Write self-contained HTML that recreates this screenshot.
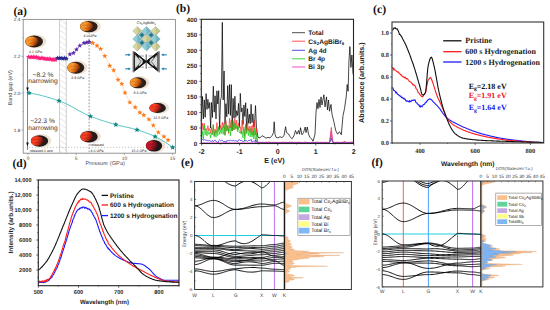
<!DOCTYPE html>
<html><head><meta charset="utf-8"><style>
html,body{margin:0;padding:0;background:#fff;width:550px;height:310px;overflow:hidden}
svg{display:block}
text{text-rendering:geometricPrecision}
</style></head><body>
<svg width="550" height="310" viewBox="0 0 550 310">
<rect width="550" height="310" fill="#fff"/>
<g id="pa">
<defs><pattern id="hatch" patternUnits="userSpaceOnUse" width="4.5" height="4.5" patternTransform="rotate(-55)"><line x1="0" y1="0" x2="0" y2="4.5" stroke="#c8c8c8" stroke-width="0.8"/></pattern></defs>
<rect x="59.5" y="19.4" width="6.8" height="133.5" fill="url(#hatch)"/>
<line x1="59.5" y1="19.4" x2="59.5" y2="152.9" stroke="#bbb" stroke-width="0.7"/><line x1="66.3" y1="19.4" x2="66.3" y2="152.9" stroke="#bbb" stroke-width="0.7"/>
<line x1="89.1" y1="19.4" x2="89.1" y2="152.9" stroke="#444" stroke-width="0.6" stroke-dasharray="1.6,1.6"/>
<line x1="29" y1="147.3" x2="173" y2="147.3" stroke="#999" stroke-width="0.6" stroke-dasharray="1.2,1.8"/>
<line x1="27.5" y1="59" x2="27.5" y2="150" stroke="#333" stroke-width="0.6"/>
<polygon points="26.2,87.5 28.8,87.5 27.5,91.5" fill="#111"/>
<polygon points="26.2,142.5 28.8,142.5 27.5,146.5" fill="#111"/>
<defs><linearGradient id="g9" x1="0" y1="0" x2="1" y2="0.3"><stop offset="0" stop-color="#f58a20"/><stop offset="0.45" stop-color="#f39a30"/><stop offset="0.75" stop-color="#d86010"/><stop offset="1" stop-color="#7a3010"/></linearGradient></defs><ellipse cx="35.7" cy="41.3" rx="10.5" ry="6.9" fill="#ece2d4"/><ellipse cx="34.1" cy="41.5" rx="8.9" ry="5.9" fill="#2e2019"/><path d="M25.4,41.5 C25.4,36.8 30.5,35.9 34.5,37.1 C37.2,38.0 39.0,40.3 38.1,42.4 C36.8,44.7 33.2,46.5 30.1,46.2 C27.0,45.6 25.4,43.9 25.4,41.5 Z" fill="url(#g9)"/><path d="M27.9,40.3 L35.9,39.4 M28.8,43.6 L35.0,42.7" stroke="#a04810" stroke-width="0.5" opacity="0.6"/>
<defs><linearGradient id="g10" x1="0" y1="0" x2="1" y2="0.3"><stop offset="0" stop-color="#f58a20"/><stop offset="0.45" stop-color="#f39a30"/><stop offset="0.75" stop-color="#d86010"/><stop offset="1" stop-color="#7a3010"/></linearGradient></defs><ellipse cx="90.4" cy="26.4" rx="10.4" ry="6.7" fill="#ece2d4"/><ellipse cx="88.8" cy="26.6" rx="8.8" ry="5.7" fill="#2e2019"/><path d="M80.2,26.6 C80.2,22.0 85.3,21.2 89.2,22.3 C91.9,23.2 93.6,25.5 92.8,27.5 C91.4,29.7 87.9,31.4 84.8,31.2 C81.8,30.6 80.2,28.9 80.2,26.6 Z" fill="url(#g10)"/><path d="M82.6,25.5 L90.6,24.6 M83.5,28.6 L89.7,27.7" stroke="#a04810" stroke-width="0.5" opacity="0.6"/>
<defs><linearGradient id="g11" x1="0" y1="0" x2="1" y2="0.3"><stop offset="0" stop-color="#f58a20"/><stop offset="0.45" stop-color="#f39a30"/><stop offset="0.75" stop-color="#d86010"/><stop offset="1" stop-color="#7a3010"/></linearGradient></defs><ellipse cx="77.4" cy="67.6" rx="10.1" ry="7.0" fill="#ece2d4"/><ellipse cx="75.8" cy="67.8" rx="8.5" ry="6" fill="#2e2019"/><path d="M67.5,67.8 C67.5,63.0 72.4,62.1 76.2,63.3 C78.8,64.2 80.5,66.6 79.6,68.7 C78.3,71.1 75.0,72.9 72.0,72.6 C69.0,72.0 67.5,70.2 67.5,67.8 Z" fill="url(#g11)"/><path d="M69.8,66.6 L77.5,65.7 M70.7,69.9 L76.6,69.0" stroke="#a04810" stroke-width="0.5" opacity="0.6"/>
<defs><linearGradient id="g12" x1="0" y1="0" x2="1" y2="0.3"><stop offset="0" stop-color="#f58a20"/><stop offset="0.45" stop-color="#f39a30"/><stop offset="0.75" stop-color="#d86010"/><stop offset="1" stop-color="#7a3010"/></linearGradient></defs><ellipse cx="139.6" cy="82.6" rx="9.9" ry="6.5" fill="#ece2d4"/><ellipse cx="138" cy="82.8" rx="8.3" ry="5.5" fill="#2e2019"/><path d="M129.9,82.8 C129.9,78.4 134.7,77.6 138.4,78.7 C140.9,79.5 142.6,81.7 141.7,83.6 C140.5,85.8 137.2,87.5 134.3,87.2 C131.4,86.6 129.9,85.0 129.9,82.8 Z" fill="url(#g12)"/><path d="M132.2,81.7 L139.7,80.9 M133.0,84.7 L138.8,83.9" stroke="#a04810" stroke-width="0.5" opacity="0.6"/>
<defs><linearGradient id="g13" x1="0" y1="0" x2="1" y2="0.3"><stop offset="0" stop-color="#e83018"/><stop offset="0.45" stop-color="#f84424"/><stop offset="0.75" stop-color="#c82814"/><stop offset="1" stop-color="#5a1810"/></linearGradient></defs><ellipse cx="159.2" cy="107.8" rx="9.9" ry="6.1" fill="#ece2d4"/><ellipse cx="157.6" cy="108" rx="8.3" ry="5.1" fill="#261a1a"/><path d="M149.5,108.0 C149.5,103.9 154.3,103.2 158.0,104.2 C160.5,104.9 162.2,107.0 161.3,108.8 C160.1,110.8 156.8,112.3 153.9,112.1 C151.0,111.6 149.5,110.0 149.5,108.0 Z" fill="url(#g13)"/><path d="M151.8,107.0 L159.3,106.2 M152.6,109.8 L158.4,109.0" stroke="#901010" stroke-width="0.5" opacity="0.6"/>
<defs><linearGradient id="g14" x1="0" y1="0" x2="1" y2="0.3"><stop offset="0" stop-color="#e83018"/><stop offset="0.45" stop-color="#f84424"/><stop offset="0.75" stop-color="#c82814"/><stop offset="1" stop-color="#5a1810"/></linearGradient></defs><ellipse cx="41.1" cy="140.8" rx="10.3" ry="6.8" fill="#ece2d4"/><ellipse cx="39.5" cy="141" rx="8.7" ry="5.8" fill="#261a1a"/><path d="M31.0,141.0 C31.0,136.4 36.0,135.5 39.9,136.7 C42.5,137.5 44.3,139.8 43.4,141.9 C42.1,144.2 38.6,145.9 35.6,145.6 C32.5,145.1 31.0,143.3 31.0,141.0 Z" fill="url(#g14)"/><path d="M33.4,139.8 L41.2,139.0 M34.3,143.0 L40.4,142.2" stroke="#901010" stroke-width="0.5" opacity="0.6"/>
<defs><linearGradient id="g15" x1="0" y1="0" x2="1" y2="0.3"><stop offset="0" stop-color="#e83018"/><stop offset="0.45" stop-color="#f84424"/><stop offset="0.75" stop-color="#c82814"/><stop offset="1" stop-color="#5a1810"/></linearGradient></defs><ellipse cx="90.6" cy="136.5" rx="10.3" ry="6.8" fill="#ece2d4"/><ellipse cx="89" cy="136.7" rx="8.7" ry="5.8" fill="#261a1a"/><path d="M80.5,136.7 C80.5,132.1 85.5,131.2 89.4,132.3 C92.0,133.2 93.8,135.5 92.9,137.6 C91.6,139.9 88.1,141.6 85.1,141.3 C82.0,140.8 80.5,139.0 80.5,136.7 Z" fill="url(#g15)"/><path d="M82.9,135.5 L90.7,134.7 M83.8,138.7 L89.9,137.9" stroke="#901010" stroke-width="0.5" opacity="0.6"/>
<defs><linearGradient id="g16" x1="0" y1="0" x2="1" y2="0.3"><stop offset="0" stop-color="#b01020"/><stop offset="0.45" stop-color="#c41a28"/><stop offset="0.75" stop-color="#901020"/><stop offset="1" stop-color="#401016"/></linearGradient></defs><ellipse cx="155.6" cy="145.6" rx="9.8" ry="6.8" fill="#ece2d4"/><ellipse cx="154" cy="145.8" rx="8.2" ry="5.8" fill="#1e1618"/><path d="M146.0,145.8 C146.0,141.2 150.7,140.3 154.4,141.5 C156.9,142.3 158.5,144.6 157.7,146.7 C156.5,149.0 153.2,150.7 150.3,150.4 C147.4,149.9 146.0,148.1 146.0,145.8 Z" fill="url(#g16)"/><path d="M148.3,144.6 L155.6,143.8 M149.1,147.8 L154.8,147.0" stroke="#701018" stroke-width="0.5" opacity="0.6"/>
<text x="35.5" y="52.6" font-family='"Liberation Sans", sans-serif' font-size="3.5" fill="#222" text-anchor="middle">0.1 GPa</text>
<text x="90" y="36.6" font-family='"Liberation Sans", sans-serif' font-size="3.5" fill="#222" text-anchor="middle">4.0 GPa</text>
<text x="77.7" y="79.2" font-family='"Liberation Sans", sans-serif' font-size="3.5" fill="#222" text-anchor="middle">3.9 GPa</text>
<text x="140" y="93.9" font-family='"Liberation Sans", sans-serif' font-size="3.5" fill="#222" text-anchor="middle">9.4 GPa</text>
<text x="160.7" y="118.9" font-family='"Liberation Sans", sans-serif' font-size="3.5" fill="#222" text-anchor="middle">12.5 GPa</text>
<text x="41.3" y="151.6" font-family='"Liberation Sans", sans-serif' font-size="3.5" fill="#222" text-anchor="middle">released 1 atm</text>
<text x="97" y="146.3" font-family='"Liberation Sans", sans-serif' font-size="3.5" fill="#222" text-anchor="middle">released</text>
<text x="97" y="151.6" font-family='"Liberation Sans", sans-serif' font-size="3.5" fill="#222" text-anchor="middle">4.0 GPa</text>
<text x="139" y="151.6" font-family='"Liberation Sans", sans-serif' font-size="3.5" fill="#222" text-anchor="middle">15.0 GPa</text>
<polyline points="28.5,57.0 30.1,57.2 31.7,57.1 33.3,57.0 34.9,57.3 36.4,57.3 38.0,57.8 39.6,58.4 41.2,58.0 42.8,58.1 44.4,58.7 46.0,58.8 47.6,58.9 49.1,58.8 50.7,59.3 52.3,59.8 53.9,59.3 55.5,59.8" fill="none" stroke="#ff3d8a" stroke-width="0.8"/>
<polygon points="28.50,54.30 29.21,56.02 31.07,56.17 29.66,57.38 30.09,59.18 28.50,58.22 26.91,59.18 27.34,57.38 25.93,56.17 27.79,56.02" fill="#ff1f7a"/>
<polygon points="30.09,54.48 30.80,56.20 32.66,56.35 31.24,57.56 31.68,59.36 30.09,58.39 28.50,59.36 28.93,57.56 27.52,56.35 29.37,56.20" fill="#ff1f7a"/>
<polygon points="31.68,54.39 32.39,56.11 34.24,56.26 32.83,57.47 33.26,59.27 31.68,58.30 30.09,59.27 30.52,57.47 29.11,56.26 30.96,56.11" fill="#ff1f7a"/>
<polygon points="33.26,54.30 33.98,56.02 35.83,56.17 34.42,57.38 34.85,59.19 33.26,58.22 31.68,59.19 32.11,57.38 30.70,56.17 32.55,56.02" fill="#ff1f7a"/>
<polygon points="34.85,54.60 35.57,56.32 37.42,56.46 36.01,57.67 36.44,59.48 34.85,58.51 33.27,59.48 33.70,57.67 32.29,56.46 34.14,56.32" fill="#ff1f7a"/>
<polygon points="36.44,54.56 37.16,56.28 39.01,56.43 37.60,57.64 38.03,59.45 36.44,58.48 34.85,59.45 35.29,57.64 33.87,56.43 35.73,56.28" fill="#ff1f7a"/>
<polygon points="38.03,55.10 38.74,56.81 40.60,56.96 39.18,58.17 39.62,59.98 38.03,59.01 36.44,59.98 36.87,58.17 35.46,56.96 37.32,56.81" fill="#ff1f7a"/>
<polygon points="39.62,55.72 40.33,57.43 42.19,57.58 40.77,58.79 41.20,60.60 39.62,59.63 38.03,60.60 38.46,58.79 37.05,57.58 38.90,57.43" fill="#ff1f7a"/>
<polygon points="41.21,55.25 41.92,56.97 43.77,57.12 42.36,58.33 42.79,60.14 41.21,59.17 39.62,60.14 40.05,58.33 38.64,57.12 40.49,56.97" fill="#ff1f7a"/>
<polygon points="42.79,55.40 43.51,57.11 45.36,57.26 43.95,58.47 44.38,60.28 42.79,59.31 41.21,60.28 41.64,58.47 40.23,57.26 42.08,57.11" fill="#ff1f7a"/>
<polygon points="44.38,55.98 45.10,57.69 46.95,57.84 45.54,59.05 45.97,60.86 44.38,59.89 42.80,60.86 43.23,59.05 41.81,57.84 43.67,57.69" fill="#ff1f7a"/>
<polygon points="45.97,56.13 46.68,57.85 48.54,57.99 47.13,59.20 47.56,61.01 45.97,60.04 44.38,61.01 44.82,59.20 43.40,57.99 45.26,57.85" fill="#ff1f7a"/>
<polygon points="47.56,56.24 48.27,57.96 50.13,58.11 48.71,59.32 49.15,61.13 47.56,60.16 45.97,61.13 46.40,59.32 44.99,58.11 46.84,57.96" fill="#ff1f7a"/>
<polygon points="49.15,56.09 49.86,57.81 51.71,57.96 50.30,59.17 50.73,60.98 49.15,60.01 47.56,60.98 47.99,59.17 46.58,57.96 48.43,57.81" fill="#ff1f7a"/>
<polygon points="50.74,56.62 51.45,58.34 53.30,58.49 51.89,59.70 52.32,61.50 50.74,60.54 49.15,61.50 49.58,59.70 48.17,58.49 50.02,58.34" fill="#ff1f7a"/>
<polygon points="52.32,57.09 53.04,58.81 54.89,58.96 53.48,60.17 53.91,61.98 52.32,61.01 50.74,61.98 51.17,60.17 49.76,58.96 51.61,58.81" fill="#ff1f7a"/>
<polygon points="53.91,56.60 54.63,58.32 56.48,58.47 55.07,59.68 55.50,61.49 53.91,60.52 52.32,61.49 52.76,59.68 51.34,58.47 53.20,58.32" fill="#ff1f7a"/>
<polygon points="55.50,57.14 56.21,58.86 58.07,59.01 56.66,60.22 57.09,62.02 55.50,61.05 53.91,62.02 54.34,60.22 52.93,59.01 54.79,58.86" fill="#ff1f7a"/>
<polygon points="57.50,55.43 58.19,57.08 59.97,57.23 58.61,58.39 59.03,60.13 57.50,59.20 55.97,60.13 56.39,58.39 55.03,57.23 56.81,57.08" fill="#25258f"/>
<polygon points="59.30,55.61 59.99,57.27 61.77,57.41 60.41,58.57 60.83,60.32 59.30,59.38 57.77,60.32 58.19,58.57 56.83,57.41 58.61,57.27" fill="#25258f"/>
<polygon points="61.10,55.45 61.79,57.10 63.57,57.24 62.21,58.41 62.63,60.15 61.10,59.22 59.57,60.15 59.99,58.41 58.63,57.24 60.41,57.10" fill="#25258f"/>
<polygon points="62.90,55.93 63.59,57.58 65.37,57.73 64.01,58.89 64.43,60.63 62.90,59.70 61.37,60.63 61.79,58.89 60.43,57.73 62.21,57.58" fill="#25258f"/>
<polygon points="64.70,55.62 65.39,57.27 67.17,57.42 65.81,58.58 66.23,60.32 64.70,59.39 63.17,60.32 63.59,58.58 62.23,57.42 64.01,57.27" fill="#25258f"/>
<polygon points="66.50,56.08 67.19,57.73 68.97,57.88 67.61,59.04 68.03,60.78 66.50,59.85 64.97,60.78 65.39,59.04 64.03,57.88 65.81,57.73" fill="#25258f"/>
<polyline points="69.9,54.3 73.5,53.0 76.5,49.5 79.8,45.7 83.9,43.0 86.1,42.6 88.2,42.0 89.5,42.0" fill="none" stroke="#6a3aa8" stroke-width="0.6"/>
<polygon points="69.90,51.70 70.59,53.35 72.37,53.50 71.01,54.66 71.43,56.40 69.90,55.47 68.37,56.40 68.79,54.66 67.43,53.50 69.21,53.35" fill="#5f30a8"/>
<polygon points="73.50,50.40 74.19,52.05 75.97,52.20 74.61,53.36 75.03,55.10 73.50,54.17 71.97,55.10 72.39,53.36 71.03,52.20 72.81,52.05" fill="#5f30a8"/>
<polygon points="76.50,46.90 77.19,48.55 78.97,48.70 77.61,49.86 78.03,51.60 76.50,50.67 74.97,51.60 75.39,49.86 74.03,48.70 75.81,48.55" fill="#5f30a8"/>
<polygon points="79.80,43.10 80.49,44.75 82.27,44.90 80.91,46.06 81.33,47.80 79.80,46.87 78.27,47.80 78.69,46.06 77.33,44.90 79.11,44.75" fill="#5f30a8"/>
<polygon points="83.90,40.40 84.59,42.05 86.37,42.20 85.01,43.36 85.43,45.10 83.90,44.17 82.37,45.10 82.79,43.36 81.43,42.20 83.21,42.05" fill="#5f30a8"/>
<polygon points="86.10,40.00 86.79,41.65 88.57,41.80 87.21,42.96 87.63,44.70 86.10,43.77 84.57,44.70 84.99,42.96 83.63,41.80 85.41,41.65" fill="#5f30a8"/>
<polygon points="88.20,39.40 88.89,41.05 90.67,41.20 89.31,42.36 89.73,44.10 88.20,43.17 86.67,44.10 87.09,42.36 85.73,41.20 87.51,41.05" fill="#5f30a8"/>
<polygon points="89.50,39.40 90.19,41.05 91.97,41.20 90.61,42.36 91.03,44.10 89.50,43.17 87.97,44.10 88.39,42.36 87.03,41.20 88.81,41.05" fill="#5f30a8"/>
<polyline points="92.7,43.0 97.0,45.7 100.6,48.9 104.8,56.1 109.7,65.8 113.7,70.2 118.1,79.8 121.8,83.9 125.0,92.7 129.8,102.4 135.2,107.3 139.9,112.5 143.7,115.0 148.9,119.4 153.3,125.4 158.4,132.4 163.9,136.6 168.0,140.0" fill="none" stroke="#ff9a4a" stroke-width="0.6" stroke-dasharray="1.2,1"/>
<polygon points="92.70,40.30 93.41,42.02 95.27,42.17 93.86,43.38 94.29,45.18 92.70,44.22 91.11,45.18 91.54,43.38 90.13,42.17 91.99,42.02" fill="#ff7a1a"/>
<polygon points="97.00,43.00 97.71,44.72 99.57,44.87 98.16,46.08 98.59,47.88 97.00,46.92 95.41,47.88 95.84,46.08 94.43,44.87 96.29,44.72" fill="#ff7a1a"/>
<polygon points="100.60,46.20 101.31,47.92 103.17,48.07 101.76,49.28 102.19,51.08 100.60,50.12 99.01,51.08 99.44,49.28 98.03,48.07 99.89,47.92" fill="#ff7a1a"/>
<polygon points="104.80,53.40 105.51,55.12 107.37,55.27 105.96,56.48 106.39,58.28 104.80,57.32 103.21,58.28 103.64,56.48 102.23,55.27 104.09,55.12" fill="#ff7a1a"/>
<polygon points="109.70,63.10 110.41,64.82 112.27,64.97 110.86,66.18 111.29,67.98 109.70,67.02 108.11,67.98 108.54,66.18 107.13,64.97 108.99,64.82" fill="#ff7a1a"/>
<polygon points="113.70,67.50 114.41,69.22 116.27,69.37 114.86,70.58 115.29,72.38 113.70,71.42 112.11,72.38 112.54,70.58 111.13,69.37 112.99,69.22" fill="#ff7a1a"/>
<polygon points="118.10,77.10 118.81,78.82 120.67,78.97 119.26,80.18 119.69,81.98 118.10,81.02 116.51,81.98 116.94,80.18 115.53,78.97 117.39,78.82" fill="#ff7a1a"/>
<polygon points="121.80,81.20 122.51,82.92 124.37,83.07 122.96,84.28 123.39,86.08 121.80,85.12 120.21,86.08 120.64,84.28 119.23,83.07 121.09,82.92" fill="#ff7a1a"/>
<polygon points="125.00,90.00 125.71,91.72 127.57,91.87 126.16,93.08 126.59,94.88 125.00,93.92 123.41,94.88 123.84,93.08 122.43,91.87 124.29,91.72" fill="#ff7a1a"/>
<polygon points="129.80,99.70 130.51,101.42 132.37,101.57 130.96,102.78 131.39,104.58 129.80,103.62 128.21,104.58 128.64,102.78 127.23,101.57 129.09,101.42" fill="#ff7a1a"/>
<polygon points="135.20,104.60 135.91,106.32 137.77,106.47 136.36,107.68 136.79,109.48 135.20,108.52 133.61,109.48 134.04,107.68 132.63,106.47 134.49,106.32" fill="#ff7a1a"/>
<polygon points="139.90,109.80 140.61,111.52 142.47,111.67 141.06,112.88 141.49,114.68 139.90,113.72 138.31,114.68 138.74,112.88 137.33,111.67 139.19,111.52" fill="#ff7a1a"/>
<polygon points="143.70,112.30 144.41,114.02 146.27,114.17 144.86,115.38 145.29,117.18 143.70,116.22 142.11,117.18 142.54,115.38 141.13,114.17 142.99,114.02" fill="#ff7a1a"/>
<polygon points="148.90,116.70 149.61,118.42 151.47,118.57 150.06,119.78 150.49,121.58 148.90,120.62 147.31,121.58 147.74,119.78 146.33,118.57 148.19,118.42" fill="#ff7a1a"/>
<polygon points="153.30,122.70 154.01,124.42 155.87,124.57 154.46,125.78 154.89,127.58 153.30,126.62 151.71,127.58 152.14,125.78 150.73,124.57 152.59,124.42" fill="#ff7a1a"/>
<polygon points="158.40,129.70 159.11,131.42 160.97,131.57 159.56,132.78 159.99,134.58 158.40,133.62 156.81,134.58 157.24,132.78 155.83,131.57 157.69,131.42" fill="#ff7a1a"/>
<polygon points="163.90,133.90 164.61,135.62 166.47,135.77 165.06,136.98 165.49,138.78 163.90,137.81 162.31,138.78 162.74,136.98 161.33,135.77 163.19,135.62" fill="#ff7a1a"/>
<polygon points="168.00,137.30 168.71,139.02 170.57,139.17 169.16,140.38 169.59,142.18 168.00,141.22 166.41,142.18 166.84,140.38 165.43,139.17 167.29,139.02" fill="#ff7a1a"/>
<polyline points="29.0,93.0 30.8,93.3 32.6,93.6 34.5,93.9 36.3,94.3 38.1,94.7 39.9,95.1 41.7,95.6 43.6,96.1 45.4,96.5 47.2,97.1 49.0,97.6 50.8,98.1 52.6,98.7 54.5,99.3 56.3,99.9 58.1,100.5 59.9,101.1 61.7,101.8 63.6,102.6 65.4,103.4 67.2,104.3 69.0,105.3 70.8,106.2 72.7,107.2 74.5,108.2 76.3,109.2 78.1,110.3 79.9,111.3 81.8,112.2 83.6,113.2 85.4,114.1 87.2,114.9 89.0,115.7 90.8,116.5 92.7,117.2 94.5,117.8 96.3,118.5 98.1,119.1 99.9,119.8 101.8,120.4 103.6,121.0 105.4,121.5 107.2,122.1 109.0,122.6 110.9,123.2 112.7,123.7 114.5,124.2 116.3,124.7 118.1,125.2 119.9,125.7 121.8,126.1 123.6,126.5 125.4,126.9 127.2,127.3 129.0,127.7 130.9,128.2 132.7,128.6 134.5,129.1 136.3,129.6 138.1,130.1 140.0,130.7 141.8,131.3 143.6,131.9 145.4,132.6 147.2,133.3 149.1,134.0 150.9,134.7 152.7,135.5 154.5,136.3 156.3,137.2 158.1,138.1 160.0,139.1 161.8,140.1 163.6,141.2 165.4,142.4 167.2,143.6 169.1,144.8 170.9,146.1 172.7,147.4" fill="none" stroke="#2ab5b2" stroke-width="0.8"/>
<polygon points="29.00,90.10 29.77,91.94 31.76,92.10 30.24,93.40 30.70,95.35 29.00,94.31 27.30,95.35 27.76,93.40 26.24,92.10 28.23,91.94" fill="#0f8585"/>
<polygon points="59.00,97.90 59.77,99.74 61.76,99.90 60.24,101.20 60.70,103.15 59.00,102.11 57.30,103.15 57.76,101.20 56.24,99.90 58.23,99.74" fill="#0f8585"/>
<polygon points="90.40,113.40 91.17,115.24 93.16,115.40 91.64,116.70 92.10,118.65 90.40,117.61 88.70,118.65 89.16,116.70 87.64,115.40 89.63,115.24" fill="#0f8585"/>
<polygon points="115.80,121.70 116.57,123.54 118.56,123.70 117.04,125.00 117.50,126.95 115.80,125.91 114.10,126.95 114.56,125.00 113.04,123.70 115.03,123.54" fill="#0f8585"/>
<polygon points="137.00,126.90 137.77,128.74 139.76,128.90 138.24,130.20 138.70,132.15 137.00,131.11 135.30,132.15 135.76,130.20 134.24,128.90 136.23,128.74" fill="#0f8585"/>
<polygon points="155.10,133.70 155.87,135.54 157.86,135.70 156.34,137.00 156.80,138.95 155.10,137.91 153.40,138.95 153.86,137.00 152.34,135.70 154.33,135.54" fill="#0f8585"/>
<polygon points="172.70,144.50 173.47,146.34 175.46,146.50 173.94,147.80 174.40,149.75 172.70,148.71 171.00,149.75 171.46,147.80 169.94,146.50 171.93,146.34" fill="#0f8585"/>
<polygon points="137.3,26.4 141.8,30.9 137.3,35.4 132.8,30.9" fill="#c2c488" stroke="#6a7a70" stroke-width="0.3"/><polygon points="132.8,30.9 137.3,26.4 137.3,35.4" fill="#dcdca8" opacity="0.8"/><polygon points="146.5,26.4 151.0,30.9 146.5,35.4 142.0,30.9" fill="#6fb6c8" stroke="#6a7a70" stroke-width="0.3"/><polygon points="142.0,30.9 146.5,26.4 146.5,35.4" fill="#9ad4dc" opacity="0.8"/><polygon points="155.7,26.4 160.2,30.9 155.7,35.4 151.2,30.9" fill="#c2c488" stroke="#6a7a70" stroke-width="0.3"/><polygon points="151.2,30.9 155.7,26.4 155.7,35.4" fill="#dcdca8" opacity="0.8"/><polygon points="137.3,34.4 141.8,38.9 137.3,43.4 132.8,38.9" fill="#6fb6c8" stroke="#6a7a70" stroke-width="0.3"/><polygon points="132.8,38.9 137.3,34.4 137.3,43.4" fill="#9ad4dc" opacity="0.8"/><polygon points="146.5,34.4 151.0,38.9 146.5,43.4 142.0,38.9" fill="#c2c488" stroke="#6a7a70" stroke-width="0.3"/><polygon points="142.0,38.9 146.5,34.4 146.5,43.4" fill="#dcdca8" opacity="0.8"/><polygon points="155.7,34.4 160.2,38.9 155.7,43.4 151.2,38.9" fill="#6fb6c8" stroke="#6a7a70" stroke-width="0.3"/><polygon points="151.2,38.9 155.7,34.4 155.7,43.4" fill="#9ad4dc" opacity="0.8"/><polygon points="137.3,42.0 141.8,46.5 137.3,51.0 132.8,46.5" fill="#c2c488" stroke="#6a7a70" stroke-width="0.3"/><polygon points="132.8,46.5 137.3,42.0 137.3,51.0" fill="#dcdca8" opacity="0.8"/><polygon points="146.5,42.0 151.0,46.5 146.5,51.0 142.0,46.5" fill="#6fb6c8" stroke="#6a7a70" stroke-width="0.3"/><polygon points="142.0,46.5 146.5,42.0 146.5,51.0" fill="#9ad4dc" opacity="0.8"/><polygon points="155.7,42.0 160.2,46.5 155.7,51.0 151.2,46.5" fill="#c2c488" stroke="#6a7a70" stroke-width="0.3"/><polygon points="151.2,46.5 155.7,42.0 155.7,51.0" fill="#dcdca8" opacity="0.8"/><polygon points="141.9,31.9 144.9,34.9 141.9,37.9 138.9,34.9" fill="#3f8fb0" stroke="#3a6a80" stroke-width="0.3"/><ellipse cx="141.9" cy="34.9" rx="1.3" ry="0.9" fill="#0c7a5a"/><polygon points="151.1,31.9 154.1,34.9 151.1,37.9 148.1,34.9" fill="#3f8fb0" stroke="#3a6a80" stroke-width="0.3"/><ellipse cx="151.1" cy="34.9" rx="1.3" ry="0.9" fill="#0c7a5a"/><polygon points="141.9,39.7 144.9,42.7 141.9,45.7 138.9,42.7" fill="#3f8fb0" stroke="#3a6a80" stroke-width="0.3"/><ellipse cx="141.9" cy="42.7" rx="1.3" ry="0.9" fill="#0c7a5a"/><polygon points="151.1,39.7 154.1,42.7 151.1,45.7 148.1,42.7" fill="#3f8fb0" stroke="#3a6a80" stroke-width="0.3"/><ellipse cx="151.1" cy="42.7" rx="1.3" ry="0.9" fill="#0c7a5a"/>
<text x="146.3" y="24.4" font-family='"Liberation Sans", sans-serif' font-size="3.8" fill="#333" text-anchor="middle">Cs<tspan font-size="2.5" dy="0.8">2</tspan><tspan dy="-0.8">AgBiBr</tspan><tspan font-size="2.5" dy="0.8">6</tspan></text>
<rect x="132.6" y="51.2" width="1.5" height="21.2" fill="#777"/><rect x="158.3" y="51.2" width="1.5" height="21.2" fill="#777"/><polygon points="134.5,52 146,61.6 134.5,71.2" fill="#d8dcdc" stroke="#111" stroke-width="0.9"/><polygon points="157.9,52 146.4,61.6 157.9,71.2" fill="#d8dcdc" stroke="#111" stroke-width="0.9"/><path d="M136,54 L146,61.6 L136,69.2 M156.4,54 L146.4,61.6 L156.4,69.2" stroke="#111" stroke-width="1.3" fill="none"/><path d="M137.5,57 L141,61.6 L137.5,66.2 M154.9,57 L151.4,61.6 L154.9,66.2" stroke="#222" stroke-width="0.6" fill="none"/><polygon points="141.5,57.6 146,61.6 141.5,65.6 143,61.6" fill="#111"/><polygon points="150.9,57.6 146.4,61.6 150.9,65.6 149.4,61.6" fill="#111"/><path d="M135,53.5 L139,57.5 M135,69.7 L139,65.7 M157.4,53.5 L153.4,57.5 M157.4,69.7 L153.4,65.7" stroke="#111" stroke-width="1.6"/><path d="M135,56 L144,56 M135,67.2 L144,67.2 M148.4,56 L157.4,56 M148.4,67.2 L157.4,67.2" stroke="#333" stroke-width="0.45" fill="none"/><line x1="146.2" y1="54.3" x2="146.2" y2="68.8" stroke="#333" stroke-width="0.9"/>
<line x1="125.2" y1="54.8" x2="129.5" y2="54.8" stroke="#1f7fae" stroke-width="1.1"/><polygon points="130.8,54.8 128.4,53.4 128.4,56.199999999999996" fill="#1f7fae"/>
<line x1="162.5" y1="54.8" x2="166.8" y2="54.8" stroke="#1f7fae" stroke-width="1.1"/><polygon points="161.2,54.8 163.6,53.4 163.6,56.199999999999996" fill="#1f7fae"/>
<line x1="125.2" y1="68.8" x2="129.5" y2="68.8" stroke="#1f7fae" stroke-width="1.1"/><polygon points="130.8,68.8 128.4,67.39999999999999 128.4,70.2" fill="#1f7fae"/>
<line x1="162.5" y1="68.8" x2="166.8" y2="68.8" stroke="#1f7fae" stroke-width="1.1"/><polygon points="161.2,68.8 163.6,67.39999999999999 163.6,70.2" fill="#1f7fae"/>
<text x="43" y="77" font-family='"Liberation Sans", sans-serif' font-size="6.7" fill="#333" text-anchor="middle">~8.2 %</text>
<text x="43" y="83.3" font-family='"Liberation Sans", sans-serif' font-size="6.7" fill="#333" text-anchor="middle">narrowing</text>
<text x="42.5" y="122.5" font-family='"Liberation Sans", sans-serif' font-size="6.7" fill="#333" text-anchor="middle">~22.3 %</text>
<text x="43" y="130.3" font-family='"Liberation Sans", sans-serif' font-size="6.7" fill="#333" text-anchor="middle">narrowing</text>
<rect x="23.2" y="19.4" width="152.2" height="133.8" fill="none" stroke="#8a8a8a" stroke-width="0.9"/>
<line x1="21.5" y1="19.4" x2="23.2" y2="19.4" stroke="#777" stroke-width="0.6"/>
<text x="20.4" y="21.1" font-family='"Liberation Sans", sans-serif' font-size="4.7" fill="#333" text-anchor="end">2.4</text>
<line x1="21.5" y1="56.3" x2="23.2" y2="56.3" stroke="#777" stroke-width="0.6"/>
<text x="20.4" y="58.0" font-family='"Liberation Sans", sans-serif' font-size="4.7" fill="#333" text-anchor="end">2.2</text>
<line x1="21.5" y1="93.2" x2="23.2" y2="93.2" stroke="#777" stroke-width="0.6"/>
<text x="20.4" y="94.9" font-family='"Liberation Sans", sans-serif' font-size="4.7" fill="#333" text-anchor="end">2.0</text>
<line x1="21.5" y1="130.1" x2="23.2" y2="130.1" stroke="#777" stroke-width="0.6"/>
<text x="20.4" y="131.8" font-family='"Liberation Sans", sans-serif' font-size="4.7" fill="#333" text-anchor="end">1.8</text>
<line x1="22.2" y1="37.9" x2="23.2" y2="37.9" stroke="#777" stroke-width="0.5"/>
<line x1="22.2" y1="74.7" x2="23.2" y2="74.7" stroke="#777" stroke-width="0.5"/>
<line x1="22.2" y1="111.7" x2="23.2" y2="111.7" stroke="#777" stroke-width="0.5"/>
<line x1="28.0" y1="153.2" x2="28.0" y2="155" stroke="#777" stroke-width="0.6"/>
<text x="28.0" y="160.4" font-family='"Liberation Sans", sans-serif' font-size="4.9" fill="#444" text-anchor="middle">0</text>
<line x1="76.2" y1="153.2" x2="76.2" y2="155" stroke="#777" stroke-width="0.6"/>
<text x="76.2" y="160.4" font-family='"Liberation Sans", sans-serif' font-size="4.9" fill="#444" text-anchor="middle">5</text>
<line x1="124.4" y1="153.2" x2="124.4" y2="155" stroke="#777" stroke-width="0.6"/>
<text x="124.4" y="160.4" font-family='"Liberation Sans", sans-serif' font-size="4.9" fill="#444" text-anchor="middle">10</text>
<line x1="172.6" y1="153.2" x2="172.6" y2="155" stroke="#777" stroke-width="0.6"/>
<text x="172.6" y="160.4" font-family='"Liberation Sans", sans-serif' font-size="4.9" fill="#444" text-anchor="middle">15</text>
<text x="105.2" y="165" font-family='"Liberation Sans", sans-serif' font-size="5.7" fill="#555" text-anchor="middle">Pressure (GPa)</text>
<text transform="translate(12.2,87.8) rotate(-90)" font-family='"Liberation Sans", sans-serif' font-size="5.5" fill="#444" text-anchor="middle">Band gap (eV)</text>
<text x="13.4" y="14.6" font-family='"Liberation Serif", serif' font-weight="bold" font-size="11.6" fill="#111">(a)</text>
</g>
<g id="pb">
<defs><clipPath id="cb"><rect x="201.3" y="19.3" width="152.2" height="124.2"/></clipPath></defs>
<g clip-path="url(#cb)">
<polyline points="201.6,119.3 202.5,96.5 203.4,118.9 204.3,99.9 205.2,117.3 206.1,93.6 207.0,109.4 207.9,99.3 208.8,108.4 209.7,102.5 210.6,128.0 211.5,102.5 212.4,117.5 213.3,86.2 214.2,112.2 215.1,95.8 216.0,118.9 216.9,90.8 217.8,104.0 218.7,90.7 219.6,130.0 220.5,100.2 221.4,96.9 222.3,22.4 223.2,100.0 224.1,71.0 225.0,123.9 225.9,103.7 226.8,116.8 227.7,85.6 228.6,114.1 229.5,84.5 230.4,115.4 231.3,84.6 232.2,130.8 233.1,98.4 234.0,118.1 234.9,96.2 235.8,117.4 236.7,110.8 237.6,115.5 238.5,103.4 239.4,126.5 240.3,93.4 241.2,111.8 242.1,107.9 243.0,124.7 243.9,105.0 244.8,116.4 245.7,102.7 246.6,129.2 247.5,108.7 248.4,123.3 249.3,114.3 250.2,123.7 251.1,104.3 252.0,122.7 252.9,113.9 253.8,126.9 254.5,124.9 255.5,105.6 256.5,128.0 258.0,137.3 260.0,137.9 262.0,135.7 264.0,136.7 266.0,138.2 268.0,137.3 270.0,137.9 272.0,135.7 273.5,132.6 274.2,121.8 275.0,134.2 276.0,137.3 278.0,137.9 280.0,136.7 282.0,137.6 284.0,135.7 285.6,126.7 286.5,132.6 288.5,133.9 290.0,136.7 292.0,138.8 294.0,135.7 295.5,130.5 297.0,134.2 298.5,130.5 299.5,134.2 300.5,127.7 302.0,134.8 303.5,132.6 305.2,127.0 306.0,132.6 307.3,127.0 308.5,134.2 310.0,137.3 311.5,138.8 313.1,141.3 315.0,134.2 316.0,112.5 317.0,102.5 318.0,108.7 319.0,99.4 320.0,107.5 321.0,96.9 322.0,105.0 323.9,94.8 325.0,106.9 326.5,96.9 327.5,110.0 328.5,100.0 329.5,111.2 331.0,104.4 332.0,114.3 333.9,121.8 335.7,130.5 337.6,134.2 339.5,131.7 341.3,134.8 343.0,115.6 344.5,108.7 346.2,96.9 347.2,84.5 348.1,91.3 348.9,62.1 349.9,46.6 350.9,67.4 351.9,55.0 353.0,73.6 354.0,76.7" fill="none" stroke="#000" stroke-width="0.72" stroke-linejoin="round"/>
<polyline points="201.6,134.8 202.5,123.2 203.4,129.8 204.3,123.4 205.2,130.1 206.1,128.6 207.0,130.4 207.9,125.7 208.8,130.8 209.7,128.5 210.6,133.1 211.5,127.6 212.4,133.8 213.3,124.9 214.2,135.7 215.1,129.2 216.0,133.0 216.9,122.6 217.8,131.3 218.7,127.3 219.6,130.0 220.5,125.4 221.4,130.3 222.3,122.1 223.2,128.2 224.1,123.1 225.0,135.0 225.9,120.5 226.8,130.8 227.7,125.7 228.6,133.5 229.5,118.4 230.4,127.8 231.3,120.1 232.2,130.8 233.1,122.5 234.0,130.0 234.9,118.2 235.8,129.2 236.7,120.3 237.6,129.5 238.5,123.4 239.4,128.0 240.3,126.7 241.2,133.2 242.1,120.2 243.0,130.3 243.9,128.9 244.8,136.3 245.7,124.3 246.6,131.6 247.5,121.7 248.4,130.9 249.3,126.4 250.2,132.4 251.1,126.0 252.0,134.9 252.9,124.7 253.8,135.6 254.7,120.7 255.6,135.0 256.5,128.0 257.4,142.5 258.3,142.2 259.2,142.2 260.1,142.5 261.0,142.2 261.9,142.5 262.8,142.0 263.7,142.4 264.6,142.5 265.5,142.3 266.4,142.2 267.3,142.4 268.2,141.8 269.1,142.4 270.0,142.4 270.9,142.2 271.8,142.4 272.7,142.4 273.6,142.2 274.5,142.3 275.4,142.4 276.3,142.4 277.2,142.4 278.2,142.4 279.1,142.6 280.0,142.6 280.9,142.6 281.8,142.2 282.7,142.2 283.6,142.3 284.5,142.3 285.4,142.3 286.3,142.2 287.2,142.5 288.1,142.5 289.0,142.2 289.9,142.2 290.8,142.3 291.7,142.1 292.6,142.2 293.5,142.5 294.4,142.1 295.3,142.3 296.2,142.6 297.1,142.2 298.0,142.2 298.9,142.3 299.8,142.3 300.7,142.4 301.6,142.5 302.5,142.5 303.4,142.6 304.3,142.2 305.2,141.9 306.1,142.5 307.0,142.3 307.9,142.5 308.8,142.5 309.7,142.4 310.6,142.5 311.5,142.4 312.4,142.4 313.3,142.4 314.2,142.5 315.1,142.5 316.0,142.1 316.9,142.2 317.8,142.0 318.7,142.5 319.6,142.4 320.5,142.3 321.4,142.3 322.3,142.4 323.2,142.3 324.1,142.6 325.0,142.5 325.9,141.9 326.8,142.5 327.7,142.3 328.6,142.4 329.5,142.2 330.4,135.6 331.3,127.4 332.2,137.3 333.1,142.6 334.0,142.5 334.9,142.2 335.8,142.5 336.7,142.2 337.6,142.4 338.5,142.2 339.4,142.5 340.3,142.5 341.2,142.5 342.1,142.4 343.0,141.9 343.9,142.1 344.8,141.3 345.7,142.1 346.6,142.3 347.5,142.4 348.4,142.3 349.3,142.2 350.2,142.5 351.1,142.1 352.0,141.8 352.9,142.3 353.8,142.5" fill="none" stroke="#ff2a2a" stroke-width="0.7"/>
<polyline points="201.6,139.2 202.5,131.4 203.4,139.4 204.3,124.9 205.2,134.9 206.1,130.2 207.0,136.0 207.9,130.8 208.8,134.4 209.7,132.4 210.6,138.1 211.5,132.9 212.4,134.8 213.3,124.5 214.2,136.7 215.1,131.4 216.0,137.2 216.9,130.2 217.8,135.7 218.7,126.4 219.6,134.4 220.5,130.0 221.4,133.6 222.3,127.5 223.2,134.4 224.1,124.6 225.0,135.5 225.9,123.5 226.8,131.2 227.7,125.3 228.6,132.3 229.5,126.1 230.4,135.8 231.3,122.7 232.2,130.7 233.1,120.3 234.0,129.8 234.9,123.1 235.8,128.3 236.7,125.7 237.6,131.7 238.5,126.9 239.4,133.0 240.3,131.8 241.2,134.2 242.1,130.9 243.0,137.9 243.9,126.6 244.8,141.2 245.7,124.7 246.6,133.9 247.5,127.5 248.4,135.6 249.3,129.5 250.2,136.9 251.1,128.7 252.0,137.1 252.9,131.5 253.8,139.0 254.7,128.1 255.6,143.3 256.5,133.4 257.4,143.0 258.3,143.0 259.2,143.1 260.1,143.1 261.0,143.0 261.9,143.2 262.8,143.1 263.7,143.1 264.6,143.0 265.5,143.1 266.4,143.1 267.3,143.1 268.2,143.2 269.1,143.2 270.0,143.0 270.9,143.1 271.8,143.1 272.7,143.1 273.6,143.0 274.5,143.0 275.4,143.0 276.3,143.0 277.2,143.2 278.2,143.2 279.1,143.0 280.0,143.0 280.9,142.9 281.8,142.9 282.7,143.0 283.6,143.0 284.5,143.1 285.4,143.1 286.3,142.9 287.2,143.2 288.1,143.2 289.0,142.9 289.9,143.1 290.8,143.0 291.7,142.8 292.6,143.0 293.5,143.0 294.4,143.1 295.3,142.9 296.2,143.2 297.1,143.2 298.0,142.9 298.9,143.2 299.8,143.2 300.7,143.2 301.6,143.1 302.5,143.1 303.4,143.0 304.3,143.1 305.2,143.2 306.1,143.1 307.0,143.1 307.9,143.0 308.8,143.2 309.7,142.9 310.6,143.1 311.5,143.1 312.4,143.2 313.3,143.0 314.2,142.9 315.1,142.8 316.0,143.0 316.9,143.1 317.8,142.9 318.7,143.0 319.6,143.1 320.5,143.1 321.4,143.1 322.3,143.1 323.2,142.9 324.1,143.1 325.0,143.1 325.9,143.1 326.8,143.1 327.7,142.8 328.6,143.1 329.5,143.1 330.4,139.5 331.3,134.8 332.2,140.3 333.1,143.0 334.0,143.2 334.9,143.0 335.8,143.1 336.7,143.1 337.6,143.0 338.5,143.0 339.4,143.1 340.3,143.0 341.2,143.0 342.1,143.0 343.0,143.2 343.9,143.2 344.8,143.1 345.7,143.0 346.6,143.2 347.5,143.1 348.4,143.1 349.3,143.2 350.2,143.2 351.1,143.0 352.0,143.0 352.9,142.9 353.8,143.0" fill="none" stroke="#11cc11" stroke-width="0.7"/>
<polyline points="201.6,140.1 202.5,139.5 203.4,140.3 204.3,139.6 205.2,140.1 206.1,140.1 207.0,140.5 207.9,140.7 208.8,140.8 209.7,140.3 210.6,141.5 211.5,141.4 212.4,140.4 213.3,141.8 214.2,140.7 215.1,140.1 216.0,140.9 216.9,142.4 217.8,143.2 218.7,140.7 219.6,139.8 220.5,140.7 221.4,140.3 222.3,140.3 223.2,141.7 224.1,141.7 225.0,141.1 225.9,142.7 226.8,140.6 227.7,140.8 228.6,140.7 229.5,141.0 230.4,140.0 231.3,140.6 232.2,140.9 233.1,140.3 234.0,141.2 234.9,140.7 235.8,140.8 236.7,140.9 237.6,141.9 238.5,140.0 239.4,139.5 240.3,140.6 241.2,140.3 242.1,140.9 243.0,141.7 243.9,141.4 244.8,140.5 245.7,140.9 246.6,140.7 247.5,141.4 248.4,140.5 249.3,140.5 250.2,140.5 251.1,139.3 252.0,142.0 252.9,141.8 253.8,140.8 254.7,141.2 255.6,140.5 256.5,140.7 257.4,142.7 258.3,142.6 259.2,142.6 260.1,142.7 261.0,142.6 261.9,142.6 262.8,142.7 263.7,142.6 264.6,142.6 265.5,142.4 266.4,142.5 267.3,142.5 268.2,142.5 269.1,142.5 270.0,142.5 270.9,142.6 271.8,142.7 272.7,142.7 273.6,142.7 274.5,142.7 275.4,142.6 276.3,142.6 277.2,142.6 278.2,142.6 279.1,142.7 280.0,142.6 280.9,142.6 281.8,142.7 282.7,142.6 283.6,142.7 284.5,142.6 285.4,142.6 286.3,142.4 287.2,142.7 288.1,142.4 289.0,142.6 289.9,142.6 290.8,142.7 291.7,142.6 292.6,142.6 293.5,142.6 294.4,142.7 295.3,142.7 296.2,142.7 297.1,142.7 298.0,142.7 298.9,142.6 299.8,142.6 300.7,142.7 301.6,142.6 302.5,142.7 303.4,142.7 304.3,142.7 305.2,142.7 306.1,142.7 307.0,142.6 307.9,142.7 308.8,142.7 309.7,142.7 310.6,142.7 311.5,142.6 312.4,142.5 313.3,142.6 314.2,142.6 315.1,142.7 316.0,142.6 316.9,142.7 317.8,142.7 318.7,142.6 319.6,142.7 320.5,142.7 321.4,142.6 322.3,142.7 323.2,142.6 324.1,142.5 325.0,142.6 325.9,142.6 326.8,142.7 327.7,142.7 328.6,142.5 329.5,142.7 330.4,140.8 331.3,138.4 332.2,141.0 333.1,142.6 334.0,142.6 334.9,142.6 335.8,142.5 336.7,142.6 337.6,142.7 338.5,142.6 339.4,142.6 340.3,142.7 341.2,142.6 342.1,142.4 343.0,142.7 343.9,142.6 344.8,142.6 345.7,142.6 346.6,142.7 347.5,142.6 348.4,142.6 349.3,142.6 350.2,142.6 351.1,142.7 352.0,142.7 352.9,142.7 353.8,142.6" fill="none" stroke="#2222dd" stroke-width="0.7"/>
<polyline points="201.6,142.8 202.5,142.8 203.4,142.6 204.3,142.6 205.2,142.8 206.1,142.8 207.0,142.6 207.9,142.8 208.8,142.8 209.7,142.8 210.6,142.8 211.5,142.8 212.4,142.6 213.3,142.8 214.2,142.8 215.1,142.8 216.0,142.8 216.9,142.8 217.8,142.5 218.7,142.7 219.6,142.8 220.5,142.7 221.4,142.6 222.3,142.9 223.2,142.6 224.1,142.7 225.0,142.7 225.9,142.8 226.8,142.9 227.7,142.6 228.6,142.8 229.5,142.6 230.4,142.8 231.3,142.9 232.2,142.8 233.1,142.9 234.0,142.8 234.9,142.8 235.8,142.6 236.7,142.9 237.6,142.6 238.5,142.6 239.4,142.7 240.3,142.8 241.2,142.8 242.1,142.7 243.0,142.9 243.9,142.9 244.8,142.8 245.7,142.9 246.6,142.8 247.5,142.9 248.4,142.7 249.3,142.8 250.2,142.5 251.1,142.9 252.0,142.8 252.9,142.8 253.8,142.8 254.7,142.7 255.6,142.8 256.5,142.7 257.4,142.8 258.3,142.9 259.2,142.6 260.1,142.8 261.0,142.9 261.9,142.8 262.8,142.6 263.7,142.6 264.6,142.8 265.5,142.8 266.4,142.8 267.3,142.8 268.2,142.7 269.1,142.6 270.0,142.8 270.9,142.8 271.8,142.8 272.7,142.8 273.6,142.7 274.5,142.6 275.4,142.8 276.3,142.6 277.2,142.8 278.2,142.8 279.1,142.8 280.0,142.6 280.9,142.8 281.8,142.6 282.7,142.8 283.6,142.7 284.5,142.7 285.4,142.8 286.3,142.8 287.2,142.6 288.1,142.8 289.0,142.9 289.9,142.8 290.8,142.9 291.7,142.8 292.6,142.9 293.5,142.7 294.4,142.8 295.3,142.8 296.2,142.8 297.1,142.7 298.0,142.9 298.9,142.8 299.8,142.8 300.7,142.7 301.6,142.6 302.5,142.9 303.4,142.7 304.3,142.6 305.2,142.8 306.1,142.9 307.0,142.8 307.9,142.9 308.8,142.8 309.7,142.8 310.6,142.8 311.5,142.9 312.4,142.7 313.3,142.5 314.2,142.7 315.1,142.8 316.0,142.7 316.9,142.8 317.8,142.7 318.7,142.8 319.6,142.9 320.5,142.7 321.4,142.7 322.3,142.8 323.2,142.6 324.1,142.7 325.0,142.8 325.9,142.9 326.8,142.9 327.7,142.6 328.6,142.8 329.5,142.8 330.4,137.5 331.3,131.1 332.2,138.6 333.1,142.8 334.0,142.8 334.9,142.7 335.8,142.8 336.7,142.7 337.6,142.8 338.5,142.7 339.4,142.8 340.3,142.7 341.2,142.8 342.1,142.9 343.0,142.5 343.9,142.8 344.8,141.6 345.7,142.9 346.6,142.8 347.5,142.7 348.4,142.8 349.3,142.6 350.2,142.8 351.1,142.9 352.0,142.9 352.9,142.7 353.8,142.8" fill="none" stroke="#ee22cc" stroke-width="0.7"/>
</g>
<rect x="201.3" y="19.3" width="152.2" height="124.2" fill="none" stroke="#222" stroke-width="1.1"/>
<line x1="199.3" y1="143.5" x2="201.3" y2="143.5" stroke="#222" stroke-width="0.7"/>
<text x="197.1" y="145.7" font-family='"Liberation Sans", sans-serif' font-weight="bold" font-size="6.2" fill="#222" text-anchor="end">0</text>
<line x1="199.3" y1="128.0" x2="201.3" y2="128.0" stroke="#222" stroke-width="0.7"/>
<text x="197.1" y="130.2" font-family='"Liberation Sans", sans-serif' font-weight="bold" font-size="6.2" fill="#222" text-anchor="end">50</text>
<line x1="199.3" y1="112.5" x2="201.3" y2="112.5" stroke="#222" stroke-width="0.7"/>
<text x="197.1" y="114.7" font-family='"Liberation Sans", sans-serif' font-weight="bold" font-size="6.2" fill="#222" text-anchor="end">100</text>
<line x1="199.3" y1="96.9" x2="201.3" y2="96.9" stroke="#222" stroke-width="0.7"/>
<text x="197.1" y="99.1" font-family='"Liberation Sans", sans-serif' font-weight="bold" font-size="6.2" fill="#222" text-anchor="end">150</text>
<line x1="199.3" y1="81.4" x2="201.3" y2="81.4" stroke="#222" stroke-width="0.7"/>
<text x="197.1" y="83.6" font-family='"Liberation Sans", sans-serif' font-weight="bold" font-size="6.2" fill="#222" text-anchor="end">200</text>
<line x1="199.3" y1="65.9" x2="201.3" y2="65.9" stroke="#222" stroke-width="0.7"/>
<text x="197.1" y="68.1" font-family='"Liberation Sans", sans-serif' font-weight="bold" font-size="6.2" fill="#222" text-anchor="end">250</text>
<line x1="199.3" y1="50.3" x2="201.3" y2="50.3" stroke="#222" stroke-width="0.7"/>
<text x="197.1" y="52.5" font-family='"Liberation Sans", sans-serif' font-weight="bold" font-size="6.2" fill="#222" text-anchor="end">300</text>
<line x1="199.3" y1="34.8" x2="201.3" y2="34.8" stroke="#222" stroke-width="0.7"/>
<text x="197.1" y="37.0" font-family='"Liberation Sans", sans-serif' font-weight="bold" font-size="6.2" fill="#222" text-anchor="end">350</text>
<line x1="199.3" y1="19.3" x2="201.3" y2="19.3" stroke="#222" stroke-width="0.7"/>
<text x="197.1" y="21.5" font-family='"Liberation Sans", sans-serif' font-weight="bold" font-size="6.2" fill="#222" text-anchor="end">400</text>
<line x1="200.3" y1="135.7" x2="201.3" y2="135.7" stroke="#222" stroke-width="0.6"/>
<line x1="200.3" y1="120.2" x2="201.3" y2="120.2" stroke="#222" stroke-width="0.6"/>
<line x1="200.3" y1="104.7" x2="201.3" y2="104.7" stroke="#222" stroke-width="0.6"/>
<line x1="200.3" y1="89.2" x2="201.3" y2="89.2" stroke="#222" stroke-width="0.6"/>
<line x1="200.3" y1="73.6" x2="201.3" y2="73.6" stroke="#222" stroke-width="0.6"/>
<line x1="200.3" y1="58.1" x2="201.3" y2="58.1" stroke="#222" stroke-width="0.6"/>
<line x1="200.3" y1="42.6" x2="201.3" y2="42.6" stroke="#222" stroke-width="0.6"/>
<line x1="200.3" y1="27.1" x2="201.3" y2="27.1" stroke="#222" stroke-width="0.6"/>
<line x1="201.6" y1="143.5" x2="201.6" y2="145.5" stroke="#222" stroke-width="0.7"/>
<text x="201.6" y="153.8" font-family='"Liberation Sans", sans-serif' font-weight="bold" font-size="7" fill="#222" text-anchor="middle">-2</text>
<line x1="239.6" y1="143.5" x2="239.6" y2="145.5" stroke="#222" stroke-width="0.7"/>
<text x="239.6" y="153.8" font-family='"Liberation Sans", sans-serif' font-weight="bold" font-size="7" fill="#222" text-anchor="middle">-1</text>
<line x1="277.7" y1="143.5" x2="277.7" y2="145.5" stroke="#222" stroke-width="0.7"/>
<text x="277.7" y="153.8" font-family='"Liberation Sans", sans-serif' font-weight="bold" font-size="7" fill="#222" text-anchor="middle">0</text>
<line x1="315.8" y1="143.5" x2="315.8" y2="145.5" stroke="#222" stroke-width="0.7"/>
<text x="315.8" y="153.8" font-family='"Liberation Sans", sans-serif' font-weight="bold" font-size="7" fill="#222" text-anchor="middle">1</text>
<line x1="353.8" y1="143.5" x2="353.8" y2="145.5" stroke="#222" stroke-width="0.7"/>
<text x="353.8" y="153.8" font-family='"Liberation Sans", sans-serif' font-weight="bold" font-size="7" fill="#222" text-anchor="middle">2</text>
<line x1="220.6" y1="143.5" x2="220.6" y2="144.5" stroke="#222" stroke-width="0.6"/>
<line x1="258.7" y1="143.5" x2="258.7" y2="144.5" stroke="#222" stroke-width="0.6"/>
<line x1="296.7" y1="143.5" x2="296.7" y2="144.5" stroke="#222" stroke-width="0.6"/>
<line x1="334.8" y1="143.5" x2="334.8" y2="144.5" stroke="#222" stroke-width="0.6"/>
<text x="274.4" y="163.2" font-family='"Liberation Sans", sans-serif' font-weight="bold" font-size="7.2" fill="#222" text-anchor="middle">E (eV)</text>
<text x="176" y="12.4" font-family='"Liberation Serif", serif' font-weight="bold" font-size="11.6" fill="#111">(b)</text>
<line x1="292" y1="32.7" x2="305" y2="32.7" stroke="#222" stroke-width="0.8"/>
<text x="308.3" y="35.0" font-family='"Liberation Sans", sans-serif' font-weight="bold" font-size="6.6" fill="#222">Total</text>
<line x1="292" y1="41.2" x2="305" y2="41.2" stroke="#ff2a2a" stroke-width="0.8"/>
<text x="308.3" y="43.5" font-family='"Liberation Sans", sans-serif' font-weight="bold" font-size="6.6" fill="#222">Cs<tspan font-size="4.3" dy="1.2">2</tspan><tspan dy="-1.2">AgBiBr</tspan><tspan font-size="4.3" dy="1.2">6</tspan></text>
<line x1="292" y1="50.3" x2="305" y2="50.3" stroke="#2222dd" stroke-width="0.8"/>
<text x="308.3" y="52.599999999999994" font-family='"Liberation Sans", sans-serif' font-weight="bold" font-size="6.6" fill="#222">Ag 4d</text>
<line x1="292" y1="58.8" x2="305" y2="58.8" stroke="#11cc11" stroke-width="0.8"/>
<text x="308.3" y="61.099999999999994" font-family='"Liberation Sans", sans-serif' font-weight="bold" font-size="6.6" fill="#222">Br 4p</text>
<line x1="292" y1="67" x2="305" y2="67" stroke="#ee22cc" stroke-width="0.8"/>
<text x="308.3" y="69.3" font-family='"Liberation Sans", sans-serif' font-weight="bold" font-size="6.6" fill="#222">Bi 3p</text>
</g>
<g id="pc">
<defs><clipPath id="cc"><rect x="392" y="22" width="151.7" height="121"/></clipPath></defs>
<g clip-path="url(#cc)">
<polyline points="392.3,87.7 392.8,87.7 393.3,89.2 393.8,90.4 394.3,90.5 394.8,90.9 395.3,91.5 395.8,92.8 396.4,92.2 396.9,93.1 397.4,93.9 397.9,94.5 398.4,94.5 398.9,95.2 399.4,95.4 399.9,96.0 400.4,96.3 400.9,96.2 401.4,97.1 401.9,97.8 402.4,97.4 402.9,98.0 403.4,98.7 403.9,98.3 404.5,99.1 405.0,99.0 405.5,100.2 406.0,101.0 406.5,101.2 407.0,100.6 407.5,101.2 408.0,101.2 408.5,101.3 409.0,102.0 409.5,100.9 410.0,101.7 410.5,101.2 411.0,101.5 411.5,100.8 412.0,100.2 412.6,100.4 413.1,100.4 413.6,100.0 414.1,100.2 414.6,100.1 415.1,100.0 415.6,101.9 416.1,102.4 416.6,102.8 417.1,103.2 417.6,104.2 418.1,104.2 418.6,104.7 419.1,105.4 419.6,106.5 420.1,105.8 420.7,107.0 421.2,106.3 421.7,106.0 422.2,106.6 422.7,105.7 423.2,104.7 423.7,104.5 424.2,104.4 424.7,104.0 425.2,102.8 425.7,102.7 426.2,102.3 426.7,101.1 427.2,101.0 427.7,100.3 428.3,99.6 428.8,99.2 429.3,99.1 429.8,99.0 430.3,99.1 430.8,99.3 431.3,99.7 431.8,100.2 432.3,100.7 432.8,101.3 433.3,101.9 433.8,102.4 434.3,102.9 434.8,103.4 435.3,103.9 435.8,104.4 436.4,104.9 436.9,105.4 437.4,106.0 437.9,106.5 438.4,107.1 438.9,107.6 439.4,108.3 439.9,108.9 440.4,109.6 440.9,110.4 441.4,111.1 441.9,111.8 442.4,112.6 442.9,113.3 443.4,114.0 443.9,114.7 444.5,115.4 445.0,116.0 445.5,116.6 446.0,117.1 446.5,117.6 447.0,118.0 447.5,118.4 448.0,118.8 448.5,119.2 449.0,119.5 449.5,119.9 450.0,120.2 450.5,120.5 451.0,120.8 451.5,121.1 452.0,121.4 452.6,121.7 453.1,122.0 453.6,122.3 454.1,122.5 454.6,122.8 455.1,123.0 455.6,123.3 456.1,123.6 456.6,123.8 457.1,124.1 457.6,124.3 458.1,124.6 458.6,124.8 459.1,125.1 459.6,125.3 460.2,125.5 460.7,125.8 461.2,126.0 461.7,126.3 462.2,126.5 462.7,126.7 463.2,126.9 463.7,127.2 464.2,127.4 464.7,127.6 465.2,127.8 465.7,128.1 466.2,128.3 466.7,128.5 467.2,128.7 467.7,128.9 468.3,129.1 468.8,129.3 469.3,129.5 469.8,129.7 470.3,129.9 470.8,130.1 471.3,130.3 471.8,130.5 472.3,130.7 472.8,130.9 473.3,131.1 473.8,131.3 474.3,131.4 474.8,131.6 475.3,131.8 475.8,132.0 476.4,132.1 476.9,132.3 477.4,132.5 477.9,132.6 478.4,132.8 478.9,133.0 479.4,133.1 479.9,133.3 480.4,133.4 480.9,133.6 481.4,133.7 481.9,133.8 482.4,134.0 482.9,134.1 483.4,134.3 484.0,134.4 484.5,134.5 485.0,134.7 485.5,134.8 486.0,134.9 486.5,135.0 487.0,135.2 487.5,135.3 488.0,135.4 488.5,135.5 489.0,135.7 489.5,135.8 490.0,135.9 490.5,136.0 491.0,136.2 491.5,136.3 492.1,136.4 492.6,136.5 493.1,136.6 493.6,136.7 494.1,136.8 494.6,136.9 495.1,137.1 495.6,137.2 496.1,137.3 496.6,137.4 497.1,137.5 497.6,137.6 498.1,137.7 498.6,137.8 499.1,137.9 499.6,138.0 500.2,138.1 500.7,138.2 501.2,138.2 501.7,138.3 502.2,138.4 502.7,138.5 503.2,138.6 503.7,138.7 504.2,138.8 504.7,138.8 505.2,138.9 505.7,139.0 506.2,139.1 506.7,139.2 507.2,139.2 507.7,139.3 508.3,139.4 508.8,139.4 509.3,139.5 509.8,139.6 510.3,139.6 510.8,139.7 511.3,139.8 511.8,139.8 512.3,139.9 512.8,140.0 513.3,140.0 513.8,140.1 514.3,140.1 514.8,140.2 515.3,140.3 515.9,140.3 516.4,140.4 516.9,140.4 517.4,140.5 517.9,140.6 518.4,140.6 518.9,140.7 519.4,140.7 519.9,140.8 520.4,140.8 520.9,140.9 521.4,141.0 521.9,141.0 522.4,141.1 522.9,141.1 523.4,141.2 524.0,141.2 524.5,141.3 525.0,141.3 525.5,141.4 526.0,141.4 526.5,141.5 527.0,141.5 527.5,141.6 528.0,141.6 528.5,141.7 529.0,141.7 529.5,141.8 530.0,141.8 530.5,141.9 531.0,141.9 531.5,141.9 532.1,142.0 532.6,142.0 533.1,142.1 533.6,142.1 534.1,142.1 534.6,142.2 535.1,142.2 535.6,142.2 536.1,142.3 536.6,142.3 537.1,142.3 537.6,142.3 538.1,142.4 538.6,142.4 539.1,142.4 539.6,142.5 540.2,142.5 540.7,142.5 541.2,142.5 541.7,142.5 542.2,142.6 542.7,142.6 543.2,142.6 543.7,142.6" fill="none" stroke="#1a1aff" stroke-width="1.1"/>
<polyline points="392.3,67.3 392.8,67.9 393.3,69.4 393.8,68.3 394.3,69.5 394.8,70.1 395.3,70.2 395.8,70.5 396.4,71.2 396.9,71.6 397.4,71.9 397.9,71.6 398.4,72.7 398.9,72.8 399.4,73.3 399.9,74.0 400.4,74.5 400.9,75.0 401.4,74.9 401.9,75.8 402.4,76.3 402.9,76.7 403.4,77.1 403.9,76.9 404.5,77.3 405.0,78.0 405.5,77.5 406.0,78.5 406.5,78.5 407.0,79.0 407.5,78.8 408.0,79.5 408.5,80.3 409.0,81.0 409.5,81.5 410.0,81.5 410.5,81.9 411.0,82.1 411.5,83.0 412.0,83.3 412.6,84.1 413.1,85.1 413.6,84.9 414.1,84.8 414.6,85.7 415.1,86.0 415.6,86.8 416.1,88.6 416.6,89.1 417.1,89.4 417.6,91.2 418.1,92.4 418.6,92.7 419.1,93.3 419.6,94.0 420.1,94.8 420.7,95.4 421.2,96.1 421.7,96.4 422.2,96.6 422.7,96.7 423.2,96.2 423.7,94.8 424.2,94.7 424.7,94.1 425.2,92.9 425.7,92.2 426.2,89.4 426.7,86.3 427.2,84.3 427.7,81.5 428.3,79.8 428.8,79.3 429.3,78.7 429.8,78.0 430.3,77.6 430.8,77.8 431.3,78.7 431.8,80.0 432.3,81.4 432.8,82.8 433.3,84.1 433.8,85.7 434.3,87.3 434.8,88.9 435.3,90.6 435.8,92.2 436.4,93.8 436.9,95.2 437.4,96.5 437.9,97.8 438.4,98.9 438.9,100.1 439.4,101.1 439.9,102.2 440.4,103.3 440.9,104.3 441.4,105.4 441.9,106.5 442.4,107.6 442.9,108.8 443.4,110.1 443.9,111.4 444.5,112.9 445.0,114.3 445.5,115.5 446.0,116.7 446.5,117.6 447.0,118.3 447.5,119.0 448.0,119.6 448.5,120.3 449.0,120.9 449.5,121.4 450.0,121.9 450.5,122.4 451.0,122.9 451.5,123.4 452.0,123.8 452.6,124.2 453.1,124.5 453.6,124.9 454.1,125.2 454.6,125.6 455.1,125.9 455.6,126.1 456.1,126.4 456.6,126.7 457.1,127.0 457.6,127.3 458.1,127.5 458.6,127.8 459.1,128.0 459.6,128.3 460.2,128.5 460.7,128.8 461.2,129.0 461.7,129.3 462.2,129.5 462.7,129.7 463.2,129.9 463.7,130.2 464.2,130.4 464.7,130.6 465.2,130.8 465.7,131.0 466.2,131.2 466.7,131.4 467.2,131.6 467.7,131.8 468.3,132.0 468.8,132.1 469.3,132.3 469.8,132.5 470.3,132.7 470.8,132.8 471.3,133.0 471.8,133.2 472.3,133.3 472.8,133.5 473.3,133.6 473.8,133.8 474.3,133.9 474.8,134.1 475.3,134.2 475.8,134.4 476.4,134.5 476.9,134.6 477.4,134.8 477.9,134.9 478.4,135.0 478.9,135.1 479.4,135.3 479.9,135.4 480.4,135.5 480.9,135.6 481.4,135.8 481.9,135.9 482.4,136.0 482.9,136.1 483.4,136.2 484.0,136.3 484.5,136.4 485.0,136.5 485.5,136.6 486.0,136.7 486.5,136.9 487.0,137.0 487.5,137.1 488.0,137.2 488.5,137.3 489.0,137.4 489.5,137.5 490.0,137.6 490.5,137.7 491.0,137.7 491.5,137.8 492.1,137.9 492.6,138.0 493.1,138.1 493.6,138.2 494.1,138.3 494.6,138.4 495.1,138.5 495.6,138.5 496.1,138.6 496.6,138.7 497.1,138.8 497.6,138.9 498.1,138.9 498.6,139.0 499.1,139.1 499.6,139.2 500.2,139.2 500.7,139.3 501.2,139.4 501.7,139.4 502.2,139.5 502.7,139.6 503.2,139.6 503.7,139.7 504.2,139.8 504.7,139.8 505.2,139.9 505.7,140.0 506.2,140.0 506.7,140.1 507.2,140.1 507.7,140.2 508.3,140.2 508.8,140.3 509.3,140.3 509.8,140.4 510.3,140.4 510.8,140.5 511.3,140.5 511.8,140.6 512.3,140.6 512.8,140.7 513.3,140.7 513.8,140.8 514.3,140.8 514.8,140.8 515.3,140.9 515.9,140.9 516.4,141.0 516.9,141.0 517.4,141.1 517.9,141.1 518.4,141.2 518.9,141.2 519.4,141.3 519.9,141.3 520.4,141.3 520.9,141.4 521.4,141.4 521.9,141.5 522.4,141.5 522.9,141.5 523.4,141.6 524.0,141.6 524.5,141.7 525.0,141.7 525.5,141.7 526.0,141.8 526.5,141.8 527.0,141.9 527.5,141.9 528.0,141.9 528.5,142.0 529.0,142.0 529.5,142.0 530.0,142.1 530.5,142.1 531.0,142.1 531.5,142.1 532.1,142.2 532.6,142.2 533.1,142.2 533.6,142.3 534.1,142.3 534.6,142.3 535.1,142.3 535.6,142.4 536.1,142.4 536.6,142.4 537.1,142.4 537.6,142.4 538.1,142.5 538.6,142.5 539.1,142.5 539.6,142.5 540.2,142.5 540.7,142.5 541.2,142.6 541.7,142.6 542.2,142.6 542.7,142.6 543.2,142.6 543.7,142.6" fill="none" stroke="#ff1a1a" stroke-width="1.1"/>
<polyline points="392.3,30.1 392.8,30.0 393.3,29.0 393.8,28.1 394.3,28.1 394.8,27.9 395.3,27.9 395.8,28.7 396.4,28.9 396.9,28.6 397.4,29.0 397.9,30.3 398.4,31.1 398.9,32.7 399.4,34.4 399.9,34.4 400.4,34.9 400.9,35.7 401.4,36.3 401.9,37.1 402.4,38.4 402.9,39.3 403.4,40.2 403.9,41.2 404.5,42.2 405.0,43.2 405.5,44.3 406.0,45.4 406.5,46.6 407.0,47.7 407.5,49.0 408.0,50.2 408.5,51.5 409.0,52.8 409.5,54.1 410.0,55.4 410.5,56.8 411.0,58.2 411.5,59.6 412.0,61.0 412.6,62.5 413.1,64.0 413.6,65.5 414.1,67.1 414.6,68.6 415.1,70.2 415.6,71.8 416.1,73.5 416.6,75.2 417.1,76.9 417.6,78.6 418.1,80.4 418.6,82.1 419.1,83.8 419.6,85.5 420.1,87.5 420.7,89.7 421.2,91.9 421.7,93.7 422.2,94.8 422.7,95.0 423.2,94.9 423.7,94.6 424.2,94.2 424.7,93.6 425.2,93.0 425.7,91.5 426.2,87.3 426.7,81.4 427.2,74.8 427.7,69.1 428.3,65.2 428.8,63.1 429.3,61.2 429.8,59.5 430.3,58.2 430.8,57.4 431.3,57.2 431.8,57.8 432.3,59.0 432.8,60.8 433.3,62.8 433.8,65.0 434.3,67.0 434.8,69.3 435.3,71.9 435.8,74.8 436.4,77.8 436.9,80.8 437.4,83.8 437.9,86.7 438.4,89.2 438.9,91.5 439.4,93.8 439.9,95.9 440.4,98.0 440.9,100.0 441.4,102.0 441.9,103.8 442.4,105.6 442.9,107.3 443.4,109.0 443.9,110.5 444.5,112.0 445.0,113.5 445.5,114.8 446.0,116.2 446.5,117.5 447.0,118.9 447.5,120.2 448.0,121.5 448.5,122.8 449.0,123.9 449.5,125.0 450.0,126.0 450.5,127.0 451.0,127.9 451.5,128.8 452.0,129.7 452.6,130.5 453.1,131.2 453.6,131.9 454.1,132.6 454.6,133.1 455.1,133.6 455.6,134.0 456.1,134.4 456.6,134.8 457.1,135.2 457.6,135.6 458.1,135.9 458.6,136.2 459.1,136.5 459.6,136.8 460.2,137.1 460.7,137.3 461.2,137.6 461.7,137.8 462.2,137.9 462.7,138.1 463.2,138.2 463.7,138.3 464.2,138.4 464.7,138.5 465.2,138.6 465.7,138.7 466.2,138.8 466.7,138.9 467.2,138.9 467.7,139.0 468.3,139.1 468.8,139.2 469.3,139.2 469.8,139.3 470.3,139.4 470.8,139.4 471.3,139.5 471.8,139.5 472.3,139.6 472.8,139.7 473.3,139.7 473.8,139.8 474.3,139.8 474.8,139.8 475.3,139.9 475.8,139.9 476.4,140.0 476.9,140.0 477.4,140.1 477.9,140.1 478.4,140.1 478.9,140.2 479.4,140.2 479.9,140.2 480.4,140.3 480.9,140.3 481.4,140.3 481.9,140.4 482.4,140.4 482.9,140.4 483.4,140.5 484.0,140.5 484.5,140.5 485.0,140.5 485.5,140.6 486.0,140.6 486.5,140.6 487.0,140.6 487.5,140.7 488.0,140.7 488.5,140.7 489.0,140.7 489.5,140.8 490.0,140.8 490.5,140.8 491.0,140.8 491.5,140.9 492.1,140.9 492.6,140.9 493.1,140.9 493.6,140.9 494.1,141.0 494.6,141.0 495.1,141.0 495.6,141.0 496.1,141.0 496.6,141.1 497.1,141.1 497.6,141.1 498.1,141.1 498.6,141.1 499.1,141.1 499.6,141.2 500.2,141.2 500.7,141.2 501.2,141.2 501.7,141.2 502.2,141.2 502.7,141.3 503.2,141.3 503.7,141.3 504.2,141.3 504.7,141.3 505.2,141.3 505.7,141.4 506.2,141.4 506.7,141.4 507.2,141.4 507.7,141.4 508.3,141.4 508.8,141.5 509.3,141.5 509.8,141.5 510.3,141.5 510.8,141.5 511.3,141.5 511.8,141.6 512.3,141.6 512.8,141.6 513.3,141.6 513.8,141.6 514.3,141.6 514.8,141.7 515.3,141.7 515.9,141.7 516.4,141.7 516.9,141.7 517.4,141.7 517.9,141.8 518.4,141.8 518.9,141.8 519.4,141.8 519.9,141.8 520.4,141.8 520.9,141.9 521.4,141.9 521.9,141.9 522.4,141.9 522.9,141.9 523.4,141.9 524.0,142.0 524.5,142.0 525.0,142.0 525.5,142.0 526.0,142.0 526.5,142.0 527.0,142.0 527.5,142.1 528.0,142.1 528.5,142.1 529.0,142.1 529.5,142.1 530.0,142.1 530.5,142.2 531.0,142.2 531.5,142.2 532.1,142.2 532.6,142.2 533.1,142.2 533.6,142.2 534.1,142.3 534.6,142.3 535.1,142.3 535.6,142.3 536.1,142.3 536.6,142.3 537.1,142.3 537.6,142.3 538.1,142.4 538.6,142.4 539.1,142.4 539.6,142.4 540.2,142.4 540.7,142.4 541.2,142.4 541.7,142.5 542.2,142.5 542.7,142.5 543.2,142.5 543.7,142.5" fill="none" stroke="#111" stroke-width="1.1"/>
</g>
<rect x="392" y="22" width="151.7" height="121" fill="none" stroke="#333" stroke-width="1.1"/>
<line x1="390" y1="143.0" x2="392" y2="143.0" stroke="#333" stroke-width="0.7"/>
<text x="388.8" y="145.1" font-family='"Liberation Serif", serif' font-weight="bold" font-size="6.3" fill="#333" text-anchor="end">0.0</text>
<line x1="390" y1="121.0" x2="392" y2="121.0" stroke="#333" stroke-width="0.7"/>
<text x="388.8" y="123.1" font-family='"Liberation Serif", serif' font-weight="bold" font-size="6.3" fill="#333" text-anchor="end">0.2</text>
<line x1="390" y1="99.0" x2="392" y2="99.0" stroke="#333" stroke-width="0.7"/>
<text x="388.8" y="101.1" font-family='"Liberation Serif", serif' font-weight="bold" font-size="6.3" fill="#333" text-anchor="end">0.4</text>
<line x1="390" y1="77.0" x2="392" y2="77.0" stroke="#333" stroke-width="0.7"/>
<text x="388.8" y="79.1" font-family='"Liberation Serif", serif' font-weight="bold" font-size="6.3" fill="#333" text-anchor="end">0.6</text>
<line x1="390" y1="55.0" x2="392" y2="55.0" stroke="#333" stroke-width="0.7"/>
<text x="388.8" y="57.1" font-family='"Liberation Serif", serif' font-weight="bold" font-size="6.3" fill="#333" text-anchor="end">0.8</text>
<line x1="390" y1="33.0" x2="392" y2="33.0" stroke="#333" stroke-width="0.7"/>
<text x="388.8" y="35.1" font-family='"Liberation Serif", serif' font-weight="bold" font-size="6.3" fill="#333" text-anchor="end">1.0</text>
<line x1="391" y1="132.0" x2="392" y2="132.0" stroke="#333" stroke-width="0.6"/>
<line x1="391" y1="110.0" x2="392" y2="110.0" stroke="#333" stroke-width="0.6"/>
<line x1="391" y1="88.0" x2="392" y2="88.0" stroke="#333" stroke-width="0.6"/>
<line x1="391" y1="66.0" x2="392" y2="66.0" stroke="#333" stroke-width="0.6"/>
<line x1="391" y1="44.0" x2="392" y2="44.0" stroke="#333" stroke-width="0.6"/>
<line x1="420.0" y1="143" x2="420.0" y2="145" stroke="#333" stroke-width="0.7"/>
<text x="420.0" y="153" font-family='"Liberation Serif", serif' font-weight="bold" font-size="6.4" fill="#333" text-anchor="middle">400</text>
<line x1="475.2" y1="143" x2="475.2" y2="145" stroke="#333" stroke-width="0.7"/>
<text x="475.2" y="153" font-family='"Liberation Serif", serif' font-weight="bold" font-size="6.4" fill="#333" text-anchor="middle">600</text>
<line x1="530.4" y1="143" x2="530.4" y2="145" stroke="#333" stroke-width="0.7"/>
<text x="530.4" y="153" font-family='"Liberation Serif", serif' font-weight="bold" font-size="6.4" fill="#333" text-anchor="middle">800</text>
<line x1="392.4" y1="143" x2="392.4" y2="144" stroke="#333" stroke-width="0.6"/>
<line x1="447.6" y1="143" x2="447.6" y2="144" stroke="#333" stroke-width="0.6"/>
<line x1="502.8" y1="143" x2="502.8" y2="144" stroke="#333" stroke-width="0.6"/>
<text x="467.7" y="166" font-family='"Liberation Sans", sans-serif' font-weight="bold" font-size="6.7" fill="#222" text-anchor="middle">Wavelength (nm)</text>
<text transform="translate(364.2,82.6) rotate(-90)" font-family='"Liberation Sans", sans-serif' font-weight="bold" font-size="7.2" fill="#222" text-anchor="middle">Absorbance (arb.units.)</text>
<text x="373" y="13.2" font-family='"Liberation Serif", serif' font-weight="bold" font-size="11.8" fill="#111">(c)</text>
<line x1="443.2" y1="40.8" x2="461.5" y2="40.8" stroke="#111" stroke-width="1.3"/>
<text x="465.3" y="43.4" font-family='"Liberation Serif", serif' font-weight="bold" font-size="8" fill="#222">Pristine</text>
<line x1="443.2" y1="51.7" x2="461.5" y2="51.7" stroke="#ff1a1a" stroke-width="1.3"/>
<text x="465.3" y="54.300000000000004" font-family='"Liberation Serif", serif' font-weight="bold" font-size="8" fill="#222">600 s Hydrogenation</text>
<line x1="443.2" y1="62" x2="461.5" y2="62" stroke="#1a1aff" stroke-width="1.3"/>
<text x="465.3" y="64.6" font-family='"Liberation Serif", serif' font-weight="bold" font-size="8" fill="#222">1200 s Hydrogenation</text>
<text x="468.7" y="88.6" font-family='"Liberation Serif", serif' font-weight="bold" font-size="8" fill="#111">E<tspan font-size="5.5" dy="1.8">g</tspan><tspan dy="-1.8">=2.18 eV</tspan></text>
<text x="468.7" y="98.19999999999999" font-family='"Liberation Serif", serif' font-weight="bold" font-size="8" fill="#ee1a1a">E<tspan font-size="5.5" dy="1.8">g</tspan><tspan dy="-1.8">=1.91 eV</tspan></text>
<text x="468.7" y="110.0" font-family='"Liberation Serif", serif' font-weight="bold" font-size="8" fill="#1a1aee">E<tspan font-size="5.5" dy="1.8">g</tspan><tspan dy="-1.8">=1.64 eV</tspan></text>
</g>
<g id="pd">
<defs><clipPath id="cd"><rect x="38.3" y="180" width="140.7" height="105.7"/></clipPath></defs>
<g clip-path="url(#cd)">
<polyline points="38.3,282.4 38.8,282.3 39.2,282.6 39.7,282.5 40.2,281.8 40.7,282.4 41.1,282.5 41.6,282.4 42.1,282.5 42.5,282.1 43.0,281.9 43.5,282.5 44.0,281.8 44.4,281.5 44.9,282.4 45.4,281.8 45.9,281.9 46.3,281.5 46.8,281.3 47.3,281.1 47.7,281.0 48.2,280.8 48.7,279.6 49.2,280.1 49.6,279.1 50.1,278.6 50.6,278.6 51.0,277.8 51.5,276.8 52.0,277.2 52.5,275.7 52.9,275.3 53.4,274.5 53.9,274.0 54.3,272.6 54.8,272.2 55.3,270.8 55.8,270.4 56.2,268.8 56.7,268.0 57.2,267.6 57.6,266.1 58.1,264.9 58.6,264.3 59.1,262.5 59.5,260.9 60.0,260.1 60.5,258.1 61.0,257.4 61.4,256.0 61.9,254.1 62.4,252.6 62.8,251.4 63.3,249.9 63.8,248.2 64.3,247.2 64.7,245.0 65.2,244.0 65.7,242.5 66.1,241.0 66.6,239.7 67.1,237.6 67.6,236.6 68.0,234.7 68.5,233.0 69.0,231.2 69.4,229.7 69.9,228.7 70.4,226.8 70.9,225.7 71.3,224.6 71.8,223.3 72.3,222.2 72.7,220.4 73.2,218.9 73.7,218.2 74.2,216.7 74.6,215.8 75.1,214.3 75.6,213.5 76.1,212.5 76.5,211.6 77.0,210.8 77.5,210.2 77.9,209.8 78.4,209.4 78.9,209.3 79.4,208.5 79.8,208.9 80.3,208.0 80.8,208.1 81.2,207.6 81.7,207.4 82.2,207.9 82.7,207.1 83.1,206.8 83.6,207.0 84.1,207.2 84.5,208.0 85.0,207.5 85.5,207.9 86.0,207.5 86.4,208.0 86.9,208.3 87.4,208.9 87.9,208.4 88.3,209.0 88.8,209.1 89.3,209.1 89.7,209.8 90.2,210.2 90.7,210.1 91.2,211.6 91.6,212.2 92.1,212.7 92.6,213.2 93.0,214.8 93.5,215.3 94.0,216.4 94.5,217.4 94.9,217.7 95.4,219.1 95.9,219.8 96.3,221.1 96.8,222.4 97.3,223.8 97.8,225.6 98.2,226.7 98.7,228.1 99.2,229.6 99.6,231.2 100.1,232.1 100.6,233.5 101.1,234.8 101.5,235.7 102.0,236.9 102.5,237.8 103.0,239.7 103.4,240.5 103.9,241.2 104.4,242.0 104.8,243.6 105.3,243.9 105.8,244.6 106.3,245.5 106.7,246.3 107.2,247.3 107.7,247.5 108.1,248.7 108.6,248.5 109.1,249.5 109.6,249.6 110.0,250.4 110.5,251.0 111.0,251.5 111.4,252.0 111.9,252.5 112.4,252.9 112.9,253.4 113.3,253.8 113.8,254.2 114.3,254.6 114.7,255.0 115.2,255.4 115.7,255.7 116.2,256.1 116.6,256.4 117.1,256.7 117.6,257.0 118.1,257.3 118.5,257.6 119.0,257.8 119.5,258.1 119.9,258.4 120.4,258.6 120.9,258.9 121.4,259.1 121.8,259.3 122.3,259.5 122.8,259.8 123.2,260.0 123.7,260.2 124.2,260.4 124.7,260.6 125.1,260.8 125.6,261.0 126.1,261.2 126.5,261.3 127.0,261.5 127.5,261.7 128.0,261.9 128.4,262.1 128.9,262.3 129.4,262.5 129.8,262.6 130.3,262.8 130.8,262.9 131.3,263.0 131.7,263.1 132.2,263.2 132.7,263.2 133.2,263.3 133.6,263.3 134.1,263.4 134.6,263.4 135.0,263.4 135.5,263.5 136.0,263.5 136.5,263.5 136.9,263.6 137.4,263.6 137.9,263.6 138.3,263.7 138.8,263.7 139.3,263.8 139.8,263.8 140.2,263.9 140.7,264.0 141.2,264.0 141.6,264.1 142.1,264.3 142.6,264.5 143.1,264.7 143.5,264.9 144.0,265.2 144.5,265.5 145.0,265.8 145.4,266.1 145.9,266.5 146.4,266.8 146.8,267.2 147.3,267.5 147.8,267.9 148.3,268.3 148.7,268.6 149.2,269.0 149.7,269.4 150.1,269.9 150.6,270.4 151.1,270.9 151.6,271.5 152.0,272.0 152.5,272.6 153.0,273.1 153.4,273.7 153.9,274.2 154.4,274.7 154.9,275.2 155.3,275.6 155.8,276.0 156.3,276.3 156.7,276.6 157.2,276.9 157.7,277.2 158.2,277.4 158.6,277.7 159.1,278.0 159.6,278.3 160.1,278.5 160.5,278.8 161.0,279.0 161.5,279.3 161.9,279.5 162.4,279.7 162.9,279.8 163.4,280.0 163.8,280.1 164.3,280.2 164.8,280.3 165.2,280.3 165.7,280.3 166.2,280.3 166.7,280.3 167.1,280.3 167.6,280.3 168.1,280.3 168.5,280.3 169.0,280.3 169.5,280.3 170.0,280.3 170.4,280.3 170.9,280.3 171.4,280.3 171.8,280.3 172.3,280.3 172.8,280.3 173.3,280.3 173.7,280.3 174.2,280.3 174.7,280.3 175.2,280.3 175.6,280.3 176.1,280.3 176.6,280.3 177.0,280.3 177.5,280.3 178.0,280.3 178.5,280.3 178.9,280.3 179.4,280.3" fill="none" stroke="#1a1aff" stroke-width="1.1"/>
<polyline points="38.3,281.3 38.8,282.3 39.2,281.3 39.7,282.1 40.2,281.8 40.7,281.5 41.1,281.2 41.6,281.7 42.1,281.9 42.5,281.0 43.0,281.1 43.5,281.4 44.0,281.1 44.4,281.5 44.9,280.6 45.4,280.8 45.9,280.2 46.3,281.0 46.8,280.0 47.3,279.4 47.7,279.8 48.2,279.5 48.7,279.8 49.2,278.8 49.6,278.4 50.1,277.9 50.6,277.4 51.0,276.1 51.5,275.6 52.0,274.7 52.5,273.6 52.9,272.9 53.4,272.0 53.9,270.8 54.3,270.6 54.8,268.8 55.3,268.6 55.8,267.6 56.2,266.2 56.7,264.9 57.2,264.0 57.6,263.0 58.1,261.9 58.6,260.5 59.1,259.4 59.5,257.6 60.0,256.4 60.5,254.5 61.0,253.7 61.4,252.1 61.9,250.4 62.4,249.3 62.8,247.7 63.3,245.1 63.8,244.4 64.3,242.4 64.7,241.6 65.2,240.4 65.7,237.9 66.1,236.4 66.6,234.5 67.1,232.9 67.6,231.2 68.0,229.7 68.5,227.2 69.0,226.2 69.4,223.7 69.9,222.4 70.4,221.0 70.9,219.3 71.3,217.4 71.8,216.0 72.3,214.8 72.7,213.6 73.2,212.6 73.7,210.6 74.2,209.8 74.6,208.7 75.1,207.5 75.6,206.4 76.1,205.7 76.5,204.5 77.0,203.8 77.5,203.1 77.9,203.0 78.4,201.4 78.9,201.9 79.4,200.9 79.8,200.5 80.3,199.9 80.8,199.3 81.2,199.5 81.7,199.1 82.2,199.3 82.7,198.6 83.1,199.4 83.6,199.1 84.1,199.0 84.5,199.0 85.0,199.1 85.5,199.1 86.0,199.5 86.4,199.8 86.9,200.0 87.4,199.9 87.9,200.5 88.3,200.5 88.8,201.1 89.3,201.9 89.7,202.0 90.2,202.1 90.7,202.3 91.2,202.9 91.6,203.5 92.1,204.9 92.6,205.2 93.0,206.3 93.5,206.9 94.0,207.9 94.5,209.2 94.9,209.5 95.4,210.5 95.9,211.3 96.3,212.8 96.8,213.3 97.3,214.5 97.8,215.7 98.2,217.1 98.7,219.1 99.2,221.2 99.6,221.5 100.1,223.5 100.6,224.7 101.1,225.5 101.5,227.0 102.0,228.3 102.5,229.4 103.0,231.5 103.4,231.6 103.9,233.5 104.4,234.7 104.8,235.6 105.3,236.9 105.8,238.2 106.3,239.0 106.7,240.1 107.2,241.0 107.7,241.0 108.1,242.9 108.6,243.9 109.1,244.3 109.6,245.0 110.0,245.4 110.5,246.1 111.0,246.7 111.4,247.4 111.9,248.0 112.4,248.6 112.9,249.2 113.3,249.8 113.8,250.3 114.3,250.9 114.7,251.4 115.2,251.9 115.7,252.5 116.2,253.0 116.6,253.4 117.1,253.9 117.6,254.4 118.1,254.8 118.5,255.3 119.0,255.7 119.5,256.1 119.9,256.5 120.4,256.9 120.9,257.3 121.4,257.7 121.8,258.1 122.3,258.4 122.8,258.8 123.2,259.2 123.7,259.5 124.2,259.9 124.7,260.2 125.1,260.6 125.6,260.9 126.1,261.3 126.5,261.6 127.0,262.0 127.5,262.3 128.0,262.6 128.4,262.9 128.9,263.3 129.4,263.6 129.8,263.9 130.3,264.2 130.8,264.5 131.3,264.8 131.7,265.1 132.2,265.4 132.7,265.7 133.2,266.0 133.6,266.3 134.1,266.5 134.6,266.8 135.0,267.1 135.5,267.3 136.0,267.6 136.5,267.9 136.9,268.1 137.4,268.4 137.9,268.6 138.3,268.9 138.8,269.1 139.3,269.3 139.8,269.6 140.2,269.8 140.7,270.1 141.2,270.3 141.6,270.5 142.1,270.8 142.6,271.0 143.1,271.2 143.5,271.5 144.0,271.7 144.5,271.9 145.0,272.2 145.4,272.4 145.9,272.7 146.4,272.9 146.8,273.2 147.3,273.4 147.8,273.7 148.3,273.9 148.7,274.2 149.2,274.4 149.7,274.7 150.1,274.9 150.6,275.2 151.1,275.4 151.6,275.6 152.0,275.9 152.5,276.1 153.0,276.3 153.4,276.6 153.9,276.8 154.4,277.0 154.9,277.2 155.3,277.4 155.8,277.6 156.3,277.8 156.7,278.0 157.2,278.2 157.7,278.4 158.2,278.6 158.6,278.8 159.1,279.0 159.6,279.1 160.1,279.3 160.5,279.5 161.0,279.7 161.5,279.9 161.9,280.0 162.4,280.2 162.9,280.3 163.4,280.5 163.8,280.6 164.3,280.7 164.8,280.8 165.2,280.9 165.7,280.9 166.2,281.0 166.7,281.0 167.1,281.1 167.6,281.1 168.1,281.2 168.5,281.2 169.0,281.3 169.5,281.3 170.0,281.3 170.4,281.4 170.9,281.4 171.4,281.5 171.8,281.5 172.3,281.5 172.8,281.6 173.3,281.6 173.7,281.6 174.2,281.7 174.7,281.7 175.2,281.7 175.6,281.7 176.1,281.7 176.6,281.8 177.0,281.8 177.5,281.8 178.0,281.8 178.5,281.8 178.9,281.8 179.4,281.8" fill="none" stroke="#ff1a1a" stroke-width="1.1"/>
<polyline points="38.3,270.0 38.8,269.7 39.2,269.3 39.7,269.0 40.2,268.6 40.7,268.1 41.1,267.7 41.6,267.2 42.1,266.8 42.5,266.3 43.0,265.7 43.5,265.2 44.0,264.7 44.4,264.1 44.9,263.5 45.4,262.9 45.9,262.3 46.3,261.7 46.8,261.1 47.3,260.4 47.7,259.6 48.2,258.9 48.7,258.1 49.2,257.3 49.6,256.5 50.1,255.6 50.6,254.7 51.0,253.8 51.5,252.9 52.0,252.0 52.5,251.1 52.9,250.1 53.4,249.2 53.9,248.2 54.3,247.2 54.8,246.2 55.3,245.2 55.8,244.1 56.2,243.0 56.7,241.9 57.2,240.7 57.6,239.6 58.1,238.4 58.6,237.3 59.1,236.1 59.5,234.9 60.0,233.7 60.5,232.5 61.0,231.3 61.4,230.2 61.9,229.0 62.4,227.8 62.8,226.7 63.3,225.6 63.8,224.4 64.3,223.3 64.7,222.1 65.2,220.9 65.7,219.7 66.1,218.6 66.6,217.4 67.1,216.2 67.6,215.0 68.0,213.9 68.5,212.7 69.0,211.6 69.4,210.4 69.9,209.3 70.4,208.2 70.9,207.1 71.3,206.1 71.8,205.0 72.3,204.0 72.7,202.9 73.2,201.9 73.7,200.8 74.2,199.7 74.6,198.7 75.1,197.7 75.6,196.7 76.1,195.8 76.5,195.0 77.0,194.3 77.5,193.7 77.9,193.1 78.4,192.6 78.9,192.0 79.4,191.5 79.8,191.0 80.3,190.5 80.8,190.1 81.2,189.7 81.7,189.4 82.2,189.2 82.7,189.0 83.1,189.0 83.6,189.0 84.1,189.1 84.5,189.1 85.0,189.2 85.5,189.3 86.0,189.5 86.4,189.7 86.9,189.8 87.4,190.0 87.9,190.3 88.3,190.5 88.8,190.7 89.3,191.0 89.7,191.3 90.2,191.5 90.7,191.8 91.2,192.2 91.6,192.6 92.1,193.2 92.6,193.8 93.0,194.5 93.5,195.2 94.0,196.1 94.5,196.9 94.9,197.9 95.4,198.8 95.9,199.8 96.3,200.8 96.8,201.9 97.3,203.0 97.8,204.0 98.2,205.2 98.7,206.5 99.2,208.0 99.6,209.6 100.1,211.3 100.6,213.2 101.1,215.0 101.5,216.9 102.0,218.7 102.5,220.5 103.0,222.1 103.4,223.6 103.9,225.0 104.4,226.1 104.8,227.1 105.3,228.1 105.8,229.1 106.3,230.0 106.7,230.8 107.2,231.7 107.7,232.5 108.1,233.3 108.6,234.0 109.1,234.8 109.6,235.5 110.0,236.2 110.5,236.9 111.0,237.6 111.4,238.2 111.9,238.9 112.4,239.6 112.9,240.2 113.3,240.9 113.8,241.6 114.3,242.2 114.7,242.9 115.2,243.5 115.7,244.2 116.2,244.8 116.6,245.4 117.1,246.1 117.6,246.7 118.1,247.3 118.5,247.9 119.0,248.5 119.5,249.0 119.9,249.6 120.4,250.2 120.9,250.8 121.4,251.3 121.8,251.9 122.3,252.4 122.8,253.0 123.2,253.5 123.7,254.1 124.2,254.6 124.7,255.1 125.1,255.7 125.6,256.2 126.1,256.7 126.5,257.2 127.0,257.7 127.5,258.2 128.0,258.7 128.4,259.2 128.9,259.7 129.4,260.1 129.8,260.6 130.3,261.1 130.8,261.5 131.3,262.0 131.7,262.5 132.2,262.9 132.7,263.4 133.2,263.9 133.6,264.3 134.1,264.8 134.6,265.3 135.0,265.7 135.5,266.2 136.0,266.7 136.5,267.3 136.9,267.8 137.4,268.3 137.9,268.9 138.3,269.4 138.8,269.9 139.3,270.5 139.8,271.0 140.2,271.5 140.7,272.0 141.2,272.5 141.6,272.9 142.1,273.3 142.6,273.8 143.1,274.1 143.5,274.5 144.0,274.8 144.5,275.1 145.0,275.4 145.4,275.7 145.9,276.0 146.4,276.2 146.8,276.5 147.3,276.8 147.8,277.0 148.3,277.3 148.7,277.5 149.2,277.8 149.7,278.0 150.1,278.2 150.6,278.4 151.1,278.6 151.6,278.8 152.0,279.0 152.5,279.2 153.0,279.4 153.4,279.5 153.9,279.7 154.4,279.8 154.9,280.0 155.3,280.1 155.8,280.2 156.3,280.3 156.7,280.4 157.2,280.5 157.7,280.6 158.2,280.6 158.6,280.7 159.1,280.8 159.6,280.9 160.1,280.9 160.5,281.0 161.0,281.0 161.5,281.1 161.9,281.2 162.4,281.2 162.9,281.3 163.4,281.3 163.8,281.4 164.3,281.4 164.8,281.5 165.2,281.5 165.7,281.6 166.2,281.6 166.7,281.6 167.1,281.7 167.6,281.7 168.1,281.8 168.5,281.8 169.0,281.8 169.5,281.9 170.0,281.9 170.4,281.9 170.9,282.0 171.4,282.0 171.8,282.0 172.3,282.1 172.8,282.1 173.3,282.1 173.7,282.2 174.2,282.2 174.7,282.2 175.2,282.2 175.6,282.3 176.1,282.3 176.6,282.3 177.0,282.3 177.5,282.3 178.0,282.4 178.5,282.4 178.9,282.4 179.4,282.4" fill="none" stroke="#111" stroke-width="1.1"/>
</g>
<rect x="38.3" y="180" width="140.7" height="105.7" fill="none" stroke="#222" stroke-width="1.1"/>
<line x1="36.3" y1="270.0" x2="38.3" y2="270.0" stroke="#222" stroke-width="0.7"/>
<text x="31.5" y="272.0" font-family='"Liberation Sans", sans-serif' font-weight="bold" font-size="5.6" fill="#222" text-anchor="end">2000</text>
<line x1="36.3" y1="255.0" x2="38.3" y2="255.0" stroke="#222" stroke-width="0.7"/>
<text x="31.5" y="257.0" font-family='"Liberation Sans", sans-serif' font-weight="bold" font-size="5.6" fill="#222" text-anchor="end">4000</text>
<line x1="36.3" y1="240.0" x2="38.3" y2="240.0" stroke="#222" stroke-width="0.7"/>
<text x="31.5" y="242.0" font-family='"Liberation Sans", sans-serif' font-weight="bold" font-size="5.6" fill="#222" text-anchor="end">6000</text>
<line x1="36.3" y1="225.0" x2="38.3" y2="225.0" stroke="#222" stroke-width="0.7"/>
<text x="31.5" y="227.0" font-family='"Liberation Sans", sans-serif' font-weight="bold" font-size="5.6" fill="#222" text-anchor="end">8000</text>
<line x1="36.3" y1="210.0" x2="38.3" y2="210.0" stroke="#222" stroke-width="0.7"/>
<text x="31.5" y="212.0" font-family='"Liberation Sans", sans-serif' font-weight="bold" font-size="5.6" fill="#222" text-anchor="end">10,000</text>
<line x1="36.3" y1="195.0" x2="38.3" y2="195.0" stroke="#222" stroke-width="0.7"/>
<text x="31.5" y="197.0" font-family='"Liberation Sans", sans-serif' font-weight="bold" font-size="5.6" fill="#222" text-anchor="end">12,000</text>
<line x1="36.3" y1="180.0" x2="38.3" y2="180.0" stroke="#222" stroke-width="0.7"/>
<text x="31.5" y="182.0" font-family='"Liberation Sans", sans-serif' font-weight="bold" font-size="5.6" fill="#222" text-anchor="end">14,000</text>
<line x1="37.3" y1="277.5" x2="38.3" y2="277.5" stroke="#222" stroke-width="0.6"/>
<line x1="37.3" y1="262.5" x2="38.3" y2="262.5" stroke="#222" stroke-width="0.6"/>
<line x1="37.3" y1="247.5" x2="38.3" y2="247.5" stroke="#222" stroke-width="0.6"/>
<line x1="37.3" y1="232.5" x2="38.3" y2="232.5" stroke="#222" stroke-width="0.6"/>
<line x1="37.3" y1="217.5" x2="38.3" y2="217.5" stroke="#222" stroke-width="0.6"/>
<line x1="37.3" y1="202.5" x2="38.3" y2="202.5" stroke="#222" stroke-width="0.6"/>
<line x1="37.3" y1="187.5" x2="38.3" y2="187.5" stroke="#222" stroke-width="0.6"/>
<line x1="38.3" y1="285.7" x2="38.3" y2="287.7" stroke="#222" stroke-width="0.7"/>
<text x="38.3" y="294.3" font-family='"Liberation Sans", sans-serif' font-weight="bold" font-size="5.6" fill="#222" text-anchor="middle">500</text>
<line x1="78.5" y1="285.7" x2="78.5" y2="287.7" stroke="#222" stroke-width="0.7"/>
<text x="78.5" y="294.3" font-family='"Liberation Sans", sans-serif' font-weight="bold" font-size="5.6" fill="#222" text-anchor="middle">600</text>
<line x1="118.7" y1="285.7" x2="118.7" y2="287.7" stroke="#222" stroke-width="0.7"/>
<text x="118.7" y="294.3" font-family='"Liberation Sans", sans-serif' font-weight="bold" font-size="5.6" fill="#222" text-anchor="middle">700</text>
<line x1="158.9" y1="285.7" x2="158.9" y2="287.7" stroke="#222" stroke-width="0.7"/>
<text x="158.9" y="294.3" font-family='"Liberation Sans", sans-serif' font-weight="bold" font-size="5.6" fill="#222" text-anchor="middle">800</text>
<line x1="58.4" y1="285.7" x2="58.4" y2="286.7" stroke="#222" stroke-width="0.6"/>
<line x1="98.6" y1="285.7" x2="98.6" y2="286.7" stroke="#222" stroke-width="0.6"/>
<line x1="138.8" y1="285.7" x2="138.8" y2="286.7" stroke="#222" stroke-width="0.6"/>
<line x1="179.0" y1="285.7" x2="179.0" y2="286.7" stroke="#222" stroke-width="0.6"/>
<text x="104.5" y="304.3" font-family='"Liberation Sans", sans-serif' font-weight="bold" font-size="6.1" fill="#222" text-anchor="middle">Wavelength (nm)</text>
<text transform="translate(12.6,222.5) rotate(-90)" font-family='"Liberation Sans", sans-serif' font-weight="bold" font-size="6.5" fill="#222" text-anchor="middle">Intensity (arb.units.)</text>
<text x="12.4" y="166.5" font-family='"Liberation Serif", serif' font-weight="bold" font-size="11.6" fill="#111">(d)</text>
<line x1="101.6" y1="195.4" x2="108" y2="195.4" stroke="#111" stroke-width="1.3"/>
<text x="110" y="197.70000000000002" font-family='"Liberation Sans", sans-serif' font-weight="bold" font-size="6.5" fill="#222">Pristine</text>
<line x1="101.6" y1="205" x2="108" y2="205" stroke="#ff1a1a" stroke-width="1.3"/>
<text x="110" y="207.3" font-family='"Liberation Sans", sans-serif' font-weight="bold" font-size="6.5" fill="#222">600 s Hydrogenation</text>
<line x1="101.6" y1="215.6" x2="108" y2="215.6" stroke="#1a1aff" stroke-width="1.3"/>
<text x="110" y="217.9" font-family='"Liberation Sans", sans-serif' font-weight="bold" font-size="6.5" fill="#222">1200 s Hydrogenation</text>
</g>
<g id="pe">
<defs><clipPath id="cpe"><rect x="194.6" y="181.5" width="89.79999999999998" height="108.0"/></clipPath><clipPath id="dpe"><rect x="284.4" y="181.5" width="67.0" height="108.0"/></clipPath></defs>
<line x1="213.5" y1="181.5" x2="213.5" y2="289.5" stroke="#ff5a5a" stroke-width="1"/>
<line x1="235.7" y1="181.5" x2="235.7" y2="289.5" stroke="#4aa3ff" stroke-width="1"/>
<line x1="261.6" y1="181.5" x2="261.6" y2="289.5" stroke="#22c08a" stroke-width="1"/>
<line x1="274.4" y1="181.5" x2="274.4" y2="289.5" stroke="#c070f0" stroke-width="1"/>
<line x1="194.6" y1="235.5" x2="284.4" y2="235.5" stroke="#20d0e0" stroke-width="1.1"/>
<g clip-path="url(#cpe)" fill="none" stroke="#000" stroke-width="0.95">
<path d="M194.6,205.8 L195.4,205.9 L196.2,206.0 L197.0,206.2 L197.8,206.6 L198.5,207.0 L199.3,207.5 L200.1,208.1 L200.9,208.7 L201.7,209.4 L202.5,210.1 L203.3,210.9 L204.1,211.7 L204.8,212.4 L205.6,213.2 L206.4,213.9 L207.2,214.6 L208.0,215.2 L208.8,215.8 L209.6,216.3 L210.3,216.7 L211.1,217.1 L211.9,217.3 L212.7,217.4 L213.5,217.5 L214.4,217.5 L215.3,217.4 L216.3,217.2 L217.2,217.0 L218.1,216.7 L219.1,216.3 L220.0,215.9 L220.9,215.5 L221.8,215.0 L222.8,214.5 L223.7,214.0 L224.6,213.4 L225.5,212.9 L226.4,212.4 L227.4,211.9 L228.3,211.4 L229.2,211.0 L230.1,210.6 L231.1,210.2 L232.0,209.9 L232.9,209.7 L233.8,209.5 L234.8,209.4 L235.7,209.4 L236.8,209.4 L237.9,209.4 L238.9,209.3 L240.0,209.2 L241.1,209.1 L242.2,209.0 L243.3,208.9 L244.3,208.7 L245.4,208.6 L246.5,208.4 L247.6,208.2 L248.7,208.1 L249.7,207.9 L250.8,207.7 L251.9,207.5 L253.0,207.4 L254.0,207.2 L255.1,207.1 L256.2,207.0 L257.3,206.9 L258.4,206.8 L259.4,206.7 L260.5,206.7 L261.6,206.7 L262.1,206.7 L262.7,206.7 L263.2,206.7 L263.7,206.6 L264.3,206.6 L264.8,206.6 L265.3,206.5 L265.9,206.5 L266.4,206.4 L266.9,206.4 L267.5,206.3 L268.0,206.2 L268.5,206.2 L269.1,206.1 L269.6,206.1 L270.1,206.0 L270.7,206.0 L271.2,205.9 L271.7,205.9 L272.3,205.9 L272.8,205.8 L273.3,205.8 L273.9,205.8 L274.4,205.8 L274.8,205.8 L275.2,205.9 L275.6,205.9 L276.1,206.0 L276.5,206.2 L276.9,206.3 L277.3,206.5 L277.7,206.7 L278.1,206.9 L278.6,207.1 L279.0,207.4 L279.4,207.6 L279.8,207.8 L280.2,208.1 L280.6,208.3 L281.1,208.5 L281.5,208.7 L281.9,208.9 L282.3,209.0 L282.7,209.2 L283.1,209.3 L283.6,209.3 L284.0,209.4 L284.4,209.4"/>
<path d="M194.6,205.8 L195.4,205.8 L196.2,205.7 L197.0,205.6 L197.8,205.4 L198.5,205.2 L199.3,205.0 L200.1,204.7 L200.9,204.4 L201.7,204.1 L202.5,203.8 L203.3,203.5 L204.1,203.1 L204.8,202.7 L205.6,202.4 L206.4,202.1 L207.2,201.8 L208.0,201.5 L208.8,201.2 L209.6,201.0 L210.3,200.8 L211.1,200.6 L211.9,200.5 L212.7,200.4 L213.5,200.4 L214.4,200.4 L215.3,200.6 L216.3,200.7 L217.2,201.0 L218.1,201.3 L219.1,201.7 L220.0,202.2 L220.9,202.7 L221.8,203.2 L222.8,203.7 L223.7,204.3 L224.6,204.9 L225.5,205.5 L226.4,206.1 L227.4,206.6 L228.3,207.2 L229.2,207.6 L230.1,208.1 L231.1,208.5 L232.0,208.8 L232.9,209.1 L233.8,209.2 L234.8,209.4 L235.7,209.4 L236.8,209.4 L237.9,209.3 L238.9,209.2 L240.0,209.0 L241.1,208.8 L242.2,208.6 L243.3,208.3 L244.3,208.1 L245.4,207.7 L246.5,207.4 L247.6,207.1 L248.7,206.7 L249.7,206.3 L250.8,206.0 L251.9,205.7 L253.0,205.3 L254.0,205.1 L255.1,204.8 L256.2,204.6 L257.3,204.4 L258.4,204.2 L259.4,204.1 L260.5,204.0 L261.6,204.0 L262.1,204.0 L262.7,204.0 L263.2,204.0 L263.7,204.1 L264.3,204.1 L264.8,204.1 L265.3,204.2 L265.9,204.2 L266.4,204.3 L266.9,204.3 L267.5,204.4 L268.0,204.4 L268.5,204.5 L269.1,204.6 L269.6,204.6 L270.1,204.7 L270.7,204.7 L271.2,204.8 L271.7,204.8 L272.3,204.8 L272.8,204.9 L273.3,204.9 L273.9,204.9 L274.4,204.9 L274.8,204.9 L275.2,204.9 L275.6,204.8 L276.1,204.7 L276.5,204.6 L276.9,204.5 L277.3,204.4 L277.7,204.2 L278.1,204.1 L278.6,203.9 L279.0,203.7 L279.4,203.6 L279.8,203.4 L280.2,203.2 L280.6,203.0 L281.1,202.9 L281.5,202.7 L281.9,202.6 L282.3,202.5 L282.7,202.4 L283.1,202.3 L283.6,202.2 L284.0,202.2 L284.4,202.2"/>
<path d="M194.6,176.1 L195.4,176.1 L196.2,176.1 L197.0,176.1 L197.8,176.2 L198.5,176.2 L199.3,176.2 L200.1,176.3 L200.9,176.3 L201.7,176.4 L202.5,176.4 L203.3,176.5 L204.1,176.6 L204.8,176.6 L205.6,176.7 L206.4,176.7 L207.2,176.8 L208.0,176.8 L208.8,176.9 L209.6,176.9 L210.3,176.9 L211.1,177.0 L211.9,177.0 L212.7,177.0 L213.5,177.0 L214.4,177.0 L215.3,177.2 L216.3,177.3 L217.2,177.6 L218.1,177.9 L219.1,178.3 L220.0,178.8 L220.9,179.2 L221.8,179.8 L222.8,180.3 L223.7,180.9 L224.6,181.5 L225.5,182.1 L226.4,182.7 L227.4,183.2 L228.3,183.8 L229.2,184.2 L230.1,184.7 L231.1,185.1 L232.0,185.4 L232.9,185.7 L233.8,185.8 L234.8,186.0 L235.7,186.0 L236.8,185.2 L237.9,184.5 L238.9,183.8 L240.0,183.2 L241.1,182.6 L242.2,182.1 L243.3,181.7 L244.3,181.4 L245.4,181.2 L246.5,181.0 L247.6,181.0 L248.7,181.1 L249.7,181.2 L250.8,181.5 L251.9,181.8 L253.0,182.3 L254.0,182.8 L255.1,183.4 L256.2,184.1 L257.3,184.8 L258.4,185.5 L259.4,186.3 L260.5,187.0 L261.6,187.8 L262.1,187.8 L262.7,187.7 L263.2,187.5 L263.7,187.3 L264.3,187.0 L264.8,186.6 L265.3,186.2 L265.9,185.8 L266.4,185.3 L266.9,184.8 L267.5,184.3 L268.0,183.8 L268.5,183.2 L269.1,182.7 L269.6,182.2 L270.1,181.7 L270.7,181.3 L271.2,180.9 L271.7,180.5 L272.3,180.2 L272.8,180.0 L273.3,179.8 L273.9,179.7 L274.4,179.7 L274.8,179.7 L275.2,179.7 L275.6,179.6 L276.1,179.6 L276.5,179.5 L276.9,179.4 L277.3,179.3 L277.7,179.2 L278.1,179.1 L278.6,179.0 L279.0,178.9 L279.4,178.8 L279.8,178.7 L280.2,178.6 L280.6,178.5 L281.1,178.3 L281.5,178.3 L281.9,178.2 L282.3,178.1 L282.7,178.0 L283.1,178.0 L283.6,177.9 L284.0,177.9 L284.4,177.9"/>
<path d="M194.6,172.5 L195.4,172.5 L196.2,172.5 L197.0,172.5 L197.8,172.5 L198.5,172.5 L199.3,172.5 L200.1,172.5 L200.9,172.5 L201.7,172.5 L202.5,172.5 L203.3,172.5 L204.1,172.5 L204.8,172.5 L205.6,172.5 L206.4,172.5 L207.2,172.5 L208.0,172.5 L208.8,172.5 L209.6,172.5 L210.3,172.5 L211.1,172.5 L211.9,172.5 L212.7,172.5 L213.5,172.5 L214.4,172.5 L215.3,172.6 L216.3,172.7 L217.2,172.9 L218.1,173.2 L219.1,173.4 L220.0,173.7 L220.9,174.1 L221.8,174.4 L222.8,174.8 L223.7,175.2 L224.6,175.7 L225.5,176.1 L226.4,176.5 L227.4,176.9 L228.3,177.2 L229.2,177.6 L230.1,177.9 L231.1,178.1 L232.0,178.4 L232.9,178.6 L233.8,178.7 L234.8,178.8 L235.7,178.8 L236.8,178.2 L237.9,177.7 L238.9,177.2 L240.0,176.7 L241.1,176.3 L242.2,176.0 L243.3,175.8 L244.3,175.6 L245.4,175.5 L246.5,175.5 L247.6,175.5 L248.7,175.7 L249.7,175.9 L250.8,176.2 L251.9,176.5 L253.0,176.9 L254.0,177.4 L255.1,177.9 L256.2,178.5 L257.3,179.1 L258.4,179.7 L259.4,180.3 L260.5,180.9 L261.6,181.5 L262.1,181.5 L262.7,181.4 L263.2,181.2 L263.7,181.0 L264.3,180.8 L264.8,180.4 L265.3,180.1 L265.9,179.7 L266.4,179.3 L266.9,178.8 L267.5,178.4 L268.0,177.9 L268.5,177.4 L269.1,177.0 L269.6,176.5 L270.1,176.1 L270.7,175.7 L271.2,175.4 L271.7,175.0 L272.3,174.8 L272.8,174.6 L273.3,174.4 L273.9,174.3 L274.4,174.3 L274.8,174.3 L275.2,174.3 L275.6,174.3 L276.1,174.2 L276.5,174.2 L276.9,174.2 L277.3,174.1 L277.7,174.1 L278.1,174.0 L278.6,174.0 L279.0,173.9 L279.4,173.8 L279.8,173.8 L280.2,173.7 L280.6,173.7 L281.1,173.6 L281.5,173.6 L281.9,173.5 L282.3,173.5 L282.7,173.5 L283.1,173.4 L283.6,173.4 L284.0,173.4 L284.4,173.4"/>
<path d="M194.6,235.5 L195.4,235.5 L196.2,235.7 L197.0,235.9 L197.8,236.2 L198.5,236.6 L199.3,237.0 L200.1,237.5 L200.9,238.1 L201.7,238.7 L202.5,239.3 L203.3,240.0 L204.1,240.7 L204.8,241.4 L205.6,242.0 L206.4,242.7 L207.2,243.3 L208.0,243.8 L208.8,244.3 L209.6,244.8 L210.3,245.2 L211.1,245.5 L211.9,245.7 L212.7,245.8 L213.5,245.8 L214.4,245.8 L215.3,245.8 L216.3,245.7 L217.2,245.5 L218.1,245.3 L219.1,245.1 L220.0,244.9 L220.9,244.6 L221.8,244.3 L222.8,244.0 L223.7,243.7 L224.6,243.4 L225.5,243.1 L226.4,242.7 L227.4,242.4 L228.3,242.1 L229.2,241.9 L230.1,241.6 L231.1,241.4 L232.0,241.2 L232.9,241.1 L233.8,241.0 L234.8,240.9 L235.7,240.9 L236.8,241.5 L237.9,242.1 L238.9,242.6 L240.0,243.0 L241.1,243.3 L242.2,243.5 L243.3,243.6 L244.3,243.7 L245.4,243.6 L246.5,243.4 L247.6,243.1 L248.7,242.8 L249.7,242.3 L250.8,241.8 L251.9,241.2 L253.0,240.6 L254.0,239.9 L255.1,239.2 L256.2,238.4 L257.3,237.7 L258.4,236.9 L259.4,236.2 L260.5,235.5 L261.6,234.8 L262.1,234.8 L262.7,234.8 L263.2,234.8 L263.7,234.8 L264.3,234.9 L264.8,234.9 L265.3,234.9 L265.9,235.0 L266.4,235.0 L266.9,235.0 L267.5,235.1 L268.0,235.1 L268.5,235.2 L269.1,235.2 L269.6,235.3 L270.1,235.3 L270.7,235.4 L271.2,235.4 L271.7,235.4 L272.3,235.5 L272.8,235.5 L273.3,235.5 L273.9,235.5 L274.4,235.5 L274.8,235.5 L275.2,235.5 L275.6,235.5 L276.1,235.5 L276.5,235.5 L276.9,235.6 L277.3,235.6 L277.7,235.6 L278.1,235.6 L278.6,235.7 L279.0,235.7 L279.4,235.7 L279.8,235.8 L280.2,235.8 L280.6,235.8 L281.1,235.8 L281.5,235.9 L281.9,235.9 L282.3,235.9 L282.7,235.9 L283.1,235.9 L283.6,235.9 L284.0,235.9 L284.4,235.9"/>
<path d="M194.6,244.3 L195.4,244.3 L196.2,244.3 L197.0,244.4 L197.8,244.4 L198.5,244.4 L199.3,244.5 L200.1,244.5 L200.9,244.6 L201.7,244.7 L202.5,244.7 L203.3,244.8 L204.1,244.9 L204.8,244.9 L205.6,245.0 L206.4,245.1 L207.2,245.1 L208.0,245.2 L208.8,245.2 L209.6,245.3 L210.3,245.3 L211.1,245.4 L211.9,245.4 L212.7,245.4 L213.5,245.4 L214.4,245.4 L215.3,245.4 L216.3,245.4 L217.2,245.5 L218.1,245.5 L219.1,245.5 L220.0,245.6 L220.9,245.6 L221.8,245.7 L222.8,245.7 L223.7,245.8 L224.6,245.8 L225.5,245.9 L226.4,245.9 L227.4,246.0 L228.3,246.0 L229.2,246.1 L230.1,246.1 L231.1,246.1 L232.0,246.2 L232.9,246.2 L233.8,246.2 L234.8,246.2 L235.7,246.2 L236.8,246.2 L237.9,246.2 L238.9,246.2 L240.0,246.2 L241.1,246.2 L242.2,246.1 L243.3,246.1 L244.3,246.1 L245.4,246.1 L246.5,246.0 L247.6,246.0 L248.7,246.0 L249.7,246.0 L250.8,245.9 L251.9,245.9 L253.0,245.9 L254.0,245.8 L255.1,245.8 L256.2,245.8 L257.3,245.8 L258.4,245.8 L259.4,245.8 L260.5,245.8 L261.6,245.8 L262.1,245.8 L262.7,245.7 L263.2,245.7 L263.7,245.7 L264.3,245.6 L264.8,245.6 L265.3,245.5 L265.9,245.4 L266.4,245.4 L266.9,245.3 L267.5,245.2 L268.0,245.1 L268.5,245.0 L269.1,245.0 L269.6,244.9 L270.1,244.8 L270.7,244.7 L271.2,244.7 L271.7,244.6 L272.3,244.6 L272.8,244.5 L273.3,244.5 L273.9,244.5 L274.4,244.5 L274.8,244.5 L275.2,244.5 L275.6,244.4 L276.1,244.4 L276.5,244.4 L276.9,244.3 L277.3,244.2 L277.7,244.2 L278.1,244.1 L278.6,244.0 L279.0,243.9 L279.4,243.8 L279.8,243.7 L280.2,243.7 L280.6,243.6 L281.1,243.5 L281.5,243.4 L281.9,243.3 L282.3,243.3 L282.7,243.2 L283.1,243.2 L283.6,243.2 L284.0,243.2 L284.4,243.2"/>
<path d="M194.6,245.7 L195.4,245.7 L196.2,245.7 L197.0,245.7 L197.8,245.7 L198.5,245.7 L199.3,245.8 L200.1,245.8 L200.9,245.8 L201.7,245.9 L202.5,245.9 L203.3,245.9 L204.1,246.0 L204.8,246.0 L205.6,246.1 L206.4,246.1 L207.2,246.1 L208.0,246.2 L208.8,246.2 L209.6,246.2 L210.3,246.3 L211.1,246.3 L211.9,246.3 L212.7,246.3 L213.5,246.3 L214.4,246.3 L215.3,246.3 L216.3,246.4 L217.2,246.4 L218.1,246.4 L219.1,246.5 L220.0,246.6 L220.9,246.7 L221.8,246.7 L222.8,246.8 L223.7,246.9 L224.6,247.0 L225.5,247.1 L226.4,247.2 L227.4,247.3 L228.3,247.4 L229.2,247.5 L230.1,247.5 L231.1,247.6 L232.0,247.6 L232.9,247.7 L233.8,247.7 L234.8,247.7 L235.7,247.7 L236.8,247.7 L237.9,247.7 L238.9,247.7 L240.0,247.7 L241.1,247.7 L242.2,247.7 L243.3,247.7 L244.3,247.7 L245.4,247.7 L246.5,247.7 L247.6,247.7 L248.7,247.7 L249.7,247.6 L250.8,247.6 L251.9,247.6 L253.0,247.6 L254.0,247.6 L255.1,247.6 L256.2,247.6 L257.3,247.6 L258.4,247.6 L259.4,247.6 L260.5,247.6 L261.6,247.6 L262.1,247.6 L262.7,247.5 L263.2,247.5 L263.7,247.5 L264.3,247.4 L264.8,247.4 L265.3,247.3 L265.9,247.2 L266.4,247.2 L266.9,247.1 L267.5,247.0 L268.0,246.9 L268.5,246.8 L269.1,246.8 L269.6,246.7 L270.1,246.6 L270.7,246.5 L271.2,246.5 L271.7,246.4 L272.3,246.4 L272.8,246.3 L273.3,246.3 L273.9,246.3 L274.4,246.3 L274.8,246.3 L275.2,246.3 L275.6,246.2 L276.1,246.2 L276.5,246.2 L276.9,246.1 L277.3,246.0 L277.7,246.0 L278.1,245.9 L278.6,245.8 L279.0,245.7 L279.4,245.6 L279.8,245.5 L280.2,245.5 L280.6,245.4 L281.1,245.3 L281.5,245.2 L281.9,245.1 L282.3,245.1 L282.7,245.0 L283.1,245.0 L283.6,245.0 L284.0,245.0 L284.4,244.9"/>
<path d="M194.6,247.7 L195.4,247.7 L196.2,247.7 L197.0,247.7 L197.8,247.7 L198.5,247.7 L199.3,247.7 L200.1,247.7 L200.9,247.7 L201.7,247.7 L202.5,247.7 L203.3,247.7 L204.1,247.7 L204.8,247.7 L205.6,247.7 L206.4,247.7 L207.2,247.7 L208.0,247.7 L208.8,247.7 L209.6,247.7 L210.3,247.7 L211.1,247.7 L211.9,247.7 L212.7,247.7 L213.5,247.7 L214.4,247.7 L215.3,247.7 L216.3,247.7 L217.2,247.8 L218.1,247.9 L219.1,247.9 L220.0,248.0 L220.9,248.1 L221.8,248.3 L222.8,248.4 L223.7,248.5 L224.6,248.6 L225.5,248.8 L226.4,248.9 L227.4,249.0 L228.3,249.1 L229.2,249.2 L230.1,249.3 L231.1,249.4 L232.0,249.5 L232.9,249.6 L233.8,249.6 L234.8,249.6 L235.7,249.6 L236.8,249.5 L237.9,249.4 L238.9,249.3 L240.0,249.2 L241.1,249.1 L242.2,249.0 L243.3,248.9 L244.3,248.8 L245.4,248.7 L246.5,248.7 L247.6,248.6 L248.7,248.6 L249.7,248.6 L250.8,248.6 L251.9,248.6 L253.0,248.6 L254.0,248.7 L255.1,248.8 L256.2,248.8 L257.3,248.9 L258.4,249.0 L259.4,249.1 L260.5,249.2 L261.6,249.4 L262.1,249.4 L262.7,249.3 L263.2,249.3 L263.7,249.3 L264.3,249.2 L264.8,249.2 L265.3,249.1 L265.9,249.0 L266.4,249.0 L266.9,248.9 L267.5,248.8 L268.0,248.7 L268.5,248.6 L269.1,248.6 L269.6,248.5 L270.1,248.4 L270.7,248.3 L271.2,248.3 L271.7,248.2 L272.3,248.2 L272.8,248.1 L273.3,248.1 L273.9,248.1 L274.4,248.1 L274.8,248.1 L275.2,248.1 L275.6,248.0 L276.1,248.0 L276.5,248.0 L276.9,247.9 L277.3,247.8 L277.7,247.8 L278.1,247.7 L278.6,247.6 L279.0,247.5 L279.4,247.4 L279.8,247.3 L280.2,247.3 L280.6,247.2 L281.1,247.1 L281.5,247.0 L281.9,246.9 L282.3,246.9 L282.7,246.8 L283.1,246.8 L283.6,246.8 L284.0,246.8 L284.4,246.8"/>
<path d="M194.6,248.6 L195.4,248.6 L196.2,248.6 L197.0,248.6 L197.8,248.6 L198.5,248.6 L199.3,248.6 L200.1,248.6 L200.9,248.6 L201.7,248.6 L202.5,248.6 L203.3,248.6 L204.1,248.6 L204.8,248.6 L205.6,248.6 L206.4,248.6 L207.2,248.6 L208.0,248.6 L208.8,248.6 L209.6,248.6 L210.3,248.6 L211.1,248.6 L211.9,248.6 L212.7,248.6 L213.5,248.6 L214.4,248.6 L215.3,248.6 L216.3,248.6 L217.2,248.7 L218.1,248.8 L219.1,248.9 L220.0,249.0 L220.9,249.1 L221.8,249.2 L222.8,249.3 L223.7,249.4 L224.6,249.6 L225.5,249.7 L226.4,249.9 L227.4,250.0 L228.3,250.1 L229.2,250.2 L230.1,250.3 L231.1,250.4 L232.0,250.5 L232.9,250.5 L233.8,250.6 L234.8,250.6 L235.7,250.6 L236.8,250.6 L237.9,250.6 L238.9,250.6 L240.0,250.7 L241.1,250.7 L242.2,250.7 L243.3,250.7 L244.3,250.8 L245.4,250.8 L246.5,250.8 L247.6,250.9 L248.7,250.9 L249.7,250.9 L250.8,251.0 L251.9,251.0 L253.0,251.0 L254.0,251.1 L255.1,251.1 L256.2,251.1 L257.3,251.1 L258.4,251.1 L259.4,251.2 L260.5,251.2 L261.6,251.2 L262.1,251.2 L262.7,251.1 L263.2,251.1 L263.7,251.1 L264.3,251.0 L264.8,251.0 L265.3,250.9 L265.9,250.8 L266.4,250.8 L266.9,250.7 L267.5,250.6 L268.0,250.5 L268.5,250.4 L269.1,250.4 L269.6,250.3 L270.1,250.2 L270.7,250.1 L271.2,250.1 L271.7,250.0 L272.3,250.0 L272.8,249.9 L273.3,249.9 L273.9,249.9 L274.4,249.9 L274.8,249.9 L275.2,249.9 L275.6,249.8 L276.1,249.8 L276.5,249.8 L276.9,249.7 L277.3,249.6 L277.7,249.6 L278.1,249.5 L278.6,249.4 L279.0,249.3 L279.4,249.2 L279.8,249.1 L280.2,249.1 L280.6,249.0 L281.1,248.9 L281.5,248.8 L281.9,248.7 L282.3,248.7 L282.7,248.6 L283.1,248.6 L283.6,248.6 L284.0,248.6 L284.4,248.6"/>
<path d="M194.6,250.1 L195.4,250.1 L196.2,250.1 L197.0,250.1 L197.8,250.1 L198.5,250.1 L199.3,250.1 L200.1,250.0 L200.9,250.0 L201.7,250.0 L202.5,250.0 L203.3,250.0 L204.1,250.0 L204.8,250.0 L205.6,250.0 L206.4,250.0 L207.2,249.9 L208.0,249.9 L208.8,249.9 L209.6,249.9 L210.3,249.9 L211.1,249.9 L211.9,249.9 L212.7,249.9 L213.5,249.9 L214.4,249.9 L215.3,250.0 L216.3,250.1 L217.2,250.2 L218.1,250.4 L219.1,250.6 L220.0,250.8 L220.9,251.0 L221.8,251.3 L222.8,251.6 L223.7,251.9 L224.6,252.2 L225.5,252.5 L226.4,252.8 L227.4,253.1 L228.3,253.3 L229.2,253.6 L230.1,253.8 L231.1,254.0 L232.0,254.2 L232.9,254.3 L233.8,254.4 L234.8,254.5 L235.7,254.5 L236.8,254.3 L237.9,254.1 L238.9,253.9 L240.0,253.7 L241.1,253.5 L242.2,253.3 L243.3,253.1 L244.3,252.9 L245.4,252.8 L246.5,252.6 L247.6,252.5 L248.7,252.4 L249.7,252.3 L250.8,252.2 L251.9,252.2 L253.0,252.2 L254.0,252.2 L255.1,252.2 L256.2,252.3 L257.3,252.4 L258.4,252.5 L259.4,252.6 L260.5,252.8 L261.6,253.0 L262.1,253.0 L262.7,252.9 L263.2,252.9 L263.7,252.9 L264.3,252.8 L264.8,252.8 L265.3,252.7 L265.9,252.6 L266.4,252.6 L266.9,252.5 L267.5,252.4 L268.0,252.3 L268.5,252.2 L269.1,252.2 L269.6,252.1 L270.1,252.0 L270.7,251.9 L271.2,251.9 L271.7,251.8 L272.3,251.8 L272.8,251.7 L273.3,251.7 L273.9,251.7 L274.4,251.7 L274.8,251.7 L275.2,251.7 L275.6,251.6 L276.1,251.6 L276.5,251.6 L276.9,251.5 L277.3,251.4 L277.7,251.4 L278.1,251.3 L278.6,251.2 L279.0,251.1 L279.4,251.0 L279.8,250.9 L280.2,250.9 L280.6,250.8 L281.1,250.7 L281.5,250.6 L281.9,250.5 L282.3,250.5 L282.7,250.4 L283.1,250.4 L283.6,250.4 L284.0,250.4 L284.4,250.3"/>
<path d="M194.6,251.6 L195.4,251.6 L196.2,251.6 L197.0,251.6 L197.8,251.6 L198.5,251.6 L199.3,251.6 L200.1,251.6 L200.9,251.6 L201.7,251.6 L202.5,251.6 L203.3,251.6 L204.1,251.7 L204.8,251.7 L205.6,251.7 L206.4,251.7 L207.2,251.7 L208.0,251.7 L208.8,251.7 L209.6,251.7 L210.3,251.7 L211.1,251.7 L211.9,251.7 L212.7,251.7 L213.5,251.7 L214.4,251.7 L215.3,251.8 L216.3,251.9 L217.2,252.0 L218.1,252.2 L219.1,252.4 L220.0,252.6 L220.9,252.9 L221.8,253.1 L222.8,253.4 L223.7,253.7 L224.6,254.0 L225.5,254.3 L226.4,254.6 L227.4,254.9 L228.3,255.2 L229.2,255.5 L230.1,255.7 L231.1,255.9 L232.0,256.1 L232.9,256.2 L233.8,256.3 L234.8,256.4 L235.7,256.4 L236.8,256.4 L237.9,256.4 L238.9,256.3 L240.0,256.3 L241.1,256.2 L242.2,256.1 L243.3,256.1 L244.3,256.0 L245.4,255.9 L246.5,255.8 L247.6,255.7 L248.7,255.6 L249.7,255.5 L250.8,255.4 L251.9,255.3 L253.0,255.2 L254.0,255.1 L255.1,255.0 L256.2,254.9 L257.3,254.9 L258.4,254.8 L259.4,254.8 L260.5,254.8 L261.6,254.8 L262.1,254.8 L262.7,254.7 L263.2,254.7 L263.7,254.7 L264.3,254.6 L264.8,254.6 L265.3,254.5 L265.9,254.4 L266.4,254.4 L266.9,254.3 L267.5,254.2 L268.0,254.1 L268.5,254.0 L269.1,254.0 L269.6,253.9 L270.1,253.8 L270.7,253.7 L271.2,253.7 L271.7,253.6 L272.3,253.6 L272.8,253.5 L273.3,253.5 L273.9,253.5 L274.4,253.5 L274.8,253.5 L275.2,253.5 L275.6,253.4 L276.1,253.4 L276.5,253.4 L276.9,253.3 L277.3,253.2 L277.7,253.2 L278.1,253.1 L278.6,253.0 L279.0,252.9 L279.4,252.8 L279.8,252.7 L280.2,252.7 L280.6,252.6 L281.1,252.5 L281.5,252.4 L281.9,252.3 L282.3,252.3 L282.7,252.2 L283.1,252.2 L283.6,252.2 L284.0,252.2 L284.4,252.2"/>
<path d="M194.6,252.5 L195.4,252.5 L196.2,252.5 L197.0,252.5 L197.8,252.6 L198.5,252.6 L199.3,252.7 L200.1,252.7 L200.9,252.8 L201.7,252.8 L202.5,252.9 L203.3,252.9 L204.1,253.0 L204.8,253.1 L205.6,253.1 L206.4,253.2 L207.2,253.3 L208.0,253.3 L208.8,253.4 L209.6,253.4 L210.3,253.4 L211.1,253.5 L211.9,253.5 L212.7,253.5 L213.5,253.5 L214.4,253.5 L215.3,253.6 L216.3,253.7 L217.2,253.8 L218.1,253.9 L219.1,254.1 L220.0,254.3 L220.9,254.5 L221.8,254.8 L222.8,255.0 L223.7,255.3 L224.6,255.5 L225.5,255.8 L226.4,256.0 L227.4,256.3 L228.3,256.5 L229.2,256.8 L230.1,257.0 L231.1,257.1 L232.0,257.3 L232.9,257.4 L233.8,257.5 L234.8,257.5 L235.7,257.6 L236.8,257.5 L237.9,257.5 L238.9,257.5 L240.0,257.5 L241.1,257.5 L242.2,257.5 L243.3,257.5 L244.3,257.5 L245.4,257.5 L246.5,257.5 L247.6,257.5 L248.7,257.5 L249.7,257.4 L250.8,257.4 L251.9,257.4 L253.0,257.4 L254.0,257.4 L255.1,257.4 L256.2,257.4 L257.3,257.4 L258.4,257.4 L259.4,257.4 L260.5,257.4 L261.6,257.4 L262.1,257.4 L262.7,257.3 L263.2,257.3 L263.7,257.2 L264.3,257.2 L264.8,257.1 L265.3,257.0 L265.9,256.9 L266.4,256.7 L266.9,256.6 L267.5,256.5 L268.0,256.3 L268.5,256.2 L269.1,256.1 L269.6,255.9 L270.1,255.8 L270.7,255.7 L271.2,255.6 L271.7,255.5 L272.3,255.4 L272.8,255.4 L273.3,255.3 L273.9,255.3 L274.4,255.3 L274.8,255.3 L275.2,255.3 L275.6,255.3 L276.1,255.2 L276.5,255.2 L276.9,255.2 L277.3,255.1 L277.7,255.1 L278.1,255.0 L278.6,255.0 L279.0,254.9 L279.4,254.8 L279.8,254.8 L280.2,254.7 L280.6,254.7 L281.1,254.6 L281.5,254.6 L281.9,254.5 L282.3,254.5 L282.7,254.5 L283.1,254.4 L283.6,254.4 L284.0,254.4 L284.4,254.4"/>
<path d="M194.6,253.5 L195.4,253.5 L196.2,253.6 L197.0,253.6 L197.8,253.7 L198.5,253.9 L199.3,254.0 L200.1,254.2 L200.9,254.4 L201.7,254.6 L202.5,254.8 L203.3,255.1 L204.1,255.3 L204.8,255.5 L205.6,255.8 L206.4,256.0 L207.2,256.2 L208.0,256.4 L208.8,256.6 L209.6,256.7 L210.3,256.9 L211.1,257.0 L211.9,257.0 L212.7,257.1 L213.5,257.1 L214.4,257.1 L215.3,257.1 L216.3,257.2 L217.2,257.2 L218.1,257.3 L219.1,257.4 L220.0,257.4 L220.9,257.5 L221.8,257.6 L222.8,257.7 L223.7,257.8 L224.6,258.0 L225.5,258.1 L226.4,258.2 L227.4,258.3 L228.3,258.4 L229.2,258.5 L230.1,258.6 L231.1,258.6 L232.0,258.7 L232.9,258.7 L233.8,258.8 L234.8,258.8 L235.7,258.8 L236.8,258.8 L237.9,258.8 L238.9,258.8 L240.0,258.8 L241.1,258.8 L242.2,258.8 L243.3,258.8 L244.3,258.8 L245.4,258.8 L246.5,258.8 L247.6,258.8 L248.7,258.9 L249.7,258.9 L250.8,258.9 L251.9,258.9 L253.0,258.9 L254.0,258.9 L255.1,258.9 L256.2,258.9 L257.3,258.9 L258.4,258.9 L259.4,258.9 L260.5,258.9 L261.6,258.9 L262.1,258.9 L262.7,258.9 L263.2,258.8 L263.7,258.8 L264.3,258.8 L264.8,258.7 L265.3,258.6 L265.9,258.6 L266.4,258.5 L266.9,258.4 L267.5,258.3 L268.0,258.2 L268.5,258.1 L269.1,258.1 L269.6,258.0 L270.1,257.9 L270.7,257.8 L271.2,257.7 L271.7,257.7 L272.3,257.6 L272.8,257.6 L273.3,257.6 L273.9,257.6 L274.4,257.6 L274.8,257.5 L275.2,257.5 L275.6,257.5 L276.1,257.5 L276.5,257.5 L276.9,257.4 L277.3,257.4 L277.7,257.3 L278.1,257.3 L278.6,257.2 L279.0,257.2 L279.4,257.1 L279.8,257.0 L280.2,257.0 L280.6,256.9 L281.1,256.9 L281.5,256.8 L281.9,256.8 L282.3,256.7 L282.7,256.7 L283.1,256.7 L283.6,256.7 L284.0,256.7 L284.4,256.6"/>
<path d="M194.6,255.0 L195.4,255.0 L196.2,255.1 L197.0,255.1 L197.8,255.2 L198.5,255.3 L199.3,255.4 L200.1,255.5 L200.9,255.7 L201.7,255.8 L202.5,256.0 L203.3,256.1 L204.1,256.3 L204.8,256.5 L205.6,256.6 L206.4,256.8 L207.2,256.9 L208.0,257.1 L208.8,257.2 L209.6,257.3 L210.3,257.4 L211.1,257.5 L211.9,257.5 L212.7,257.5 L213.5,257.6 L214.4,257.6 L215.3,257.6 L216.3,257.7 L217.2,257.7 L218.1,257.8 L219.1,258.0 L220.0,258.1 L220.9,258.2 L221.8,258.4 L222.8,258.6 L223.7,258.8 L224.6,258.9 L225.5,259.1 L226.4,259.3 L227.4,259.5 L228.3,259.6 L229.2,259.8 L230.1,259.9 L231.1,260.1 L232.0,260.2 L232.9,260.2 L233.8,260.3 L234.8,260.3 L235.7,260.3 L236.8,260.3 L237.9,260.4 L238.9,260.4 L240.0,260.4 L241.1,260.4 L242.2,260.4 L243.3,260.5 L244.3,260.5 L245.4,260.5 L246.5,260.6 L247.6,260.6 L248.7,260.7 L249.7,260.7 L250.8,260.7 L251.9,260.8 L253.0,260.8 L254.0,260.8 L255.1,260.9 L256.2,260.9 L257.3,260.9 L258.4,260.9 L259.4,261.0 L260.5,261.0 L261.6,261.0 L262.1,261.0 L262.7,260.9 L263.2,260.9 L263.7,260.9 L264.3,260.8 L264.8,260.7 L265.3,260.7 L265.9,260.6 L266.4,260.5 L266.9,260.4 L267.5,260.3 L268.0,260.2 L268.5,260.1 L269.1,260.0 L269.6,259.9 L270.1,259.8 L270.7,259.7 L271.2,259.6 L271.7,259.5 L272.3,259.5 L272.8,259.4 L273.3,259.4 L273.9,259.4 L274.4,259.4 L274.8,259.3 L275.2,259.3 L275.6,259.3 L276.1,259.3 L276.5,259.3 L276.9,259.3 L277.3,259.3 L277.7,259.2 L278.1,259.2 L278.6,259.2 L279.0,259.2 L279.4,259.1 L279.8,259.1 L280.2,259.1 L280.6,259.0 L281.1,259.0 L281.5,259.0 L281.9,259.0 L282.3,258.9 L282.7,258.9 L283.1,258.9 L283.6,258.9 L284.0,258.9 L284.4,258.9"/>
<path d="M194.6,256.4 L195.4,256.4 L196.2,256.4 L197.0,256.5 L197.8,256.5 L198.5,256.6 L199.3,256.7 L200.1,256.8 L200.9,256.9 L201.7,257.0 L202.5,257.1 L203.3,257.3 L204.1,257.4 L204.8,257.6 L205.6,257.7 L206.4,257.8 L207.2,257.9 L208.0,258.0 L208.8,258.1 L209.6,258.2 L210.3,258.3 L211.1,258.4 L211.9,258.4 L212.7,258.4 L213.5,258.4 L214.4,258.5 L215.3,258.5 L216.3,258.6 L217.2,258.8 L218.1,259.0 L219.1,259.2 L220.0,259.5 L220.9,259.8 L221.8,260.1 L222.8,260.4 L223.7,260.7 L224.6,261.1 L225.5,261.4 L226.4,261.7 L227.4,262.1 L228.3,262.4 L229.2,262.6 L230.1,262.9 L231.1,263.1 L232.0,263.3 L232.9,263.5 L233.8,263.6 L234.8,263.6 L235.7,263.7 L236.8,263.4 L237.9,263.2 L238.9,263.0 L240.0,262.8 L241.1,262.6 L242.2,262.4 L243.3,262.2 L244.3,262.1 L245.4,262.0 L246.5,261.9 L247.6,261.8 L248.7,261.8 L249.7,261.8 L250.8,261.9 L251.9,261.9 L253.0,262.0 L254.0,262.2 L255.1,262.3 L256.2,262.5 L257.3,262.7 L258.4,262.9 L259.4,263.1 L260.5,263.3 L261.6,263.6 L262.1,263.6 L262.7,263.5 L263.2,263.5 L263.7,263.4 L264.3,263.4 L264.8,263.3 L265.3,263.2 L265.9,263.1 L266.4,263.0 L266.9,262.8 L267.5,262.7 L268.0,262.6 L268.5,262.5 L269.1,262.3 L269.6,262.2 L270.1,262.1 L270.7,262.0 L271.2,261.9 L271.7,261.8 L272.3,261.7 L272.8,261.7 L273.3,261.6 L273.9,261.6 L274.4,261.6 L274.8,261.6 L275.2,261.6 L275.6,261.6 L276.1,261.6 L276.5,261.6 L276.9,261.5 L277.3,261.5 L277.7,261.5 L278.1,261.5 L278.6,261.4 L279.0,261.4 L279.4,261.4 L279.8,261.3 L280.2,261.3 L280.6,261.3 L281.1,261.3 L281.5,261.2 L281.9,261.2 L282.3,261.2 L282.7,261.2 L283.1,261.2 L283.6,261.2 L284.0,261.2 L284.4,261.1"/>
<path d="M194.6,257.8 L195.4,257.8 L196.2,257.8 L197.0,257.9 L197.8,257.9 L198.5,257.9 L199.3,258.0 L200.1,258.0 L200.9,258.1 L201.7,258.2 L202.5,258.2 L203.3,258.3 L204.1,258.4 L204.8,258.4 L205.6,258.5 L206.4,258.6 L207.2,258.6 L208.0,258.7 L208.8,258.7 L209.6,258.8 L210.3,258.8 L211.1,258.9 L211.9,258.9 L212.7,258.9 L213.5,258.9 L214.4,258.9 L215.3,259.0 L216.3,259.1 L217.2,259.3 L218.1,259.5 L219.1,259.8 L220.0,260.1 L220.9,260.5 L221.8,260.8 L222.8,261.2 L223.7,261.6 L224.6,262.0 L225.5,262.4 L226.4,262.8 L227.4,263.2 L228.3,263.6 L229.2,263.9 L230.1,264.2 L231.1,264.5 L232.0,264.7 L232.9,264.9 L233.8,265.0 L234.8,265.1 L235.7,265.1 L236.8,265.1 L237.9,265.1 L238.9,265.1 L240.0,265.1 L241.1,265.1 L242.2,265.1 L243.3,265.1 L244.3,265.1 L245.4,265.1 L246.5,265.1 L247.6,265.1 L248.7,265.2 L249.7,265.2 L250.8,265.2 L251.9,265.2 L253.0,265.2 L254.0,265.2 L255.1,265.2 L256.2,265.2 L257.3,265.2 L258.4,265.2 L259.4,265.2 L260.5,265.2 L261.6,265.2 L262.1,265.2 L262.7,265.2 L263.2,265.1 L263.7,265.1 L264.3,265.0 L264.8,264.9 L265.3,264.8 L265.9,264.8 L266.4,264.6 L266.9,264.5 L267.5,264.4 L268.0,264.3 L268.5,264.2 L269.1,264.1 L269.6,264.0 L270.1,263.9 L270.7,263.8 L271.2,263.7 L271.7,263.6 L272.3,263.5 L272.8,263.5 L273.3,263.4 L273.9,263.4 L274.4,263.4 L274.8,263.4 L275.2,263.4 L275.6,263.4 L276.1,263.4 L276.5,263.4 L276.9,263.4 L277.3,263.4 L277.7,263.4 L278.1,263.4 L278.6,263.4 L279.0,263.4 L279.4,263.4 L279.8,263.4 L280.2,263.4 L280.6,263.4 L281.1,263.4 L281.5,263.4 L281.9,263.4 L282.3,263.4 L282.7,263.4 L283.1,263.4 L283.6,263.4 L284.0,263.4 L284.4,263.4"/>
<path d="M194.6,261.2 L195.4,261.2 L196.2,261.2 L197.0,261.1 L197.8,261.0 L198.5,260.9 L199.3,260.8 L200.1,260.6 L200.9,260.4 L201.7,260.2 L202.5,260.0 L203.3,259.8 L204.1,259.6 L204.8,259.4 L205.6,259.2 L206.4,259.0 L207.2,258.8 L208.0,258.6 L208.8,258.5 L209.6,258.3 L210.3,258.2 L211.1,258.1 L211.9,258.1 L212.7,258.0 L213.5,258.0 L214.4,258.0 L215.3,257.9 L216.3,257.8 L217.2,257.6 L218.1,257.4 L219.1,257.2 L220.0,256.9 L220.9,256.6 L221.8,256.3 L222.8,256.0 L223.7,255.7 L224.6,255.3 L225.5,254.9 L226.4,254.6 L227.4,254.3 L228.3,253.9 L229.2,253.7 L230.1,253.4 L231.1,253.2 L232.0,253.0 L232.9,252.8 L233.8,252.7 L234.8,252.6 L235.7,252.6 L236.8,252.8 L237.9,253.1 L238.9,253.3 L240.0,253.4 L241.1,253.6 L242.2,253.7 L243.3,253.9 L244.3,253.9 L245.4,254.0 L246.5,254.0 L247.6,254.0 L248.7,253.9 L249.7,253.9 L250.8,253.8 L251.9,253.6 L253.0,253.5 L254.0,253.3 L255.1,253.1 L256.2,252.9 L257.3,252.7 L258.4,252.4 L259.4,252.2 L260.5,251.9 L261.6,251.7 L262.1,251.7 L262.7,251.8 L263.2,251.9 L263.7,252.0 L264.3,252.2 L264.8,252.4 L265.3,252.6 L265.9,252.8 L266.4,253.1 L266.9,253.4 L267.5,253.7 L268.0,253.9 L268.5,254.2 L269.1,254.5 L269.6,254.8 L270.1,255.1 L270.7,255.3 L271.2,255.5 L271.7,255.7 L272.3,255.9 L272.8,256.0 L273.3,256.1 L273.9,256.2 L274.4,256.2 L274.8,256.2 L275.2,256.2 L275.6,256.3 L276.1,256.3 L276.5,256.4 L276.9,256.5 L277.3,256.6 L277.7,256.6 L278.1,256.8 L278.6,256.9 L279.0,257.0 L279.4,257.1 L279.8,257.2 L280.2,257.3 L280.6,257.4 L281.1,257.6 L281.5,257.6 L281.9,257.7 L282.3,257.8 L282.7,257.9 L283.1,257.9 L283.6,258.0 L284.0,258.0 L284.4,258.0"/>
<path d="M194.6,264.6 L195.4,264.5 L196.2,264.5 L197.0,264.3 L197.8,264.2 L198.5,264.0 L199.3,263.7 L200.1,263.4 L200.9,263.1 L201.7,262.8 L202.5,262.4 L203.3,262.0 L204.1,261.6 L204.8,261.3 L205.6,260.9 L206.4,260.5 L207.2,260.2 L208.0,259.9 L208.8,259.6 L209.6,259.3 L210.3,259.1 L211.1,258.9 L211.9,258.8 L212.7,258.7 L213.5,258.7 L214.4,258.7 L215.3,258.8 L216.3,258.8 L217.2,258.9 L218.1,259.0 L219.1,259.1 L220.0,259.3 L220.9,259.4 L221.8,259.6 L222.8,259.8 L223.7,260.0 L224.6,260.2 L225.5,260.3 L226.4,260.5 L227.4,260.7 L228.3,260.9 L229.2,261.0 L230.1,261.2 L231.1,261.3 L232.0,261.4 L232.9,261.5 L233.8,261.6 L234.8,261.6 L235.7,261.6 L236.8,261.6 L237.9,261.5 L238.9,261.5 L240.0,261.4 L241.1,261.2 L242.2,261.1 L243.3,260.9 L244.3,260.7 L245.4,260.5 L246.5,260.3 L247.6,260.0 L248.7,259.8 L249.7,259.6 L250.8,259.3 L251.9,259.1 L253.0,258.9 L254.0,258.7 L255.1,258.5 L256.2,258.4 L257.3,258.2 L258.4,258.1 L259.4,258.1 L260.5,258.0 L261.6,258.0 L262.1,258.0 L262.7,258.0 L263.2,258.1 L263.7,258.2 L264.3,258.3 L264.8,258.4 L265.3,258.5 L265.9,258.7 L266.4,258.8 L266.9,259.0 L267.5,259.2 L268.0,259.4 L268.5,259.5 L269.1,259.7 L269.6,259.9 L270.1,260.0 L270.7,260.2 L271.2,260.3 L271.7,260.4 L272.3,260.5 L272.8,260.6 L273.3,260.7 L273.9,260.7 L274.4,260.7 L274.8,260.7 L275.2,260.8 L275.6,260.9 L276.1,261.0 L276.5,261.2 L276.9,261.4 L277.3,261.6 L277.7,261.8 L278.1,262.1 L278.6,262.4 L279.0,262.7 L279.4,262.9 L279.8,263.2 L280.2,263.5 L280.6,263.8 L281.1,264.1 L281.5,264.3 L281.9,264.5 L282.3,264.7 L282.7,264.9 L283.1,265.0 L283.6,265.1 L284.0,265.2 L284.4,265.2"/>
<path d="M194.6,269.0 L195.4,269.0 L196.2,269.0 L197.0,269.1 L197.8,269.1 L198.5,269.2 L199.3,269.3 L200.1,269.5 L200.9,269.6 L201.7,269.8 L202.5,269.9 L203.3,270.1 L204.1,270.2 L204.8,270.4 L205.6,270.6 L206.4,270.7 L207.2,270.9 L208.0,271.0 L208.8,271.1 L209.6,271.2 L210.3,271.3 L211.1,271.4 L211.9,271.5 L212.7,271.5 L213.5,271.5 L214.4,271.5 L215.3,271.5 L216.3,271.4 L217.2,271.3 L218.1,271.2 L219.1,271.1 L220.0,271.0 L220.9,270.8 L221.8,270.7 L222.8,270.5 L223.7,270.3 L224.6,270.1 L225.5,270.0 L226.4,269.8 L227.4,269.6 L228.3,269.5 L229.2,269.3 L230.1,269.2 L231.1,269.1 L232.0,269.0 L232.9,268.9 L233.8,268.8 L234.8,268.8 L235.7,268.8 L236.8,268.7 L237.9,268.6 L238.9,268.4 L240.0,268.3 L241.1,268.2 L242.2,268.1 L243.3,267.9 L244.3,267.8 L245.4,267.7 L246.5,267.7 L247.6,267.6 L248.7,267.5 L249.7,267.5 L250.8,267.5 L251.9,267.5 L253.0,267.5 L254.0,267.5 L255.1,267.5 L256.2,267.6 L257.3,267.7 L258.4,267.8 L259.4,267.9 L260.5,268.0 L261.6,268.1 L262.1,268.1 L262.7,268.1 L263.2,268.1 L263.7,268.2 L264.3,268.2 L264.8,268.3 L265.3,268.3 L265.9,268.4 L266.4,268.4 L266.9,268.5 L267.5,268.6 L268.0,268.7 L268.5,268.7 L269.1,268.8 L269.6,268.9 L270.1,269.0 L270.7,269.0 L271.2,269.1 L271.7,269.1 L272.3,269.2 L272.8,269.2 L273.3,269.2 L273.9,269.2 L274.4,269.2 L274.8,269.3 L275.2,269.3 L275.6,269.3 L276.1,269.3 L276.5,269.3 L276.9,269.3 L277.3,269.3 L277.7,269.4 L278.1,269.4 L278.6,269.4 L279.0,269.4 L279.4,269.5 L279.8,269.5 L280.2,269.5 L280.6,269.6 L281.1,269.6 L281.5,269.6 L281.9,269.6 L282.3,269.7 L282.7,269.7 L283.1,269.7 L283.6,269.7 L284.0,269.7 L284.4,269.7"/>
<path d="M194.6,270.8 L195.4,270.8 L196.2,270.8 L197.0,270.9 L197.8,271.0 L198.5,271.1 L199.3,271.3 L200.1,271.4 L200.9,271.6 L201.7,271.8 L202.5,272.0 L203.3,272.3 L204.1,272.5 L204.8,272.7 L205.6,272.9 L206.4,273.1 L207.2,273.3 L208.0,273.5 L208.8,273.7 L209.6,273.8 L210.3,274.0 L211.1,274.1 L211.9,274.1 L212.7,274.2 L213.5,274.2 L214.4,274.2 L215.3,274.1 L216.3,274.0 L217.2,273.9 L218.1,273.7 L219.1,273.5 L220.0,273.3 L220.9,273.1 L221.8,272.8 L222.8,272.5 L223.7,272.2 L224.6,271.9 L225.5,271.7 L226.4,271.4 L227.4,271.1 L228.3,270.8 L229.2,270.6 L230.1,270.4 L231.1,270.2 L232.0,270.0 L232.9,269.9 L233.8,269.8 L234.8,269.7 L235.7,269.7 L236.8,269.9 L237.9,270.2 L238.9,270.4 L240.0,270.7 L241.1,270.9 L242.2,271.1 L243.3,271.3 L244.3,271.5 L245.4,271.7 L246.5,271.8 L247.6,272.0 L248.7,272.0 L249.7,272.1 L250.8,272.1 L251.9,272.1 L253.0,272.1 L254.0,272.0 L255.1,271.9 L256.2,271.8 L257.3,271.6 L258.4,271.4 L259.4,271.2 L260.5,271.0 L261.6,270.8 L262.1,270.8 L262.7,270.8 L263.2,270.8 L263.7,270.8 L264.3,270.8 L264.8,270.8 L265.3,270.8 L265.9,270.8 L266.4,270.9 L266.9,270.9 L267.5,270.9 L268.0,270.9 L268.5,270.9 L269.1,270.9 L269.6,271.0 L270.1,271.0 L270.7,271.0 L271.2,271.0 L271.7,271.0 L272.3,271.0 L272.8,271.0 L273.3,271.0 L273.9,271.0 L274.4,271.1 L274.8,271.1 L275.2,271.1 L275.6,271.1 L276.1,271.1 L276.5,271.1 L276.9,271.1 L277.3,271.1 L277.7,271.2 L278.1,271.2 L278.6,271.2 L279.0,271.2 L279.4,271.3 L279.8,271.3 L280.2,271.3 L280.6,271.4 L281.1,271.4 L281.5,271.4 L281.9,271.4 L282.3,271.5 L282.7,271.5 L283.1,271.5 L283.6,271.5 L284.0,271.5 L284.4,271.5"/>
</g>
<g clip-path="url(#dpe)">
<polygon points="284.4,181.5 295.3,181.5 296.1,181.7 296.7,181.9 297.3,182.1 297.8,182.4 298.1,182.6 298.3,182.8 298.4,183.0 298.3,183.2 298.1,183.4 297.7,183.7 297.2,183.9 296.6,184.1 296.0,184.3 295.2,184.5 294.4,184.7 293.5,185.0 292.7,185.2 291.8,185.4 291.0,185.6 291.6,185.8 292.2,186.0 292.6,186.3 293.0,186.5 293.3,186.7 293.4,186.9 293.4,187.1 293.2,187.3 293.0,187.6 292.6,187.8 292.1,188.0 291.5,188.2 290.9,188.4 290.2,188.6 289.6,188.9 288.9,189.1 288.3,189.3 287.7,189.5 287.1,189.7 286.7,189.9 286.2,190.2 285.9,190.4 285.5,190.6 285.3,190.8 285.1,191.0 284.9,191.2 284.8,191.5 284.7,191.7 284.6,191.9 284.5,192.1 284.5,192.3 284.5,192.5 284.4,192.8 284.4,193.0 284.4,193.2 284.4,193.4 284.4,193.6 284.4,193.8 284.4,194.1 284.4,194.3 284.4,194.5 284.4,194.7 284.4,194.9 284.4,195.1 284.4,195.4 284.4,195.6 284.4,195.8 284.4,196.0 284.4,196.2 284.4,196.4 284.4,196.7 284.4,196.9 284.4,197.1 284.4,197.3 284.4,197.5 284.4,197.7 284.4,197.9 284.4,198.2 284.4,198.4 284.4,198.6 284.4,198.8 284.4,199.0 284.4,199.2 284.4,199.5 284.4,199.7 284.4,199.9 284.4,200.1 284.4,200.3 284.4,200.5 284.4,200.8 284.4,201.0 284.4,201.2 284.4,201.4 284.5,201.6 284.5,201.8 284.5,202.1 284.6,202.3 284.7,202.5 284.9,202.7 285.1,202.9 285.3,203.1 285.6,203.4 286.0,203.6 286.5,203.8 287.0,204.0 287.6,204.2 288.2,204.4 288.9,204.7 289.5,204.9 290.1,205.1 290.6,205.3 291.0,205.5 291.3,205.7 291.4,206.0 291.3,206.2 291.1,206.4 290.8,206.6 290.3,206.8 289.7,207.0 289.1,207.3 288.5,207.5 287.8,207.7 287.2,207.9 286.7,208.1 286.2,208.3 285.8,208.6 285.8,208.8 286.2,209.0 286.6,209.2 287.1,209.4 287.5,209.6 288.0,209.9 288.4,210.1 288.8,210.3 289.1,210.5 289.3,210.7 289.4,210.9 289.4,211.2 289.2,211.4 289.0,211.6 288.7,211.8 288.3,212.0 287.8,212.2 287.4,212.4 286.9,212.7 286.5,212.9 286.1,213.1 285.7,213.3 285.4,213.5 285.2,213.7 285.0,214.0 284.8,214.2 284.7,214.4 284.6,214.6 284.5,214.8 284.5,215.0 284.5,215.3 284.4,215.5 284.4,215.7 284.4,215.9 284.4,216.1 284.4,216.3 284.4,216.6 284.4,216.8 284.4,217.0 284.4,217.2 284.4,217.4 284.4,217.6 284.4,217.9 284.4,218.1 284.4,218.3 284.4,218.5 284.4,218.7 284.4,218.9 284.4,219.2 284.4,219.4 284.4,219.6 284.4,219.8 284.4,220.0 284.4,220.2 284.4,220.5 284.4,220.7 284.4,220.9 284.4,221.1 284.4,221.3 284.4,221.5 284.4,221.8 284.4,222.0 284.4,222.2 284.4,222.4 284.4,222.6 284.4,222.8 284.4,223.1 284.4,223.3 284.4,223.5 284.4,223.7 284.4,223.9 284.4,224.1 284.4,224.4 284.4,224.6 284.4,224.8 284.4,225.0 284.4,225.2 284.4,225.4 284.4,225.7 284.4,225.9 284.4,226.1 284.4,226.3 284.4,226.5 284.4,226.7 284.4,227.0 284.4,227.2 284.4,227.4 284.4,227.6 284.4,227.8 284.4,228.0 284.4,228.2 284.4,228.5 284.4,228.7 284.4,228.9 284.4,229.1 284.4,229.3 284.4,229.5 284.4,229.8 284.4,230.0 284.4,230.2 284.4,230.4 284.4,230.6 284.4,230.8 284.4,231.1 284.4,231.3 284.4,231.5 284.4,231.7 284.4,231.9 284.4,232.1 284.4,232.4 284.4,232.6 284.4,232.8 284.4,233.0 284.4,233.2 284.4,233.4 284.4,233.7 284.4,233.9 284.4,234.1 284.4,234.3 284.4,234.5 284.4,234.7 284.5,235.0 284.5,235.2 284.6,235.4 284.7,235.6 284.9,235.8 285.1,236.0 285.4,236.3 285.8,236.5 286.3,236.7 286.8,236.9 287.2,237.1 287.7,237.3 288.1,237.6 288.3,237.8 288.4,238.0 288.3,238.2 288.1,238.4 287.7,238.6 287.3,238.9 286.8,239.1 287.3,239.3 287.8,239.5 288.4,239.7 288.9,239.9 289.4,240.2 289.8,240.4 290.1,240.6 290.3,240.8 290.4,241.0 290.3,241.2 290.1,241.5 289.8,241.7 289.3,241.9 288.8,242.1 288.3,242.3 288.5,242.5 289.1,242.8 289.8,243.0 290.3,243.2 290.8,243.4 291.1,243.6 291.4,243.8 291.4,244.0 291.3,244.3 291.0,244.5 290.6,244.7 290.1,244.9 289.5,245.1 288.8,245.3 289.2,245.6 289.9,245.8 290.6,246.0 291.3,246.2 291.8,246.4 292.2,246.6 292.4,246.9 292.4,247.1 292.2,247.3 291.9,247.5 291.4,247.7 290.8,247.9 290.1,248.2 289.4,248.4 290.1,248.6 291.6,248.8 293.0,249.0 294.0,249.2 294.4,249.5 294.2,249.7 293.4,249.9 292.1,250.1 290.7,250.3 294.4,250.5 298.8,250.8 303.4,251.0 307.1,251.2 309.2,251.4 309.0,251.6 306.7,251.8 302.7,252.1 312.6,252.3 331.1,252.5 343.9,252.7 342.9,252.9 328.7,253.1 310.3,253.4 316.7,253.6 319.4,253.8 317.2,254.0 310.9,254.2 302.9,254.4 296.6,254.7 310.6,254.9 327.8,255.1 339.9,255.3 339.2,255.5 326.0,255.7 314.1,256.0 320.3,256.2 323.9,256.4 324.0,256.6 320.5,256.8 314.4,257.0 307.1,257.3 306.4,257.5 308.3,257.7 309.3,257.9 309.2,258.1 308.2,258.3 306.3,258.6 303.7,258.8 300.7,259.0 297.6,259.2 298.3,259.4 298.2,259.6 296.8,259.8 294.6,260.1 292.0,260.3 290.2,260.5 291.2,260.7 292.2,260.9 292.9,261.1 293.3,261.4 293.4,261.6 293.1,261.8 292.4,262.0 291.5,262.2 290.5,262.4 291.7,262.7 292.8,262.9 293.7,263.1 294.2,263.3 294.4,263.5 294.1,263.7 293.5,264.0 292.6,264.2 291.4,264.4 290.2,264.6 289.0,264.8 287.9,265.0 288.2,265.3 294.7,265.5 305.9,265.7 319.2,265.9 327.7,266.1 326.0,266.3 315.2,266.6 302.0,266.8 296.4,267.0 295.9,267.2 294.4,267.4 292.4,267.6 290.2,267.9 288.5,268.1 289.2,268.3 289.8,268.5 290.2,268.7 290.4,268.9 290.3,269.2 290.0,269.4 289.5,269.6 288.9,269.8 288.2,270.0 287.4,270.2 287.5,270.5 288.1,270.7 288.6,270.9 289.1,271.1 289.3,271.3 289.4,271.5 289.3,271.8 288.9,272.0 288.5,272.2 287.9,272.4 287.3,272.6 286.7,272.8 286.1,273.1 285.6,273.3 286.0,273.5 286.8,273.7 287.7,273.9 288.8,274.1 290.0,274.3 291.2,274.6 292.4,274.8 293.3,275.0 294.0,275.2 294.4,275.4 294.3,275.6 293.8,275.9 293.0,276.1 291.9,276.3 290.7,276.5 289.5,276.7 288.7,276.9 292.7,277.2 297.7,277.4 301.9,277.6 303.4,277.8 301.5,278.0 297.1,278.2 292.2,278.5 289.5,278.7 291.3,278.9 293.0,279.1 294.1,279.3 294.4,279.5 293.7,279.8 292.4,280.0 290.6,280.2 288.8,280.4 287.2,280.6 287.6,280.8 288.5,281.1 289.2,281.3 289.4,281.5 289.2,281.7 288.6,281.9 287.7,282.1 286.8,282.4 286.0,282.6 285.3,282.8 284.9,283.0 284.7,283.2 284.5,283.4 284.4,283.7 284.4,283.9 284.4,284.1 284.4,284.3 284.4,284.5 284.4,284.7 284.4,285.0 284.4,285.2 284.4,285.4 284.4,285.6 284.4,285.8 284.4,286.0 284.4,286.3 284.4,286.5 284.4,286.7 284.4,286.9 284.4,287.1 284.4,287.3 284.4,287.6 284.4,287.8 284.4,288.0 284.4,288.2 284.4,288.4 284.4,288.6 284.4,288.9 284.4,289.1 284.4,289.3 284.4,289.5 284.4,289.5" fill="#f9c08e" stroke="#e0a070" stroke-width="0.3"/>
<polygon points="284.4,181.5 284.4,181.5 284.4,181.7 284.4,181.9 284.4,182.1 284.4,182.4 284.4,182.6 284.4,182.8 284.4,183.0 284.4,183.2 284.4,183.4 284.4,183.7 284.4,183.9 284.4,184.1 284.4,184.3 284.4,184.5 284.4,184.7 284.4,185.0 284.4,185.2 284.4,185.4 284.4,185.6 284.4,185.8 284.4,186.0 284.4,186.3 284.4,186.5 284.4,186.7 284.4,186.9 284.4,187.1 284.4,187.3 284.4,187.6 284.4,187.8 284.4,188.0 284.4,188.2 284.4,188.4 284.4,188.6 284.4,188.9 284.4,189.1 284.4,189.3 284.4,189.5 284.4,189.7 284.4,189.9 284.4,190.2 284.4,190.4 284.4,190.6 284.4,190.8 284.4,191.0 284.4,191.2 284.4,191.5 284.4,191.7 284.4,191.9 284.4,192.1 284.4,192.3 284.4,192.5 284.4,192.8 284.4,193.0 284.4,193.2 284.4,193.4 284.4,193.6 284.4,193.8 284.4,194.1 284.4,194.3 284.4,194.5 284.4,194.7 284.4,194.9 284.4,195.1 284.4,195.4 284.4,195.6 284.4,195.8 284.4,196.0 284.4,196.2 284.4,196.4 284.4,196.7 284.4,196.9 284.4,197.1 284.4,197.3 284.4,197.5 284.4,197.7 284.4,197.9 284.4,198.2 284.4,198.4 284.4,198.6 284.4,198.8 284.4,199.0 284.4,199.2 284.4,199.5 284.4,199.7 284.4,199.9 284.4,200.1 284.4,200.3 284.4,200.5 284.4,200.8 284.4,201.0 284.4,201.2 284.4,201.4 284.4,201.6 284.4,201.8 284.4,202.1 284.4,202.3 284.4,202.5 284.4,202.7 284.4,202.9 284.4,203.1 284.4,203.4 284.4,203.6 284.4,203.8 284.4,204.0 284.4,204.2 284.4,204.4 284.4,204.7 284.4,204.9 284.4,205.1 284.4,205.3 284.4,205.5 284.4,205.7 284.4,206.0 284.4,206.2 284.4,206.4 284.4,206.6 284.4,206.8 284.4,207.0 284.4,207.3 284.4,207.5 284.4,207.7 284.4,207.9 284.4,208.1 284.4,208.3 284.4,208.6 284.4,208.8 284.4,209.0 284.4,209.2 284.4,209.4 284.4,209.6 284.4,209.9 284.4,210.1 284.4,210.3 284.4,210.5 284.4,210.7 284.4,210.9 284.4,211.2 284.4,211.4 284.4,211.6 284.4,211.8 284.4,212.0 284.4,212.2 284.4,212.4 284.4,212.7 284.4,212.9 284.4,213.1 284.4,213.3 284.4,213.5 284.4,213.7 284.4,214.0 284.4,214.2 284.4,214.4 284.4,214.6 284.4,214.8 284.4,215.0 284.4,215.3 284.4,215.5 284.4,215.7 284.4,215.9 284.4,216.1 284.4,216.3 284.4,216.6 284.4,216.8 284.4,217.0 284.4,217.2 284.4,217.4 284.4,217.6 284.4,217.9 284.4,218.1 284.4,218.3 284.4,218.5 284.4,218.7 284.4,218.9 284.4,219.2 284.4,219.4 284.4,219.6 284.4,219.8 284.4,220.0 284.4,220.2 284.4,220.5 284.4,220.7 284.4,220.9 284.4,221.1 284.4,221.3 284.4,221.5 284.4,221.8 284.4,222.0 284.4,222.2 284.4,222.4 284.4,222.6 284.4,222.8 284.4,223.1 284.4,223.3 284.4,223.5 284.4,223.7 284.4,223.9 284.4,224.1 284.4,224.4 284.4,224.6 284.4,224.8 284.4,225.0 284.4,225.2 284.4,225.4 284.4,225.7 284.4,225.9 284.4,226.1 284.4,226.3 284.4,226.5 284.4,226.7 284.4,227.0 284.4,227.2 284.4,227.4 284.4,227.6 284.4,227.8 284.4,228.0 284.4,228.2 284.4,228.5 284.4,228.7 284.4,228.9 284.4,229.1 284.4,229.3 284.4,229.5 284.4,229.8 284.4,230.0 284.4,230.2 284.4,230.4 284.4,230.6 284.4,230.8 284.4,231.1 284.4,231.3 284.4,231.5 284.4,231.7 284.4,231.9 284.4,232.1 284.4,232.4 284.4,232.6 284.4,232.8 284.4,233.0 284.4,233.2 284.4,233.4 284.4,233.7 284.4,233.9 284.4,234.1 284.4,234.3 284.4,234.5 284.4,234.7 284.4,235.0 284.4,235.2 284.4,235.4 284.4,235.6 284.4,235.8 284.4,236.0 284.4,236.3 284.4,236.5 284.4,236.7 284.4,236.9 284.4,237.1 284.4,237.3 284.4,237.6 284.4,237.8 284.4,238.0 284.4,238.2 284.4,238.4 284.4,238.6 284.4,238.9 284.4,239.1 284.4,239.3 284.4,239.5 284.4,239.7 284.4,239.9 284.4,240.2 284.4,240.4 284.4,240.6 284.4,240.8 284.4,241.0 284.4,241.2 284.4,241.5 284.4,241.7 284.4,241.9 284.4,242.1 284.4,242.3 284.4,242.5 284.4,242.8 284.4,243.0 284.4,243.2 284.4,243.4 284.4,243.6 284.4,243.8 284.4,244.0 284.4,244.3 284.4,244.5 284.4,244.7 284.4,244.9 284.4,245.1 284.4,245.3 284.4,245.6 284.4,245.8 284.4,246.0 284.4,246.2 284.4,246.4 284.4,246.6 284.4,246.9 284.4,247.1 284.4,247.3 284.4,247.5 284.4,247.7 284.4,247.9 284.4,248.2 284.4,248.4 284.4,248.6 284.4,248.8 284.4,249.0 284.4,249.2 284.4,249.5 284.4,249.7 284.4,249.9 284.4,250.1 284.4,250.3 284.4,250.5 284.4,250.8 284.4,251.0 284.4,251.2 284.4,251.4 284.5,251.6 284.6,251.8 284.7,252.1 285.0,252.3 285.3,252.5 285.7,252.7 286.2,252.9 286.6,253.1 286.8,253.4 286.9,253.6 286.7,253.8 286.3,254.0 285.9,254.2 285.4,254.4 285.1,254.7 284.8,254.9 284.6,255.1 284.5,255.3 284.4,255.5 284.4,255.7 284.4,256.0 284.4,256.2 284.4,256.4 284.4,256.6 284.4,256.8 284.4,257.0 284.4,257.3 284.4,257.5 284.4,257.7 284.4,257.9 284.4,258.1 284.4,258.3 284.4,258.6 284.4,258.8 284.4,259.0 284.4,259.2 284.4,259.4 284.4,259.6 284.4,259.8 284.4,260.1 284.4,260.3 284.4,260.5 284.4,260.7 284.4,260.9 284.4,261.1 284.4,261.4 284.4,261.6 284.4,261.8 284.4,262.0 284.4,262.2 284.4,262.4 284.4,262.7 284.4,262.9 284.4,263.1 284.4,263.3 284.4,263.5 284.4,263.7 284.4,264.0 284.4,264.2 284.4,264.4 284.4,264.6 284.4,264.8 284.4,265.0 284.4,265.3 284.4,265.5 284.4,265.7 284.4,265.9 284.4,266.1 284.4,266.3 284.4,266.6 284.4,266.8 284.4,267.0 284.4,267.2 284.4,267.4 284.4,267.6 284.4,267.9 284.4,268.1 284.4,268.3 284.4,268.5 284.4,268.7 284.4,268.9 284.4,269.2 284.4,269.4 284.4,269.6 284.4,269.8 284.4,270.0 284.4,270.2 284.4,270.5 284.4,270.7 284.4,270.9 284.4,271.1 284.4,271.3 284.4,271.5 284.4,271.8 284.4,272.0 284.4,272.2 284.4,272.4 284.4,272.6 284.4,272.8 284.4,273.1 284.4,273.3 284.4,273.5 284.4,273.7 284.4,273.9 284.4,274.1 284.4,274.3 284.4,274.6 284.4,274.8 284.4,275.0 284.4,275.2 284.4,275.4 284.4,275.6 284.4,275.9 284.4,276.1 284.4,276.3 284.4,276.5 284.4,276.7 284.4,276.9 284.4,277.2 284.4,277.4 284.4,277.6 284.4,277.8 284.4,278.0 284.4,278.2 284.4,278.5 284.4,278.7 284.4,278.9 284.4,279.1 284.4,279.3 284.4,279.5 284.4,279.8 284.4,280.0 284.4,280.2 284.4,280.4 284.4,280.6 284.4,280.8 284.4,281.1 284.4,281.3 284.4,281.5 284.4,281.7 284.4,281.9 284.4,282.1 284.4,282.4 284.4,282.6 284.4,282.8 284.4,283.0 284.4,283.2 284.4,283.4 284.4,283.7 284.4,283.9 284.4,284.1 284.4,284.3 284.4,284.5 284.4,284.7 284.4,285.0 284.4,285.2 284.4,285.4 284.4,285.6 284.4,285.8 284.4,286.0 284.4,286.3 284.4,286.5 284.4,286.7 284.4,286.9 284.4,287.1 284.4,287.3 284.4,287.6 284.4,287.8 284.4,288.0 284.4,288.2 284.4,288.4 284.4,288.6 284.4,288.9 284.4,289.1 284.4,289.3 284.4,289.5 284.4,289.5" fill="#7fb2f0" stroke="#6a9ad8" stroke-width="0.3"/>
</g>
<rect x="194.6" y="181.5" width="156.79999999999998" height="108.0" fill="none" stroke="#333" stroke-width="1"/>
<line x1="284.4" y1="181.5" x2="284.4" y2="289.5" stroke="#111" stroke-width="1.3"/>
<line x1="285.4" y1="181.5" x2="285.4" y2="289.5" stroke="#f0a040" stroke-width="0.6"/>
<line x1="194.6" y1="181.5" x2="196.1" y2="181.5" stroke="#333" stroke-width="0.6"/>
<text x="192.5" y="183.0" font-family='"Liberation Sans", sans-serif' font-size="4.4" fill="#444" text-anchor="end">6</text>
<line x1="194.6" y1="199.5" x2="196.1" y2="199.5" stroke="#333" stroke-width="0.6"/>
<text x="192.5" y="201.0" font-family='"Liberation Sans", sans-serif' font-size="4.4" fill="#444" text-anchor="end">4</text>
<line x1="194.6" y1="217.5" x2="196.1" y2="217.5" stroke="#333" stroke-width="0.6"/>
<text x="192.5" y="219.0" font-family='"Liberation Sans", sans-serif' font-size="4.4" fill="#444" text-anchor="end">2</text>
<line x1="194.6" y1="235.5" x2="196.1" y2="235.5" stroke="#333" stroke-width="0.6"/>
<text x="192.5" y="237.0" font-family='"Liberation Sans", sans-serif' font-size="4.4" fill="#444" text-anchor="end">0</text>
<line x1="194.6" y1="253.5" x2="196.1" y2="253.5" stroke="#333" stroke-width="0.6"/>
<text x="192.5" y="255.0" font-family='"Liberation Sans", sans-serif' font-size="4.4" fill="#444" text-anchor="end">-2</text>
<line x1="194.6" y1="271.5" x2="196.1" y2="271.5" stroke="#333" stroke-width="0.6"/>
<text x="192.5" y="273.0" font-family='"Liberation Sans", sans-serif' font-size="4.4" fill="#444" text-anchor="end">-4</text>
<line x1="194.6" y1="289.5" x2="196.1" y2="289.5" stroke="#333" stroke-width="0.6"/>
<text x="192.5" y="291.0" font-family='"Liberation Sans", sans-serif' font-size="4.4" fill="#444" text-anchor="end">-6</text>
<line x1="194.6" y1="190.5" x2="195.6" y2="190.5" stroke="#333" stroke-width="0.5"/>
<line x1="194.6" y1="208.5" x2="195.6" y2="208.5" stroke="#333" stroke-width="0.5"/>
<line x1="194.6" y1="226.5" x2="195.6" y2="226.5" stroke="#333" stroke-width="0.5"/>
<line x1="194.6" y1="244.5" x2="195.6" y2="244.5" stroke="#333" stroke-width="0.5"/>
<line x1="194.6" y1="262.5" x2="195.6" y2="262.5" stroke="#333" stroke-width="0.5"/>
<line x1="194.6" y1="280.5" x2="195.6" y2="280.5" stroke="#333" stroke-width="0.5"/>
<text transform="translate(186,233.8) rotate(-90)" font-family='"Liberation Sans", sans-serif' font-size="5" fill="#444" text-anchor="middle">Energy (eV)</text>
<text x="194.6" y="296.5" font-family='"Liberation Sans", sans-serif' font-size="5" fill="#444" text-anchor="middle">W</text>
<text x="213.5" y="296.5" font-family='"Liberation Sans", sans-serif' font-size="5" fill="#444" text-anchor="middle">L</text>
<text x="235.7" y="296.5" font-family='"Liberation Sans", sans-serif' font-size="5" fill="#444" text-anchor="middle">G</text>
<text x="261.6" y="296.5" font-family='"Liberation Sans", sans-serif' font-size="5" fill="#444" text-anchor="middle">X</text>
<text x="274.4" y="296.5" font-family='"Liberation Sans", sans-serif' font-size="5" fill="#444" text-anchor="middle">W</text>
<text x="284.4" y="296.5" font-family='"Liberation Sans", sans-serif' font-size="5" fill="#444" text-anchor="middle">K</text>
<text x="284.4" y="178.2" font-family='"Liberation Sans", sans-serif' font-size="4.8" fill="#333" text-anchor="middle">0</text>
<text x="291.8" y="178.2" font-family='"Liberation Sans", sans-serif' font-size="4.8" fill="#333" text-anchor="middle">5</text>
<line x1="291.8" y1="181.5" x2="291.8" y2="182.8" stroke="#333" stroke-width="0.5"/>
<text x="299.3" y="178.2" font-family='"Liberation Sans", sans-serif' font-size="4.8" fill="#333" text-anchor="middle">10</text>
<line x1="299.3" y1="181.5" x2="299.3" y2="182.8" stroke="#333" stroke-width="0.5"/>
<text x="306.7" y="178.2" font-family='"Liberation Sans", sans-serif' font-size="4.8" fill="#333" text-anchor="middle">15</text>
<line x1="306.7" y1="181.5" x2="306.7" y2="182.8" stroke="#333" stroke-width="0.5"/>
<text x="314.1" y="178.2" font-family='"Liberation Sans", sans-serif' font-size="4.8" fill="#333" text-anchor="middle">20</text>
<line x1="314.1" y1="181.5" x2="314.1" y2="182.8" stroke="#333" stroke-width="0.5"/>
<text x="321.6" y="178.2" font-family='"Liberation Sans", sans-serif' font-size="4.8" fill="#333" text-anchor="middle">25</text>
<line x1="321.6" y1="181.5" x2="321.6" y2="182.8" stroke="#333" stroke-width="0.5"/>
<text x="329.0" y="178.2" font-family='"Liberation Sans", sans-serif' font-size="4.8" fill="#333" text-anchor="middle">30</text>
<line x1="329.0" y1="181.5" x2="329.0" y2="182.8" stroke="#333" stroke-width="0.5"/>
<text x="336.5" y="178.2" font-family='"Liberation Sans", sans-serif' font-size="4.8" fill="#333" text-anchor="middle">35</text>
<line x1="336.5" y1="181.5" x2="336.5" y2="182.8" stroke="#333" stroke-width="0.5"/>
<text x="343.9" y="178.2" font-family='"Liberation Sans", sans-serif' font-size="4.8" fill="#333" text-anchor="middle">40</text>
<line x1="343.9" y1="181.5" x2="343.9" y2="182.8" stroke="#333" stroke-width="0.5"/>
<text x="351.3" y="178.2" font-family='"Liberation Sans", sans-serif' font-size="4.8" fill="#333" text-anchor="middle">45</text>
<text x="320.5" y="170.9" font-family='"Liberation Sans", sans-serif' font-size="4.2" fill="#444" text-anchor="middle">DOS(States/eV f.u.)</text>
<rect x="297.9" y="198.2" width="52.10000000000002" height="37.20000000000002" fill="#fff" stroke="#777" stroke-width="0.6"/>
<rect x="298.6" y="198.9" width="10.899999999999977" height="5.5" fill="#fbbf8b"/>
<text x="311.3" y="203.3" font-family='"Liberation Sans", sans-serif' font-size="5.2" fill="#222">Total Cs<tspan font-size="3.4" dy="0.9">2</tspan><tspan dy="-0.9">AgBiBr<tspan font-size="3.4" dy="0.9">6</tspan><tspan dy="-0.9"></tspan></tspan></text>
<rect x="298.6" y="206.6" width="10.899999999999977" height="5.599999999999994" fill="#5fd39a"/>
<text x="311.3" y="211.1" font-family='"Liberation Sans", sans-serif' font-size="5.2" fill="#222">Total Cs<tspan font-size="3.4" dy="0.9">2</tspan><tspan dy="-0.9"></tspan></text>
<rect x="298.6" y="214.3" width="10.899999999999977" height="5.699999999999989" fill="#c6a8e2"/>
<text x="311.3" y="218.8" font-family='"Liberation Sans", sans-serif' font-size="5.2" fill="#222">Total Ag</text>
<rect x="298.6" y="221.2" width="10.899999999999977" height="5.5" fill="#fffd8a"/>
<text x="311.3" y="225.6" font-family='"Liberation Sans", sans-serif' font-size="5.2" fill="#222">Total Bi</text>
<rect x="298.6" y="227.7" width="10.899999999999977" height="5.800000000000011" fill="#80b6f4"/>
<text x="311.3" y="232.3" font-family='"Liberation Sans", sans-serif' font-size="5.2" fill="#222">Total Br<tspan font-size="3.4" dy="0.9">6</tspan><tspan dy="-0.9"></tspan></text>
<text x="181" y="166.2" font-family='"Liberation Serif", serif' font-weight="bold" font-size="11.4" fill="#111">(e)</text>
</g>
<g id="pf">
<defs><clipPath id="cpf"><rect x="382.2" y="181.0" width="98.69999999999999" height="105.89999999999998"/></clipPath><clipPath id="dpf"><rect x="480.9" y="181.0" width="62.0" height="105.89999999999998"/></clipPath></defs>
<line x1="403.3" y1="181.0" x2="403.3" y2="286.9" stroke="#ff5a5a" stroke-width="1"/>
<line x1="428.4" y1="181.0" x2="428.4" y2="286.9" stroke="#4aa3ff" stroke-width="1"/>
<line x1="457.5" y1="181.0" x2="457.5" y2="286.9" stroke="#22c08a" stroke-width="1"/>
<line x1="472.6" y1="181.0" x2="472.6" y2="286.9" stroke="#c070f0" stroke-width="1"/>
<line x1="382.2" y1="234.0" x2="480.9" y2="234.0" stroke="#20d0e0" stroke-width="1.1"/>
<g clip-path="url(#cpf)" fill="none" stroke="#000" stroke-width="0.95">
<path d="M382.2,209.3 L383.1,209.3 L384.0,209.5 L384.8,209.7 L385.7,210.1 L386.6,210.6 L387.5,211.1 L388.4,211.7 L389.2,212.4 L390.1,213.1 L391.0,213.9 L391.9,214.7 L392.8,215.5 L393.6,216.3 L394.5,217.1 L395.4,217.8 L396.3,218.5 L397.1,219.2 L398.0,219.8 L398.9,220.4 L399.8,220.8 L400.7,221.2 L401.5,221.4 L402.4,221.6 L403.3,221.6 L404.3,221.6 L405.4,221.5 L406.4,221.3 L407.5,221.1 L408.5,220.8 L409.6,220.4 L410.6,220.0 L411.7,219.6 L412.7,219.1 L413.8,218.6 L414.8,218.1 L415.9,217.5 L416.9,217.0 L417.9,216.5 L419.0,216.0 L420.0,215.5 L421.1,215.0 L422.1,214.6 L423.2,214.3 L424.2,214.0 L425.3,213.7 L426.3,213.6 L427.4,213.5 L428.4,213.4 L429.6,213.4 L430.8,213.4 L432.0,213.3 L433.2,213.2 L434.5,213.1 L435.7,212.9 L436.9,212.8 L438.1,212.6 L439.3,212.4 L440.5,212.1 L441.7,211.9 L442.9,211.7 L444.2,211.5 L445.4,211.3 L446.6,211.0 L447.8,210.8 L449.0,210.7 L450.2,210.5 L451.4,210.3 L452.6,210.2 L453.9,210.1 L455.1,210.0 L456.3,210.0 L457.5,210.0 L458.1,210.0 L458.8,210.0 L459.4,210.0 L460.0,210.0 L460.6,210.0 L461.3,210.0 L461.9,210.0 L462.5,210.0 L463.2,210.0 L463.8,210.0 L464.4,210.1 L465.1,210.1 L465.7,210.1 L466.3,210.1 L466.9,210.1 L467.6,210.1 L468.2,210.1 L468.8,210.1 L469.5,210.1 L470.1,210.1 L470.7,210.2 L471.3,210.2 L472.0,210.2 L472.6,210.2 L472.9,210.2 L473.3,210.2 L473.6,210.2 L474.0,210.2 L474.3,210.2 L474.7,210.3 L475.0,210.3 L475.4,210.4 L475.7,210.4 L476.1,210.5 L476.4,210.5 L476.8,210.6 L477.1,210.6 L477.4,210.7 L477.8,210.7 L478.1,210.8 L478.5,210.8 L478.8,210.8 L479.2,210.9 L479.5,210.9 L479.9,210.9 L480.2,210.9 L480.6,211.0 L480.9,211.0"/>
<path d="M382.2,209.3 L383.1,209.2 L384.0,209.2 L384.8,209.0 L385.7,208.9 L386.6,208.6 L387.5,208.4 L388.4,208.1 L389.2,207.7 L390.1,207.4 L391.0,207.0 L391.9,206.6 L392.8,206.2 L393.6,205.8 L394.5,205.4 L395.4,205.0 L396.3,204.6 L397.1,204.3 L398.0,204.0 L398.9,203.7 L399.8,203.5 L400.7,203.3 L401.5,203.2 L402.4,203.1 L403.3,203.1 L404.3,203.1 L405.4,203.3 L406.4,203.5 L407.5,203.8 L408.5,204.2 L409.6,204.6 L410.6,205.1 L411.7,205.7 L412.7,206.3 L413.8,206.9 L414.8,207.6 L415.9,208.3 L416.9,208.9 L417.9,209.6 L419.0,210.2 L420.0,210.8 L421.1,211.4 L422.1,211.9 L423.2,212.4 L424.2,212.7 L425.3,213.0 L426.3,213.3 L427.4,213.4 L428.4,213.4 L429.6,213.4 L430.8,213.3 L432.0,213.2 L433.2,213.1 L434.5,212.9 L435.7,212.7 L436.9,212.4 L438.1,212.2 L439.3,211.9 L440.5,211.6 L441.7,211.2 L442.9,210.9 L444.2,210.6 L445.4,210.3 L446.6,209.9 L447.8,209.7 L449.0,209.4 L450.2,209.1 L451.4,208.9 L452.6,208.7 L453.9,208.6 L455.1,208.5 L456.3,208.4 L457.5,208.4 L458.1,208.4 L458.8,208.4 L459.4,208.4 L460.0,208.4 L460.6,208.4 L461.3,208.5 L461.9,208.5 L462.5,208.5 L463.2,208.5 L463.8,208.6 L464.4,208.6 L465.1,208.6 L465.7,208.6 L466.3,208.7 L466.9,208.7 L467.6,208.7 L468.2,208.7 L468.8,208.8 L469.5,208.8 L470.1,208.8 L470.7,208.8 L471.3,208.8 L472.0,208.8 L472.6,208.8 L472.9,208.8 L473.3,208.8 L473.6,208.7 L474.0,208.6 L474.3,208.5 L474.7,208.4 L475.0,208.3 L475.4,208.1 L475.7,207.9 L476.1,207.8 L476.4,207.6 L476.8,207.4 L477.1,207.2 L477.4,207.0 L477.8,206.8 L478.1,206.6 L478.5,206.5 L478.8,206.3 L479.2,206.2 L479.5,206.1 L479.9,206.0 L480.2,206.0 L480.6,205.9 L480.9,205.9"/>
<path d="M382.2,175.7 L383.1,175.7 L384.0,175.7 L384.8,175.8 L385.7,175.8 L386.6,175.8 L387.5,175.9 L388.4,175.9 L389.2,175.9 L390.1,176.0 L391.0,176.0 L391.9,176.1 L392.8,176.2 L393.6,176.2 L394.5,176.3 L395.4,176.3 L396.3,176.4 L397.1,176.4 L398.0,176.5 L398.9,176.5 L399.8,176.5 L400.7,176.6 L401.5,176.6 L402.4,176.6 L403.3,176.6 L404.3,176.7 L405.4,176.8 L406.4,177.0 L407.5,177.3 L408.5,177.7 L409.6,178.2 L410.6,178.7 L411.7,179.3 L412.7,180.0 L413.8,180.6 L414.8,181.3 L415.9,182.0 L416.9,182.7 L417.9,183.4 L419.0,184.1 L420.0,184.8 L421.1,185.3 L422.1,185.9 L423.2,186.3 L424.2,186.7 L425.3,187.1 L426.3,187.3 L427.4,187.4 L428.4,187.5 L429.6,186.4 L430.8,185.4 L432.0,184.5 L433.2,183.6 L434.5,182.8 L435.7,182.1 L436.9,181.5 L438.1,181.1 L439.3,180.7 L440.5,180.5 L441.7,180.4 L442.9,180.5 L444.2,180.7 L445.4,181.0 L446.6,181.5 L447.8,182.0 L449.0,182.7 L450.2,183.5 L451.4,184.4 L452.6,185.3 L453.9,186.3 L455.1,187.3 L456.3,188.4 L457.5,189.4 L458.1,189.4 L458.8,189.2 L459.4,189.0 L460.0,188.7 L460.6,188.3 L461.3,187.8 L461.9,187.2 L462.5,186.6 L463.2,186.0 L463.8,185.3 L464.4,184.6 L465.1,183.9 L465.7,183.2 L466.3,182.5 L466.9,181.8 L467.6,181.1 L468.2,180.5 L468.8,180.0 L469.5,179.5 L470.1,179.1 L470.7,178.8 L471.3,178.6 L472.0,178.4 L472.6,178.4 L472.9,178.4 L473.3,178.3 L473.6,178.3 L474.0,178.3 L474.3,178.2 L474.7,178.1 L475.0,178.0 L475.4,177.9 L475.7,177.8 L476.1,177.7 L476.4,177.6 L476.8,177.5 L477.1,177.4 L477.4,177.3 L477.8,177.2 L478.1,177.0 L478.5,177.0 L478.8,176.9 L479.2,176.8 L479.5,176.7 L479.9,176.7 L480.2,176.6 L480.6,176.6 L480.9,176.6"/>
<path d="M382.2,174.0 L383.1,174.0 L384.0,174.0 L384.8,174.0 L385.7,174.1 L386.6,174.1 L387.5,174.2 L388.4,174.3 L389.2,174.4 L390.1,174.5 L391.0,174.6 L391.9,174.7 L392.8,174.8 L393.6,175.0 L394.5,175.1 L395.4,175.2 L396.3,175.3 L397.1,175.4 L398.0,175.5 L398.9,175.5 L399.8,175.6 L400.7,175.7 L401.5,175.7 L402.4,175.7 L403.3,175.7 L404.3,175.8 L405.4,175.9 L406.4,176.1 L407.5,176.4 L408.5,176.7 L409.6,177.2 L410.6,177.7 L411.7,178.2 L412.7,178.8 L413.8,179.4 L414.8,180.0 L415.9,180.7 L416.9,181.3 L417.9,181.9 L419.0,182.6 L420.0,183.1 L421.1,183.7 L422.1,184.2 L423.2,184.6 L424.2,184.9 L425.3,185.2 L426.3,185.4 L427.4,185.6 L428.4,185.6 L429.6,185.2 L430.8,184.8 L432.0,184.3 L433.2,183.8 L434.5,183.3 L435.7,182.7 L436.9,182.1 L438.1,181.5 L439.3,180.9 L440.5,180.4 L441.7,179.8 L442.9,179.3 L444.2,178.9 L445.4,178.5 L446.6,178.2 L447.8,177.9 L449.0,177.7 L450.2,177.6 L451.4,177.5 L452.6,177.5 L453.9,177.6 L455.1,177.8 L456.3,178.1 L457.5,178.4 L458.1,178.4 L458.8,178.3 L459.4,178.3 L460.0,178.3 L460.6,178.2 L461.3,178.1 L461.9,178.0 L462.5,177.9 L463.2,177.8 L463.8,177.7 L464.4,177.6 L465.1,177.5 L465.7,177.4 L466.3,177.3 L466.9,177.2 L467.6,177.0 L468.2,177.0 L468.8,176.9 L469.5,176.8 L470.1,176.7 L470.7,176.7 L471.3,176.6 L472.0,176.6 L472.6,176.6 L472.9,176.6 L473.3,176.6 L473.6,176.6 L474.0,176.5 L474.3,176.5 L474.7,176.5 L475.0,176.4 L475.4,176.4 L475.7,176.3 L476.1,176.3 L476.4,176.2 L476.8,176.2 L477.1,176.1 L477.4,176.0 L477.8,176.0 L478.1,175.9 L478.5,175.9 L478.8,175.9 L479.2,175.8 L479.5,175.8 L479.9,175.8 L480.2,175.7 L480.6,175.7 L480.9,175.7"/>
<path d="M382.2,172.2 L383.1,172.2 L384.0,172.2 L384.8,172.3 L385.7,172.3 L386.6,172.4 L387.5,172.4 L388.4,172.5 L389.2,172.6 L390.1,172.7 L391.0,172.8 L391.9,173.0 L392.8,173.1 L393.6,173.2 L394.5,173.3 L395.4,173.4 L396.3,173.5 L397.1,173.6 L398.0,173.7 L398.9,173.8 L399.8,173.8 L400.7,173.9 L401.5,173.9 L402.4,173.9 L403.3,174.0 L404.3,174.0 L405.4,174.1 L406.4,174.3 L407.5,174.6 L408.5,175.0 L409.6,175.4 L410.6,175.8 L411.7,176.4 L412.7,176.9 L413.8,177.5 L414.8,178.1 L415.9,178.8 L416.9,179.4 L417.9,180.0 L419.0,180.6 L420.0,181.2 L421.1,181.7 L422.1,182.2 L423.2,182.6 L424.2,182.9 L425.3,183.2 L426.3,183.4 L427.4,183.5 L428.4,183.6 L429.6,183.2 L430.8,182.8 L432.0,182.3 L433.2,181.8 L434.5,181.2 L435.7,180.7 L436.9,180.1 L438.1,179.5 L439.3,179.0 L440.5,178.4 L441.7,177.9 L442.9,177.4 L444.2,177.0 L445.4,176.6 L446.6,176.3 L447.8,176.1 L449.0,175.9 L450.2,175.8 L451.4,175.7 L452.6,175.7 L453.9,175.9 L455.1,176.0 L456.3,176.3 L457.5,176.6 L458.1,176.6 L458.8,176.6 L459.4,176.5 L460.0,176.5 L460.6,176.4 L461.3,176.3 L461.9,176.3 L462.5,176.2 L463.2,176.1 L463.8,176.0 L464.4,175.8 L465.1,175.7 L465.7,175.6 L466.3,175.5 L466.9,175.4 L467.6,175.3 L468.2,175.2 L468.8,175.1 L469.5,175.0 L470.1,175.0 L470.7,174.9 L471.3,174.9 L472.0,174.8 L472.6,174.8 L472.9,174.8 L473.3,174.8 L473.6,174.8 L474.0,174.8 L474.3,174.7 L474.7,174.7 L475.0,174.7 L475.4,174.6 L475.7,174.6 L476.1,174.5 L476.4,174.5 L476.8,174.4 L477.1,174.3 L477.4,174.3 L477.8,174.2 L478.1,174.2 L478.5,174.1 L478.8,174.1 L479.2,174.0 L479.5,174.0 L479.9,174.0 L480.2,174.0 L480.6,174.0 L480.9,174.0"/>
<path d="M382.2,182.3 L383.1,182.3 L384.0,182.2 L384.8,182.0 L385.7,181.8 L386.6,181.5 L387.5,181.1 L388.4,180.7 L389.2,180.2 L390.1,179.8 L391.0,179.2 L391.9,178.7 L392.8,178.2 L393.6,177.6 L394.5,177.1 L395.4,176.5 L396.3,176.1 L397.1,175.6 L398.0,175.2 L398.9,174.8 L399.8,174.5 L400.7,174.3 L401.5,174.1 L402.4,174.0 L403.3,174.0 L404.3,173.9 L405.4,173.9 L406.4,173.9 L407.5,173.8 L408.5,173.8 L409.6,173.7 L410.6,173.6 L411.7,173.5 L412.7,173.4 L413.8,173.3 L414.8,173.2 L415.9,173.1 L416.9,173.0 L417.9,172.8 L419.0,172.7 L420.0,172.6 L421.1,172.5 L422.1,172.4 L423.2,172.4 L424.2,172.3 L425.3,172.3 L426.3,172.2 L427.4,172.2 L428.4,172.2 L429.6,172.2 L430.8,172.2 L432.0,172.2 L433.2,172.2 L434.5,172.2 L435.7,172.2 L436.9,172.2 L438.1,172.2 L439.3,172.2 L440.5,172.2 L441.7,172.2 L442.9,172.2 L444.2,172.2 L445.4,172.2 L446.6,172.2 L447.8,172.2 L449.0,172.2 L450.2,172.2 L451.4,172.2 L452.6,172.2 L453.9,172.2 L455.1,172.2 L456.3,172.2 L457.5,172.2 L458.1,172.2 L458.8,172.2 L459.4,172.2 L460.0,172.2 L460.6,172.2 L461.3,172.2 L461.9,172.2 L462.5,172.2 L463.2,172.2 L463.8,172.2 L464.4,172.2 L465.1,172.2 L465.7,172.2 L466.3,172.2 L466.9,172.2 L467.6,172.2 L468.2,172.2 L468.8,172.2 L469.5,172.2 L470.1,172.2 L470.7,172.2 L471.3,172.2 L472.0,172.2 L472.6,172.2 L472.9,172.2 L473.3,172.2 L473.6,172.2 L474.0,172.2 L474.3,172.2 L474.7,172.2 L475.0,172.2 L475.4,172.2 L475.7,172.2 L476.1,172.2 L476.4,172.2 L476.8,172.2 L477.1,172.2 L477.4,172.2 L477.8,172.2 L478.1,172.2 L478.5,172.2 L478.8,172.2 L479.2,172.2 L479.5,172.2 L479.9,172.2 L480.2,172.2 L480.6,172.2 L480.9,172.2"/>
<path d="M382.2,234.0 L383.1,234.0 L384.0,234.2 L384.8,234.4 L385.7,234.7 L386.6,235.1 L387.5,235.6 L388.4,236.1 L389.2,236.7 L390.1,237.3 L391.0,238.0 L391.9,238.7 L392.8,239.4 L393.6,240.1 L394.5,240.8 L395.4,241.4 L396.3,242.1 L397.1,242.7 L398.0,243.2 L398.9,243.7 L399.8,244.1 L400.7,244.4 L401.5,244.6 L402.4,244.7 L403.3,244.8 L404.3,244.8 L405.4,244.7 L406.4,244.7 L407.5,244.7 L408.5,244.6 L409.6,244.6 L410.6,244.5 L411.7,244.4 L412.7,244.3 L413.8,244.2 L414.8,244.1 L415.9,244.0 L416.9,243.9 L417.9,243.8 L419.0,243.7 L420.0,243.6 L421.1,243.6 L422.1,243.5 L423.2,243.4 L424.2,243.4 L425.3,243.3 L426.3,243.3 L427.4,243.3 L428.4,243.3 L429.6,244.0 L430.8,244.7 L432.0,245.3 L433.2,245.7 L434.5,246.0 L435.7,246.2 L436.9,246.2 L438.1,246.2 L439.3,245.9 L440.5,245.6 L441.7,245.1 L442.9,244.5 L444.2,243.8 L445.4,243.0 L446.6,242.1 L447.8,241.2 L449.0,240.2 L450.2,239.2 L451.4,238.2 L452.6,237.1 L453.9,236.1 L455.1,235.2 L456.3,234.2 L457.5,233.4 L458.1,233.4 L458.8,233.4 L459.4,233.4 L460.0,233.4 L460.6,233.4 L461.3,233.5 L461.9,233.5 L462.5,233.5 L463.2,233.6 L463.8,233.6 L464.4,233.7 L465.1,233.7 L465.7,233.7 L466.3,233.8 L466.9,233.8 L467.6,233.8 L468.2,233.9 L468.8,233.9 L469.5,233.9 L470.1,234.0 L470.7,234.0 L471.3,234.0 L472.0,234.0 L472.6,234.0 L472.9,234.0 L473.3,234.0 L473.6,234.0 L474.0,234.0 L474.3,234.0 L474.7,234.1 L475.0,234.1 L475.4,234.1 L475.7,234.1 L476.1,234.2 L476.4,234.2 L476.8,234.2 L477.1,234.2 L477.4,234.3 L477.8,234.3 L478.1,234.3 L478.5,234.4 L478.8,234.4 L479.2,234.4 L479.5,234.4 L479.9,234.4 L480.2,234.4 L480.6,234.4 L480.9,234.4"/>
<path d="M382.2,247.1 L383.1,247.1 L384.0,247.0 L384.8,247.0 L385.7,247.0 L386.6,246.9 L387.5,246.9 L388.4,246.8 L389.2,246.8 L390.1,246.7 L391.0,246.6 L391.9,246.6 L392.8,246.5 L393.6,246.4 L394.5,246.3 L395.4,246.3 L396.3,246.2 L397.1,246.1 L398.0,246.1 L398.9,246.0 L399.8,246.0 L400.7,246.0 L401.5,245.9 L402.4,245.9 L403.3,245.9 L404.3,245.9 L405.4,245.9 L406.4,245.8 L407.5,245.7 L408.5,245.6 L409.6,245.5 L410.6,245.4 L411.7,245.2 L412.7,245.0 L413.8,244.8 L414.8,244.7 L415.9,244.5 L416.9,244.3 L417.9,244.1 L419.0,243.9 L420.0,243.7 L421.1,243.6 L422.1,243.4 L423.2,243.3 L424.2,243.2 L425.3,243.1 L426.3,243.1 L427.4,243.0 L428.4,243.0 L429.6,243.0 L430.8,243.1 L432.0,243.2 L433.2,243.4 L434.5,243.6 L435.7,243.8 L436.9,244.0 L438.1,244.3 L439.3,244.6 L440.5,245.0 L441.7,245.3 L442.9,245.7 L444.2,246.0 L445.4,246.3 L446.6,246.7 L447.8,247.0 L449.0,247.3 L450.2,247.5 L451.4,247.8 L452.6,247.9 L453.9,248.1 L455.1,248.2 L456.3,248.3 L457.5,248.3 L458.1,248.3 L458.8,248.3 L459.4,248.3 L460.0,248.3 L460.6,248.3 L461.3,248.3 L461.9,248.3 L462.5,248.3 L463.2,248.3 L463.8,248.2 L464.4,248.2 L465.1,248.2 L465.7,248.2 L466.3,248.2 L466.9,248.2 L467.6,248.2 L468.2,248.2 L468.8,248.2 L469.5,248.1 L470.1,248.1 L470.7,248.1 L471.3,248.1 L472.0,248.1 L472.6,248.1 L472.9,248.1 L473.3,248.1 L473.6,248.1 L474.0,248.1 L474.3,248.0 L474.7,248.0 L475.0,248.0 L475.4,247.9 L475.7,247.9 L476.1,247.8 L476.4,247.7 L476.8,247.7 L477.1,247.6 L477.4,247.6 L477.8,247.5 L478.1,247.5 L478.5,247.4 L478.8,247.4 L479.2,247.3 L479.5,247.3 L479.9,247.3 L480.2,247.3 L480.6,247.2 L480.9,247.2"/>
<path d="M382.2,248.6 L383.1,248.6 L384.0,248.5 L384.8,248.5 L385.7,248.5 L386.6,248.4 L387.5,248.4 L388.4,248.3 L389.2,248.2 L390.1,248.2 L391.0,248.1 L391.9,248.0 L392.8,247.9 L393.6,247.8 L394.5,247.7 L395.4,247.7 L396.3,247.6 L397.1,247.5 L398.0,247.4 L398.9,247.4 L399.8,247.3 L400.7,247.3 L401.5,247.3 L402.4,247.3 L403.3,247.2 L404.3,247.2 L405.4,247.2 L406.4,247.1 L407.5,247.0 L408.5,246.9 L409.6,246.7 L410.6,246.6 L411.7,246.4 L412.7,246.2 L413.8,245.9 L414.8,245.7 L415.9,245.5 L416.9,245.2 L417.9,245.0 L419.0,244.8 L420.0,244.6 L421.1,244.4 L422.1,244.2 L423.2,244.1 L424.2,243.9 L425.3,243.8 L426.3,243.8 L427.4,243.7 L428.4,243.7 L429.6,243.7 L430.8,243.8 L432.0,243.9 L433.2,244.1 L434.5,244.4 L435.7,244.6 L436.9,244.9 L438.1,245.3 L439.3,245.6 L440.5,246.0 L441.7,246.4 L442.9,246.8 L444.2,247.2 L445.4,247.6 L446.6,248.0 L447.8,248.3 L449.0,248.7 L450.2,249.0 L451.4,249.3 L452.6,249.5 L453.9,249.7 L455.1,249.8 L456.3,249.9 L457.5,249.9 L458.1,249.9 L458.8,249.9 L459.4,249.9 L460.0,249.9 L460.6,249.8 L461.3,249.8 L461.9,249.8 L462.5,249.8 L463.2,249.8 L463.8,249.7 L464.4,249.7 L465.1,249.7 L465.7,249.6 L466.3,249.6 L466.9,249.6 L467.6,249.6 L468.2,249.5 L468.8,249.5 L469.5,249.5 L470.1,249.5 L470.7,249.5 L471.3,249.5 L472.0,249.5 L472.6,249.5 L472.9,249.4 L473.3,249.4 L473.6,249.4 L474.0,249.4 L474.3,249.4 L474.7,249.3 L475.0,249.3 L475.4,249.2 L475.7,249.2 L476.1,249.1 L476.4,249.1 L476.8,249.0 L477.1,249.0 L477.4,248.9 L477.8,248.8 L478.1,248.8 L478.5,248.7 L478.8,248.7 L479.2,248.7 L479.5,248.6 L479.9,248.6 L480.2,248.6 L480.6,248.6 L480.9,248.6"/>
<path d="M382.2,249.9 L383.1,249.9 L384.0,249.9 L384.8,249.8 L385.7,249.8 L386.6,249.8 L387.5,249.7 L388.4,249.6 L389.2,249.6 L390.1,249.5 L391.0,249.4 L391.9,249.3 L392.8,249.2 L393.6,249.1 L394.5,249.1 L395.4,249.0 L396.3,248.9 L397.1,248.8 L398.0,248.8 L398.9,248.7 L399.8,248.7 L400.7,248.6 L401.5,248.6 L402.4,248.6 L403.3,248.6 L404.3,248.6 L405.4,248.6 L406.4,248.6 L407.5,248.6 L408.5,248.6 L409.6,248.6 L410.6,248.7 L411.7,248.7 L412.7,248.7 L413.8,248.7 L414.8,248.8 L415.9,248.8 L416.9,248.8 L417.9,248.8 L419.0,248.9 L420.0,248.9 L421.1,248.9 L422.1,248.9 L423.2,249.0 L424.2,249.0 L425.3,249.0 L426.3,249.0 L427.4,249.0 L428.4,249.0 L429.6,248.9 L430.8,248.8 L432.0,248.8 L433.2,248.7 L434.5,248.7 L435.7,248.7 L436.9,248.7 L438.1,248.8 L439.3,248.9 L440.5,249.0 L441.7,249.1 L442.9,249.2 L444.2,249.4 L445.4,249.5 L446.6,249.7 L447.8,249.9 L449.0,250.1 L450.2,250.3 L451.4,250.5 L452.6,250.6 L453.9,250.8 L455.1,251.0 L456.3,251.1 L457.5,251.2 L458.1,251.2 L458.8,251.2 L459.4,251.2 L460.0,251.2 L460.6,251.2 L461.3,251.2 L461.9,251.1 L462.5,251.1 L463.2,251.1 L463.8,251.1 L464.4,251.0 L465.1,251.0 L465.7,251.0 L466.3,250.9 L466.9,250.9 L467.6,250.9 L468.2,250.9 L468.8,250.8 L469.5,250.8 L470.1,250.8 L470.7,250.8 L471.3,250.8 L472.0,250.8 L472.6,250.8 L472.9,250.8 L473.3,250.8 L473.6,250.7 L474.0,250.7 L474.3,250.7 L474.7,250.6 L475.0,250.6 L475.4,250.6 L475.7,250.5 L476.1,250.4 L476.4,250.4 L476.8,250.3 L477.1,250.3 L477.4,250.2 L477.8,250.2 L478.1,250.1 L478.5,250.1 L478.8,250.0 L479.2,250.0 L479.5,250.0 L479.9,249.9 L480.2,249.9 L480.6,249.9 L480.9,249.9"/>
<path d="M382.2,251.8 L383.1,251.8 L384.0,251.8 L384.8,251.8 L385.7,251.7 L386.6,251.7 L387.5,251.6 L388.4,251.5 L389.2,251.5 L390.1,251.4 L391.0,251.3 L391.9,251.2 L392.8,251.1 L393.6,251.0 L394.5,250.9 L395.4,250.8 L396.3,250.7 L397.1,250.6 L398.0,250.6 L398.9,250.5 L399.8,250.4 L400.7,250.4 L401.5,250.4 L402.4,250.3 L403.3,250.3 L404.3,250.3 L405.4,250.3 L406.4,250.4 L407.5,250.4 L408.5,250.4 L409.6,250.4 L410.6,250.4 L411.7,250.5 L412.7,250.5 L413.8,250.5 L414.8,250.6 L415.9,250.6 L416.9,250.6 L417.9,250.7 L419.0,250.7 L420.0,250.7 L421.1,250.8 L422.1,250.8 L423.2,250.8 L424.2,250.8 L425.3,250.8 L426.3,250.9 L427.4,250.9 L428.4,250.9 L429.6,250.9 L430.8,250.9 L432.0,250.9 L433.2,251.0 L434.5,251.0 L435.7,251.1 L436.9,251.2 L438.1,251.3 L439.3,251.4 L440.5,251.5 L441.7,251.6 L442.9,251.7 L444.2,251.8 L445.4,251.9 L446.6,252.0 L447.8,252.1 L449.0,252.2 L450.2,252.3 L451.4,252.4 L452.6,252.4 L453.9,252.5 L455.1,252.5 L456.3,252.5 L457.5,252.5 L458.1,252.5 L458.8,252.5 L459.4,252.5 L460.0,252.5 L460.6,252.5 L461.3,252.5 L461.9,252.5 L462.5,252.4 L463.2,252.4 L463.8,252.4 L464.4,252.4 L465.1,252.3 L465.7,252.3 L466.3,252.3 L466.9,252.2 L467.6,252.2 L468.2,252.2 L468.8,252.2 L469.5,252.1 L470.1,252.1 L470.7,252.1 L471.3,252.1 L472.0,252.1 L472.6,252.1 L472.9,252.1 L473.3,252.1 L473.6,252.1 L474.0,252.1 L474.3,252.1 L474.7,252.0 L475.0,252.0 L475.4,252.0 L475.7,252.0 L476.1,251.9 L476.4,251.9 L476.8,251.9 L477.1,251.9 L477.4,251.8 L477.8,251.8 L478.1,251.8 L478.5,251.7 L478.8,251.7 L479.2,251.7 L479.5,251.7 L479.9,251.7 L480.2,251.7 L480.6,251.7 L480.9,251.7"/>
<path d="M382.2,253.7 L383.1,253.7 L384.0,253.7 L384.8,253.6 L385.7,253.6 L386.6,253.5 L387.5,253.5 L388.4,253.4 L389.2,253.3 L390.1,253.2 L391.0,253.1 L391.9,253.0 L392.8,252.9 L393.6,252.8 L394.5,252.7 L395.4,252.6 L396.3,252.5 L397.1,252.4 L398.0,252.3 L398.9,252.3 L399.8,252.2 L400.7,252.2 L401.5,252.1 L402.4,252.1 L403.3,252.1 L404.3,252.1 L405.4,252.1 L406.4,252.2 L407.5,252.2 L408.5,252.3 L409.6,252.3 L410.6,252.4 L411.7,252.5 L412.7,252.6 L413.8,252.7 L414.8,252.8 L415.9,252.9 L416.9,253.0 L417.9,253.1 L419.0,253.2 L420.0,253.3 L421.1,253.4 L422.1,253.5 L423.2,253.5 L424.2,253.6 L425.3,253.6 L426.3,253.7 L427.4,253.7 L428.4,253.7 L429.6,253.8 L430.8,253.9 L432.0,254.0 L433.2,254.1 L434.5,254.2 L435.7,254.3 L436.9,254.4 L438.1,254.5 L439.3,254.6 L440.5,254.6 L441.7,254.6 L442.9,254.7 L444.2,254.7 L445.4,254.7 L446.6,254.6 L447.8,254.6 L449.0,254.5 L450.2,254.5 L451.4,254.4 L452.6,254.3 L453.9,254.2 L455.1,254.1 L456.3,254.0 L457.5,253.9 L458.1,253.9 L458.8,253.9 L459.4,253.9 L460.0,253.8 L460.6,253.8 L461.3,253.8 L461.9,253.8 L462.5,253.8 L463.2,253.7 L463.8,253.7 L464.4,253.7 L465.1,253.6 L465.7,253.6 L466.3,253.6 L466.9,253.6 L467.6,253.5 L468.2,253.5 L468.8,253.5 L469.5,253.5 L470.1,253.5 L470.7,253.4 L471.3,253.4 L472.0,253.4 L472.6,253.4 L472.9,253.4 L473.3,253.4 L473.6,253.4 L474.0,253.4 L474.3,253.4 L474.7,253.4 L475.0,253.3 L475.4,253.3 L475.7,253.3 L476.1,253.3 L476.4,253.2 L476.8,253.2 L477.1,253.2 L477.4,253.1 L477.8,253.1 L478.1,253.1 L478.5,253.1 L478.8,253.0 L479.2,253.0 L479.5,253.0 L479.9,253.0 L480.2,253.0 L480.6,253.0 L480.9,253.0"/>
<path d="M382.2,255.6 L383.1,255.6 L384.0,255.6 L384.8,255.6 L385.7,255.5 L386.6,255.5 L387.5,255.4 L388.4,255.4 L389.2,255.3 L390.1,255.2 L391.0,255.1 L391.9,255.1 L392.8,255.0 L393.6,254.9 L394.5,254.8 L395.4,254.7 L396.3,254.6 L397.1,254.6 L398.0,254.5 L398.9,254.4 L399.8,254.4 L400.7,254.4 L401.5,254.3 L402.4,254.3 L403.3,254.3 L404.3,254.3 L405.4,254.3 L406.4,254.4 L407.5,254.4 L408.5,254.4 L409.6,254.5 L410.6,254.6 L411.7,254.6 L412.7,254.7 L413.8,254.8 L414.8,254.9 L415.9,255.0 L416.9,255.1 L417.9,255.1 L419.0,255.2 L420.0,255.3 L421.1,255.4 L422.1,255.4 L423.2,255.5 L424.2,255.5 L425.3,255.6 L426.3,255.6 L427.4,255.6 L428.4,255.6 L429.6,255.6 L430.8,255.6 L432.0,255.6 L433.2,255.6 L434.5,255.6 L435.7,255.6 L436.9,255.5 L438.1,255.5 L439.3,255.5 L440.5,255.5 L441.7,255.4 L442.9,255.4 L444.2,255.4 L445.4,255.4 L446.6,255.3 L447.8,255.3 L449.0,255.3 L450.2,255.3 L451.4,255.2 L452.6,255.2 L453.9,255.2 L455.1,255.2 L456.3,255.2 L457.5,255.2 L458.1,255.2 L458.8,255.2 L459.4,255.2 L460.0,255.2 L460.6,255.1 L461.3,255.1 L461.9,255.1 L462.5,255.1 L463.2,255.1 L463.8,255.0 L464.4,255.0 L465.1,255.0 L465.7,254.9 L466.3,254.9 L466.9,254.9 L467.6,254.9 L468.2,254.8 L468.8,254.8 L469.5,254.8 L470.1,254.8 L470.7,254.8 L471.3,254.8 L472.0,254.8 L472.6,254.8 L472.9,254.8 L473.3,254.8 L473.6,254.8 L474.0,254.8 L474.3,254.8 L474.7,254.8 L475.0,254.8 L475.4,254.8 L475.7,254.8 L476.1,254.8 L476.4,254.8 L476.8,254.8 L477.1,254.8 L477.4,254.8 L477.8,254.8 L478.1,254.8 L478.5,254.8 L478.8,254.8 L479.2,254.8 L479.5,254.8 L479.9,254.8 L480.2,254.8 L480.6,254.8 L480.9,254.8"/>
<path d="M382.2,257.5 L383.1,257.5 L384.0,257.5 L384.8,257.5 L385.7,257.4 L386.6,257.4 L387.5,257.3 L388.4,257.3 L389.2,257.2 L390.1,257.2 L391.0,257.1 L391.9,257.1 L392.8,257.0 L393.6,256.9 L394.5,256.9 L395.4,256.8 L396.3,256.8 L397.1,256.7 L398.0,256.7 L398.9,256.6 L399.8,256.6 L400.7,256.6 L401.5,256.5 L402.4,256.5 L403.3,256.5 L404.3,256.5 L405.4,256.5 L406.4,256.6 L407.5,256.6 L408.5,256.6 L409.6,256.7 L410.6,256.7 L411.7,256.8 L412.7,256.8 L413.8,256.9 L414.8,256.9 L415.9,257.0 L416.9,257.1 L417.9,257.1 L419.0,257.2 L420.0,257.2 L421.1,257.3 L422.1,257.3 L423.2,257.4 L424.2,257.4 L425.3,257.5 L426.3,257.5 L427.4,257.5 L428.4,257.5 L429.6,257.5 L430.8,257.5 L432.0,257.5 L433.2,257.5 L434.5,257.4 L435.7,257.4 L436.9,257.4 L438.1,257.4 L439.3,257.3 L440.5,257.3 L441.7,257.3 L442.9,257.2 L444.2,257.2 L445.4,257.2 L446.6,257.1 L447.8,257.1 L449.0,257.1 L450.2,257.0 L451.4,257.0 L452.6,257.0 L453.9,257.0 L455.1,257.0 L456.3,257.0 L457.5,257.0 L458.1,257.0 L458.8,257.0 L459.4,256.9 L460.0,256.9 L460.6,256.9 L461.3,256.9 L461.9,256.9 L462.5,256.8 L463.2,256.8 L463.8,256.8 L464.4,256.8 L465.1,256.7 L465.7,256.7 L466.3,256.7 L466.9,256.7 L467.6,256.6 L468.2,256.6 L468.8,256.6 L469.5,256.6 L470.1,256.5 L470.7,256.5 L471.3,256.5 L472.0,256.5 L472.6,256.5 L472.9,256.5 L473.3,256.5 L473.6,256.5 L474.0,256.5 L474.3,256.5 L474.7,256.5 L475.0,256.5 L475.4,256.5 L475.7,256.5 L476.1,256.5 L476.4,256.5 L476.8,256.5 L477.1,256.5 L477.4,256.5 L477.8,256.5 L478.1,256.5 L478.5,256.5 L478.8,256.5 L479.2,256.5 L479.5,256.5 L479.9,256.5 L480.2,256.5 L480.6,256.5 L480.9,256.5"/>
<path d="M382.2,259.6 L383.1,259.6 L384.0,259.6 L384.8,259.6 L385.7,259.7 L386.6,259.7 L387.5,259.7 L388.4,259.8 L389.2,259.8 L390.1,259.9 L391.0,259.9 L391.9,260.0 L392.8,260.0 L393.6,260.1 L394.5,260.2 L395.4,260.2 L396.3,260.3 L397.1,260.3 L398.0,260.4 L398.9,260.4 L399.8,260.4 L400.7,260.5 L401.5,260.5 L402.4,260.5 L403.3,260.5 L404.3,260.5 L405.4,260.5 L406.4,260.4 L407.5,260.3 L408.5,260.3 L409.6,260.2 L410.6,260.1 L411.7,259.9 L412.7,259.8 L413.8,259.7 L414.8,259.5 L415.9,259.4 L416.9,259.2 L417.9,259.1 L419.0,259.0 L420.0,258.8 L421.1,258.7 L422.1,258.6 L423.2,258.5 L424.2,258.4 L425.3,258.4 L426.3,258.3 L427.4,258.3 L428.4,258.3 L429.6,258.3 L430.8,258.3 L432.0,258.3 L433.2,258.3 L434.5,258.4 L435.7,258.4 L436.9,258.5 L438.1,258.5 L439.3,258.6 L440.5,258.6 L441.7,258.7 L442.9,258.7 L444.2,258.8 L445.4,258.8 L446.6,258.9 L447.8,258.9 L449.0,259.0 L450.2,259.0 L451.4,259.1 L452.6,259.1 L453.9,259.1 L455.1,259.2 L456.3,259.2 L457.5,259.2 L458.1,259.2 L458.8,259.2 L459.4,259.2 L460.0,259.2 L460.6,259.2 L461.3,259.2 L461.9,259.3 L462.5,259.3 L463.2,259.3 L463.8,259.3 L464.4,259.4 L465.1,259.4 L465.7,259.4 L466.3,259.4 L466.9,259.5 L467.6,259.5 L468.2,259.5 L468.8,259.5 L469.5,259.6 L470.1,259.6 L470.7,259.6 L471.3,259.6 L472.0,259.6 L472.6,259.6 L472.9,259.6 L473.3,259.6 L473.6,259.6 L474.0,259.5 L474.3,259.5 L474.7,259.5 L475.0,259.4 L475.4,259.4 L475.7,259.3 L476.1,259.3 L476.4,259.2 L476.8,259.2 L477.1,259.1 L477.4,259.1 L477.8,259.0 L478.1,258.9 L478.5,258.9 L478.8,258.9 L479.2,258.8 L479.5,258.8 L479.9,258.8 L480.2,258.7 L480.6,258.7 L480.9,258.7"/>
<path d="M382.2,261.4 L383.1,261.4 L384.0,261.4 L384.8,261.4 L385.7,261.4 L386.6,261.5 L387.5,261.5 L388.4,261.5 L389.2,261.6 L390.1,261.6 L391.0,261.7 L391.9,261.8 L392.8,261.8 L393.6,261.9 L394.5,261.9 L395.4,262.0 L396.3,262.0 L397.1,262.1 L398.0,262.1 L398.9,262.2 L399.8,262.2 L400.7,262.2 L401.5,262.2 L402.4,262.3 L403.3,262.3 L404.3,262.3 L405.4,262.4 L406.4,262.5 L407.5,262.7 L408.5,262.9 L409.6,263.2 L410.6,263.5 L411.7,263.8 L412.7,264.2 L413.8,264.5 L414.8,264.9 L415.9,265.3 L416.9,265.7 L417.9,266.1 L419.0,266.5 L420.0,266.9 L421.1,267.2 L422.1,267.5 L423.2,267.8 L424.2,268.0 L425.3,268.2 L426.3,268.3 L427.4,268.4 L428.4,268.4 L429.6,268.4 L430.8,268.3 L432.0,268.2 L433.2,268.1 L434.5,267.9 L435.7,267.7 L436.9,267.4 L438.1,267.1 L439.3,266.8 L440.5,266.5 L441.7,266.1 L442.9,265.8 L444.2,265.4 L445.4,265.1 L446.6,264.8 L447.8,264.5 L449.0,264.2 L450.2,263.9 L451.4,263.7 L452.6,263.5 L453.9,263.3 L455.1,263.2 L456.3,263.2 L457.5,263.1 L458.1,263.1 L458.8,263.1 L459.4,263.1 L460.0,263.1 L460.6,263.0 L461.3,262.9 L461.9,262.9 L462.5,262.8 L463.2,262.7 L463.8,262.6 L464.4,262.6 L465.1,262.5 L465.7,262.4 L466.3,262.3 L466.9,262.2 L467.6,262.1 L468.2,262.1 L468.8,262.0 L469.5,262.0 L470.1,261.9 L470.7,261.9 L471.3,261.8 L472.0,261.8 L472.6,261.8 L472.9,261.8 L473.3,261.8 L473.6,261.8 L474.0,261.8 L474.3,261.8 L474.7,261.7 L475.0,261.7 L475.4,261.7 L475.7,261.7 L476.1,261.7 L476.4,261.6 L476.8,261.6 L477.1,261.6 L477.4,261.5 L477.8,261.5 L478.1,261.5 L478.5,261.5 L478.8,261.4 L479.2,261.4 L479.5,261.4 L479.9,261.4 L480.2,261.4 L480.6,261.4 L480.9,261.4"/>
<path d="M382.2,265.2 L383.1,265.2 L384.0,265.1 L384.8,265.1 L385.7,265.0 L386.6,264.9 L387.5,264.7 L388.4,264.6 L389.2,264.4 L390.1,264.3 L391.0,264.1 L391.9,263.9 L392.8,263.7 L393.6,263.5 L394.5,263.3 L395.4,263.2 L396.3,263.0 L397.1,262.8 L398.0,262.7 L398.9,262.6 L399.8,262.5 L400.7,262.4 L401.5,262.3 L402.4,262.3 L403.3,262.3 L404.3,262.3 L405.4,262.2 L406.4,262.2 L407.5,262.2 L408.5,262.1 L409.6,262.1 L410.6,262.0 L411.7,261.9 L412.7,261.8 L413.8,261.8 L414.8,261.7 L415.9,261.6 L416.9,261.5 L417.9,261.4 L419.0,261.3 L420.0,261.3 L421.1,261.2 L422.1,261.1 L423.2,261.1 L424.2,261.0 L425.3,261.0 L426.3,261.0 L427.4,260.9 L428.4,260.9 L429.6,260.9 L430.8,261.0 L432.0,261.1 L433.2,261.2 L434.5,261.3 L435.7,261.5 L436.9,261.7 L438.1,261.9 L439.3,262.2 L440.5,262.4 L441.7,262.7 L442.9,262.9 L444.2,263.2 L445.4,263.4 L446.6,263.7 L447.8,263.9 L449.0,264.1 L450.2,264.3 L451.4,264.5 L452.6,264.6 L453.9,264.8 L455.1,264.8 L456.3,264.9 L457.5,264.9 L458.1,264.9 L458.8,264.9 L459.4,264.9 L460.0,264.9 L460.6,264.9 L461.3,264.8 L461.9,264.8 L462.5,264.8 L463.2,264.8 L463.8,264.7 L464.4,264.7 L465.1,264.7 L465.7,264.7 L466.3,264.6 L466.9,264.6 L467.6,264.6 L468.2,264.5 L468.8,264.5 L469.5,264.5 L470.1,264.5 L470.7,264.5 L471.3,264.5 L472.0,264.5 L472.6,264.5 L472.9,264.5 L473.3,264.5 L473.6,264.4 L474.0,264.4 L474.3,264.4 L474.7,264.4 L475.0,264.4 L475.4,264.4 L475.7,264.3 L476.1,264.3 L476.4,264.3 L476.8,264.2 L477.1,264.2 L477.4,264.2 L477.8,264.2 L478.1,264.1 L478.5,264.1 L478.8,264.1 L479.2,264.1 L479.5,264.1 L479.9,264.0 L480.2,264.0 L480.6,264.0 L480.9,264.0"/>
<path d="M382.2,267.6 L383.1,267.5 L384.0,267.5 L384.8,267.4 L385.7,267.3 L386.6,267.1 L387.5,266.9 L388.4,266.7 L389.2,266.5 L390.1,266.2 L391.0,265.9 L391.9,265.6 L392.8,265.3 L393.6,265.1 L394.5,264.8 L395.4,264.5 L396.3,264.2 L397.1,264.0 L398.0,263.8 L398.9,263.6 L399.8,263.4 L400.7,263.3 L401.5,263.2 L402.4,263.2 L403.3,263.1 L404.3,263.1 L405.4,263.1 L406.4,263.1 L407.5,263.1 L408.5,263.1 L409.6,263.1 L410.6,263.1 L411.7,263.1 L412.7,263.1 L413.8,263.1 L414.8,263.1 L415.9,263.1 L416.9,263.1 L417.9,263.1 L419.0,263.1 L420.0,263.1 L421.1,263.1 L422.1,263.1 L423.2,263.1 L424.2,263.1 L425.3,263.1 L426.3,263.1 L427.4,263.1 L428.4,263.1 L429.6,263.2 L430.8,263.2 L432.0,263.2 L433.2,263.3 L434.5,263.4 L435.7,263.5 L436.9,263.7 L438.1,263.8 L439.3,264.0 L440.5,264.1 L441.7,264.3 L442.9,264.5 L444.2,264.6 L445.4,264.8 L446.6,265.0 L447.8,265.1 L449.0,265.3 L450.2,265.4 L451.4,265.5 L452.6,265.6 L453.9,265.7 L455.1,265.7 L456.3,265.8 L457.5,265.8 L458.1,265.8 L458.8,265.8 L459.4,265.8 L460.0,265.8 L460.6,265.9 L461.3,265.9 L461.9,266.0 L462.5,266.0 L463.2,266.1 L463.8,266.1 L464.4,266.2 L465.1,266.2 L465.7,266.3 L466.3,266.3 L466.9,266.4 L467.6,266.5 L468.2,266.5 L468.8,266.5 L469.5,266.6 L470.1,266.6 L470.7,266.6 L471.3,266.7 L472.0,266.7 L472.6,266.7 L472.9,266.7 L473.3,266.7 L473.6,266.7 L474.0,266.6 L474.3,266.6 L474.7,266.6 L475.0,266.6 L475.4,266.6 L475.7,266.5 L476.1,266.5 L476.4,266.5 L476.8,266.5 L477.1,266.4 L477.4,266.4 L477.8,266.4 L478.1,266.3 L478.5,266.3 L478.8,266.3 L479.2,266.3 L479.5,266.3 L479.9,266.2 L480.2,266.2 L480.6,266.2 L480.9,266.2"/>
<path d="M382.2,270.8 L383.1,270.8 L384.0,270.9 L384.8,271.0 L385.7,271.2 L386.6,271.4 L387.5,271.6 L388.4,271.9 L389.2,272.2 L390.1,272.5 L391.0,272.9 L391.9,273.2 L392.8,273.6 L393.6,274.0 L394.5,274.3 L395.4,274.7 L396.3,275.0 L397.1,275.3 L398.0,275.6 L398.9,275.8 L399.8,276.0 L400.7,276.2 L401.5,276.3 L402.4,276.4 L403.3,276.4 L404.3,276.4 L405.4,276.4 L406.4,276.3 L407.5,276.3 L408.5,276.2 L409.6,276.1 L410.6,276.0 L411.7,275.9 L412.7,275.8 L413.8,275.7 L414.8,275.6 L415.9,275.5 L416.9,275.4 L417.9,275.3 L419.0,275.2 L420.0,275.1 L421.1,275.0 L422.1,274.9 L423.2,274.8 L424.2,274.7 L425.3,274.7 L426.3,274.6 L427.4,274.6 L428.4,274.6 L429.6,274.6 L430.8,274.6 L432.0,274.5 L433.2,274.4 L434.5,274.3 L435.7,274.1 L436.9,273.9 L438.1,273.7 L439.3,273.5 L440.5,273.3 L441.7,273.1 L442.9,272.9 L444.2,272.6 L445.4,272.4 L446.6,272.2 L447.8,272.0 L449.0,271.8 L450.2,271.6 L451.4,271.5 L452.6,271.3 L453.9,271.2 L455.1,271.1 L456.3,271.1 L457.5,271.1 L458.1,271.1 L458.8,271.1 L459.4,271.1 L460.0,271.1 L460.6,271.2 L461.3,271.2 L461.9,271.3 L462.5,271.3 L463.2,271.4 L463.8,271.4 L464.4,271.5 L465.1,271.5 L465.7,271.6 L466.3,271.6 L466.9,271.7 L467.6,271.7 L468.2,271.8 L468.8,271.8 L469.5,271.9 L470.1,271.9 L470.7,271.9 L471.3,272.0 L472.0,272.0 L472.6,272.0 L472.9,272.0 L473.3,272.0 L473.6,272.0 L474.0,272.0 L474.3,272.1 L474.7,272.1 L475.0,272.1 L475.4,272.2 L475.7,272.2 L476.1,272.3 L476.4,272.4 L476.8,272.4 L477.1,272.5 L477.4,272.5 L477.8,272.6 L478.1,272.6 L478.5,272.7 L478.8,272.7 L479.2,272.8 L479.5,272.8 L479.9,272.8 L480.2,272.8 L480.6,272.8 L480.9,272.9"/>
<path d="M382.2,274.6 L383.1,274.6 L384.0,274.7 L384.8,274.8 L385.7,274.9 L386.6,275.1 L387.5,275.3 L388.4,275.6 L389.2,275.8 L390.1,276.1 L391.0,276.4 L391.9,276.7 L392.8,277.0 L393.6,277.3 L394.5,277.6 L395.4,277.9 L396.3,278.2 L397.1,278.5 L398.0,278.7 L398.9,278.9 L399.8,279.1 L400.7,279.2 L401.5,279.3 L402.4,279.4 L403.3,279.4 L404.3,279.4 L405.4,279.3 L406.4,279.1 L407.5,278.9 L408.5,278.6 L409.6,278.3 L410.6,277.9 L411.7,277.5 L412.7,277.1 L413.8,276.6 L414.8,276.2 L415.9,275.7 L416.9,275.2 L417.9,274.7 L419.0,274.3 L420.0,273.8 L421.1,273.4 L422.1,273.1 L423.2,272.7 L424.2,272.5 L425.3,272.3 L426.3,272.1 L427.4,272.0 L428.4,272.0 L429.6,272.0 L430.8,272.0 L432.0,272.0 L433.2,272.0 L434.5,272.1 L435.7,272.1 L436.9,272.1 L438.1,272.2 L439.3,272.2 L440.5,272.3 L441.7,272.4 L442.9,272.4 L444.2,272.5 L445.4,272.5 L446.6,272.6 L447.8,272.6 L449.0,272.7 L450.2,272.7 L451.4,272.8 L452.6,272.8 L453.9,272.8 L455.1,272.8 L456.3,272.8 L457.5,272.9 L458.1,272.9 L458.8,272.9 L459.4,272.9 L460.0,273.0 L460.6,273.0 L461.3,273.1 L461.9,273.2 L462.5,273.3 L463.2,273.4 L463.8,273.5 L464.4,273.6 L465.1,273.7 L465.7,273.9 L466.3,274.0 L466.9,274.1 L467.6,274.2 L468.2,274.3 L468.8,274.4 L469.5,274.4 L470.1,274.5 L470.7,274.6 L471.3,274.6 L472.0,274.6 L472.6,274.6 L472.9,274.6 L473.3,274.6 L473.6,274.7 L474.0,274.7 L474.3,274.7 L474.7,274.7 L475.0,274.8 L475.4,274.8 L475.7,274.9 L476.1,274.9 L476.4,275.0 L476.8,275.1 L477.1,275.1 L477.4,275.2 L477.8,275.2 L478.1,275.3 L478.5,275.3 L478.8,275.4 L479.2,275.4 L479.5,275.4 L479.9,275.5 L480.2,275.5 L480.6,275.5 L480.9,275.5"/>
</g>
<g clip-path="url(#dpf)">
<polygon points="480.9,181.0 491.0,181.0 492.0,181.2 492.9,181.4 493.5,181.6 493.8,181.8 493.9,182.1 493.7,182.3 493.2,182.5 492.4,182.7 491.5,182.9 490.4,183.1 489.2,183.3 488.0,183.5 486.9,183.8 485.8,184.0 484.8,184.2 484.0,184.4 483.3,184.6 482.7,184.8 482.2,185.0 481.8,185.2 481.6,185.5 481.3,185.7 481.2,185.9 481.1,186.1 481.0,186.3 481.0,186.5 480.9,186.7 480.9,186.9 480.9,187.2 480.9,187.4 480.9,187.6 480.9,187.8 480.9,188.0 480.9,188.2 480.9,188.4 480.9,188.6 480.9,188.9 480.9,189.1 480.9,189.3 480.9,189.5 480.9,189.7 480.9,189.9 480.9,190.1 480.9,190.3 480.9,190.6 480.9,190.8 480.9,191.0 480.9,191.2 480.9,191.4 480.9,191.6 480.9,191.8 480.9,192.0 480.9,192.2 480.9,192.5 480.9,192.7 480.9,192.9 480.9,193.1 480.9,193.3 480.9,193.5 480.9,193.7 480.9,193.9 480.9,194.2 480.9,194.4 480.9,194.6 480.9,194.8 480.9,195.0 480.9,195.2 480.9,195.4 480.9,195.6 480.9,195.9 480.9,196.1 480.9,196.3 480.9,196.5 480.9,196.7 480.9,196.9 480.9,197.1 480.9,197.3 480.9,197.6 480.9,197.8 480.9,198.0 480.9,198.2 480.9,198.4 480.9,198.6 480.9,198.8 480.9,199.0 480.9,199.3 480.9,199.5 480.9,199.7 480.9,199.9 480.9,200.1 480.9,200.3 480.9,200.5 480.9,200.7 480.9,200.9 480.9,201.2 480.9,201.4 480.9,201.6 480.9,201.8 480.9,202.0 480.9,202.2 480.9,202.4 481.0,202.6 481.0,202.9 481.0,203.1 481.1,203.3 481.2,203.5 481.3,203.7 481.5,203.9 481.7,204.1 481.9,204.3 482.2,204.6 482.6,204.8 483.1,205.0 483.6,205.2 484.1,205.4 484.6,205.6 485.2,205.8 485.7,206.0 486.1,206.3 486.5,206.5 486.7,206.7 486.9,206.9 486.9,207.1 486.8,207.3 486.5,207.5 486.1,207.7 485.7,208.0 485.2,208.2 484.6,208.4 484.1,208.6 483.6,208.8 483.1,209.0 482.7,209.2 483.1,209.4 483.4,209.7 483.8,209.9 484.1,210.1 484.4,210.3 484.7,210.5 484.8,210.7 484.9,210.9 484.9,211.1 484.8,211.3 484.6,211.6 484.3,211.8 484.0,212.0 483.7,212.2 483.3,212.4 483.0,212.6 482.6,212.8 482.3,213.0 482.0,213.3 481.8,213.5 481.6,213.7 481.4,213.9 481.3,214.1 481.2,214.3 481.1,214.5 481.0,214.7 481.0,215.0 481.0,215.2 480.9,215.4 480.9,215.6 480.9,215.8 480.9,216.0 480.9,216.2 480.9,216.4 480.9,216.7 480.9,216.9 480.9,217.1 480.9,217.3 480.9,217.5 480.9,217.7 480.9,217.9 480.9,218.1 480.9,218.4 480.9,218.6 480.9,218.8 480.9,219.0 480.9,219.2 480.9,219.4 480.9,219.6 480.9,219.8 480.9,220.0 480.9,220.3 480.9,220.5 480.9,220.7 480.9,220.9 480.9,221.1 480.9,221.3 480.9,221.5 480.9,221.7 480.9,222.0 480.9,222.2 480.9,222.4 480.9,222.6 480.9,222.8 480.9,223.0 480.9,223.2 480.9,223.4 480.9,223.7 480.9,223.9 480.9,224.1 480.9,224.3 480.9,224.5 480.9,224.7 480.9,224.9 480.9,225.1 480.9,225.4 480.9,225.6 480.9,225.8 480.9,226.0 480.9,226.2 480.9,226.4 480.9,226.6 480.9,226.8 480.9,227.1 480.9,227.3 480.9,227.5 480.9,227.7 480.9,227.9 480.9,228.1 480.9,228.3 480.9,228.5 480.9,228.8 480.9,229.0 480.9,229.2 480.9,229.4 480.9,229.6 480.9,229.8 480.9,230.0 480.9,230.2 480.9,230.4 480.9,230.7 480.9,230.9 480.9,231.1 480.9,231.3 480.9,231.5 480.9,231.7 480.9,231.9 480.9,232.1 480.9,232.4 481.0,232.6 481.0,232.8 481.0,233.0 481.1,233.2 481.2,233.4 481.3,233.6 481.5,233.8 481.8,234.1 482.2,234.3 482.7,234.5 483.2,234.7 483.8,234.9 484.4,235.1 485.0,235.3 485.5,235.5 485.8,235.8 485.9,236.0 485.8,236.2 485.6,236.4 485.2,236.6 484.6,236.8 484.1,237.0 484.4,237.2 484.7,237.5 485.0,237.7 485.2,237.9 485.5,238.1 485.6,238.3 485.8,238.5 485.9,238.7 485.9,238.9 485.9,239.1 485.8,239.4 485.7,239.6 485.6,239.8 485.4,240.0 485.1,240.2 485.2,240.4 485.6,240.6 485.8,240.8 485.9,241.1 485.7,241.3 485.4,241.5 484.9,241.7 484.4,241.9 483.8,242.1 483.2,242.3 482.6,242.5 482.2,242.8 481.8,243.0 481.6,243.2 481.5,243.4 481.8,243.6 482.3,243.8 483.0,244.0 483.9,244.2 485.1,244.5 486.3,244.7 487.8,244.9 489.2,245.1 490.6,245.3 491.7,245.5 492.5,245.7 492.9,245.9 492.8,246.2 492.2,246.4 491.2,246.6 490.0,246.8 488.6,247.0 487.1,247.2 487.2,247.4 489.2,247.6 491.5,247.9 493.8,248.1 495.9,248.3 497.8,248.5 499.2,248.7 499.8,248.9 499.8,249.1 499.0,249.3 497.5,249.5 495.6,249.8 493.4,250.0 491.1,250.2 488.9,250.4 492.0,250.6 502.8,250.8 516.9,251.0 530.0,251.2 536.7,251.5 533.7,251.7 522.4,251.9 511.8,252.1 524.6,252.3 532.2,252.5 531.1,252.7 521.7,252.9 510.3,253.2 517.7,253.4 520.9,253.6 518.6,253.8 511.8,254.0 506.0,254.2 509.5,254.4 512.1,254.6 513.6,254.9 513.8,255.1 512.8,255.3 510.5,255.5 507.4,255.7 503.6,255.9 499.7,256.1 495.8,256.3 497.7,256.6 500.6,256.8 503.0,257.0 504.8,257.2 505.8,257.4 505.8,257.6 504.8,257.8 502.9,258.0 500.4,258.2 497.5,258.5 494.4,258.7 491.5,258.9 489.3,259.1 490.6,259.3 491.7,259.5 492.5,259.7 492.9,259.9 492.8,260.2 492.2,260.4 491.2,260.6 490.0,260.8 488.5,261.0 487.1,261.2 485.7,261.4 484.5,261.6 483.5,261.9 482.7,262.1 482.1,262.3 481.7,262.5 481.4,262.7 481.7,262.9 483.1,263.1 486.1,263.3 491.3,263.6 499.1,263.8 508.4,264.0 517.1,264.2 522.3,264.4 522.0,264.6 516.4,264.8 507.5,265.0 498.2,265.3 499.7,265.5 503.4,265.7 505.6,265.9 505.6,266.1 503.5,266.3 499.8,266.5 495.4,266.7 491.0,267.0 487.4,267.2 484.7,267.4 484.8,267.6 486.4,267.8 488.0,268.0 489.2,268.2 489.9,268.4 489.7,268.6 488.8,268.9 487.4,269.1 485.8,269.3 484.2,269.5 483.0,269.7 482.1,269.9 481.5,270.1 481.2,270.3 481.0,270.6 481.0,270.8 480.9,271.0 480.9,271.2 480.9,271.4 480.9,271.6 480.9,271.8 480.9,272.0 480.9,272.3 480.9,272.5 480.9,272.7 480.9,272.9 481.0,273.1 481.1,273.3 481.3,273.5 481.7,273.7 482.6,274.0 483.9,274.2 486.0,274.4 488.8,274.6 492.0,274.8 495.1,275.0 497.6,275.2 498.8,275.4 498.5,275.7 496.7,275.9 493.8,276.1 490.6,276.3 487.5,276.5 488.4,276.7 491.0,276.9 493.2,277.1 494.6,277.3 494.8,277.6 493.9,277.8 491.9,278.0 489.5,278.2 487.0,278.4 484.9,278.6 486.0,278.8 487.4,279.0 488.5,279.3 488.9,279.5 488.6,279.7 487.7,279.9 486.4,280.1 485.0,280.3 483.7,280.5 482.6,280.7 481.9,281.0 481.4,281.2 481.1,281.4 481.0,281.6 480.9,281.8 480.9,282.0 480.9,282.2 480.9,282.4 480.9,282.7 480.9,282.9 480.9,283.1 480.9,283.3 480.9,283.5 480.9,283.7 480.9,283.9 480.9,284.1 480.9,284.4 480.9,284.6 480.9,284.8 480.9,285.0 480.9,285.2 480.9,285.4 480.9,285.6 480.9,285.8 480.9,286.1 480.9,286.3 480.9,286.5 480.9,286.7 480.9,286.9 480.9,286.9" fill="#f9c08e" stroke="#e0a070" stroke-width="0.3"/>
<polygon points="480.9,181.0 482.0,181.0 482.5,181.2 483.1,181.4 483.5,181.6 483.8,181.8 483.9,182.1 483.7,182.3 483.3,182.5 482.7,182.7 482.2,182.9 481.8,183.1 481.4,183.3 481.2,183.5 481.0,183.8 481.0,184.0 480.9,184.2 480.9,184.4 480.9,184.6 480.9,184.8 480.9,185.0 480.9,185.2 480.9,185.5 480.9,185.7 480.9,185.9 480.9,186.1 480.9,186.3 480.9,186.5 480.9,186.7 480.9,186.9 480.9,187.2 480.9,187.4 480.9,187.6 480.9,187.8 480.9,188.0 480.9,188.2 480.9,188.4 480.9,188.6 480.9,188.9 480.9,189.1 480.9,189.3 480.9,189.5 480.9,189.7 480.9,189.9 480.9,190.1 480.9,190.3 480.9,190.6 480.9,190.8 480.9,191.0 480.9,191.2 480.9,191.4 480.9,191.6 480.9,191.8 480.9,192.0 480.9,192.2 480.9,192.5 480.9,192.7 480.9,192.9 480.9,193.1 480.9,193.3 480.9,193.5 480.9,193.7 480.9,193.9 480.9,194.2 480.9,194.4 480.9,194.6 480.9,194.8 480.9,195.0 480.9,195.2 480.9,195.4 480.9,195.6 480.9,195.9 480.9,196.1 480.9,196.3 480.9,196.5 480.9,196.7 480.9,196.9 480.9,197.1 480.9,197.3 480.9,197.6 480.9,197.8 480.9,198.0 480.9,198.2 480.9,198.4 480.9,198.6 480.9,198.8 480.9,199.0 480.9,199.3 480.9,199.5 480.9,199.7 480.9,199.9 480.9,200.1 480.9,200.3 480.9,200.5 480.9,200.7 480.9,200.9 480.9,201.2 480.9,201.4 480.9,201.6 480.9,201.8 480.9,202.0 480.9,202.2 480.9,202.4 480.9,202.6 481.0,202.9 481.0,203.1 481.0,203.3 481.1,203.5 481.2,203.7 481.3,203.9 481.4,204.1 481.6,204.3 481.8,204.6 482.1,204.8 482.3,205.0 482.7,205.2 483.0,205.4 483.4,205.6 483.7,205.8 484.1,206.0 484.4,206.3 484.6,206.5 484.8,206.7 484.9,206.9 484.9,207.1 484.8,207.3 484.6,207.5 484.4,207.7 484.1,208.0 483.7,208.2 483.4,208.4 483.0,208.6 482.7,208.8 482.4,209.0 482.3,209.2 482.5,209.4 482.8,209.7 483.1,209.9 483.3,210.1 483.5,210.3 483.7,210.5 483.8,210.7 483.9,210.9 483.9,211.1 483.8,211.3 483.7,211.6 483.5,211.8 483.3,212.0 483.0,212.2 482.7,212.4 482.5,212.6 482.2,212.8 482.0,213.0 481.7,213.3 481.6,213.5 481.4,213.7 481.3,213.9 481.2,214.1 481.1,214.3 481.0,214.5 481.0,214.7 481.0,215.0 480.9,215.2 480.9,215.4 480.9,215.6 480.9,215.8 480.9,216.0 480.9,216.2 480.9,216.4 480.9,216.7 480.9,216.9 480.9,217.1 480.9,217.3 480.9,217.5 480.9,217.7 480.9,217.9 480.9,218.1 480.9,218.4 480.9,218.6 480.9,218.8 480.9,219.0 480.9,219.2 480.9,219.4 480.9,219.6 480.9,219.8 480.9,220.0 480.9,220.3 480.9,220.5 480.9,220.7 480.9,220.9 480.9,221.1 480.9,221.3 480.9,221.5 480.9,221.7 480.9,222.0 480.9,222.2 480.9,222.4 480.9,222.6 480.9,222.8 480.9,223.0 480.9,223.2 480.9,223.4 480.9,223.7 480.9,223.9 480.9,224.1 480.9,224.3 480.9,224.5 480.9,224.7 480.9,224.9 480.9,225.1 480.9,225.4 480.9,225.6 480.9,225.8 480.9,226.0 480.9,226.2 480.9,226.4 480.9,226.6 480.9,226.8 480.9,227.1 480.9,227.3 480.9,227.5 480.9,227.7 480.9,227.9 480.9,228.1 480.9,228.3 480.9,228.5 480.9,228.8 480.9,229.0 480.9,229.2 480.9,229.4 480.9,229.6 480.9,229.8 480.9,230.0 480.9,230.2 480.9,230.4 480.9,230.7 480.9,230.9 480.9,231.1 480.9,231.3 480.9,231.5 480.9,231.7 480.9,231.9 480.9,232.1 480.9,232.4 480.9,232.6 480.9,232.8 480.9,233.0 481.0,233.2 481.0,233.4 481.1,233.6 481.2,233.8 481.3,234.1 481.4,234.3 481.6,234.5 481.8,234.7 482.1,234.9 482.3,235.1 482.5,235.3 482.7,235.5 482.8,235.8 482.9,236.0 482.9,236.2 482.8,236.4 482.6,236.6 482.4,236.8 482.2,237.0 481.9,237.2 481.7,237.5 481.5,237.7 481.3,237.9 481.2,238.1 481.1,238.3 481.1,238.5 481.2,238.7 481.4,238.9 481.6,239.1 481.8,239.4 482.1,239.6 482.5,239.8 482.8,240.0 483.2,240.2 483.5,240.4 483.7,240.6 483.9,240.8 483.9,241.1 483.8,241.3 483.6,241.5 483.3,241.7 483.0,241.9 482.6,242.1 482.3,242.3 482.0,242.5 482.4,242.8 482.9,243.0 483.5,243.2 484.2,243.4 485.0,243.6 485.8,243.8 486.7,244.0 487.6,244.2 488.5,244.5 489.3,244.7 490.0,244.9 490.5,245.1 490.8,245.3 490.9,245.5 490.8,245.7 490.4,245.9 489.9,246.2 489.2,246.4 488.4,246.6 487.5,246.8 486.6,247.0 488.1,247.2 489.9,247.4 491.7,247.6 493.3,247.9 494.7,248.1 495.6,248.3 495.9,248.5 495.6,248.7 494.8,248.9 493.5,249.1 491.9,249.3 490.1,249.5 488.3,249.8 490.5,250.0 493.5,250.2 496.4,250.4 498.9,250.6 500.5,250.8 500.9,251.0 500.1,251.2 506.9,251.5 515.3,251.7 516.2,251.9 509.2,252.1 501.4,252.3 507.4,252.5 510.7,252.7 509.9,252.9 505.5,253.2 499.0,253.4 493.3,253.6 495.3,253.8 497.0,254.0 498.3,254.2 498.9,254.4 498.7,254.6 497.9,254.9 496.5,255.1 494.6,255.3 492.5,255.5 490.4,255.7 489.8,255.9 491.6,256.1 493.3,256.3 494.6,256.6 495.5,256.8 495.9,257.0 495.7,257.2 494.9,257.4 493.6,257.6 492.0,257.8 490.2,258.0 488.4,258.2 486.7,258.5 485.9,258.7 487.2,258.9 488.6,259.1 489.8,259.3 490.8,259.5 491.6,259.7 491.9,259.9 491.8,260.2 491.2,260.4 490.4,260.6 489.2,260.8 487.9,261.0 486.6,261.2 485.3,261.4 484.3,261.6 485.5,261.9 486.7,262.1 487.6,262.3 487.9,262.5 487.6,262.7 486.8,262.9 485.6,263.1 484.3,263.3 483.2,263.6 483.9,263.8 486.5,264.0 489.9,264.2 493.4,264.4 496.1,264.6 496.9,264.8 495.5,265.0 492.5,265.3 488.9,265.5 488.5,265.7 490.0,265.9 490.8,266.1 490.8,266.3 489.9,266.5 488.4,266.7 486.6,267.0 484.9,267.2 483.4,267.4 483.1,267.6 484.0,267.8 484.8,268.0 485.5,268.2 485.9,268.4 485.8,268.6 485.3,268.9 484.5,269.1 483.6,269.3 482.7,269.5 482.1,269.7 481.6,269.9 481.2,270.1 481.1,270.3 481.0,270.6 480.9,270.8 480.9,271.0 480.9,271.2 480.9,271.4 480.9,271.6 480.9,271.8 480.9,272.0 480.9,272.3 480.9,272.5 480.9,272.7 481.0,272.9 481.1,273.1 481.3,273.3 481.6,273.5 482.1,273.7 482.8,274.0 483.8,274.2 485.1,274.4 486.5,274.6 488.0,274.8 489.4,275.0 490.4,275.2 490.9,275.4 490.7,275.7 490.0,275.9 488.8,276.1 487.4,276.3 485.9,276.5 486.1,276.7 487.3,276.9 488.2,277.1 488.8,277.3 488.9,277.6 488.5,277.8 487.7,278.0 486.6,278.2 485.4,278.4 484.2,278.6 484.1,278.8 485.0,279.0 485.6,279.3 485.9,279.5 485.7,279.7 485.2,279.9 484.4,280.1 483.4,280.3 482.6,280.5 482.0,280.7 481.5,281.0 481.2,281.2 481.0,281.4 481.0,281.6 480.9,281.8 480.9,282.0 480.9,282.2 480.9,282.4 480.9,282.7 480.9,282.9 480.9,283.1 480.9,283.3 480.9,283.5 480.9,283.7 480.9,283.9 480.9,284.1 480.9,284.4 480.9,284.6 480.9,284.8 480.9,285.0 480.9,285.2 480.9,285.4 480.9,285.6 480.9,285.8 480.9,286.1 480.9,286.3 480.9,286.5 480.9,286.7 480.9,286.9 480.9,286.9" fill="#7fb2f0" stroke="#6a9ad8" stroke-width="0.3"/>
</g>
<rect x="382.2" y="181.0" width="160.7" height="105.89999999999998" fill="none" stroke="#333" stroke-width="1"/>
<line x1="480.9" y1="181.0" x2="480.9" y2="286.9" stroke="#111" stroke-width="1.3"/>
<line x1="481.9" y1="181.0" x2="481.9" y2="286.9" stroke="#f0a040" stroke-width="0.6"/>
<line x1="382.2" y1="181.0" x2="383.7" y2="181.0" stroke="#333" stroke-width="0.6"/>
<text x="380" y="182.5" font-family='"Liberation Sans", sans-serif' font-size="4.4" fill="#444" text-anchor="end">6</text>
<line x1="382.2" y1="198.7" x2="383.7" y2="198.7" stroke="#333" stroke-width="0.6"/>
<text x="380" y="200.2" font-family='"Liberation Sans", sans-serif' font-size="4.4" fill="#444" text-anchor="end">4</text>
<line x1="382.2" y1="216.3" x2="383.7" y2="216.3" stroke="#333" stroke-width="0.6"/>
<text x="380" y="217.8" font-family='"Liberation Sans", sans-serif' font-size="4.4" fill="#444" text-anchor="end">2</text>
<line x1="382.2" y1="234.0" x2="383.7" y2="234.0" stroke="#333" stroke-width="0.6"/>
<text x="380" y="235.5" font-family='"Liberation Sans", sans-serif' font-size="4.4" fill="#444" text-anchor="end">0</text>
<line x1="382.2" y1="251.7" x2="383.7" y2="251.7" stroke="#333" stroke-width="0.6"/>
<text x="380" y="253.2" font-family='"Liberation Sans", sans-serif' font-size="4.4" fill="#444" text-anchor="end">-2</text>
<line x1="382.2" y1="269.3" x2="383.7" y2="269.3" stroke="#333" stroke-width="0.6"/>
<text x="380" y="270.8" font-family='"Liberation Sans", sans-serif' font-size="4.4" fill="#444" text-anchor="end">-4</text>
<line x1="382.2" y1="287.0" x2="383.7" y2="287.0" stroke="#333" stroke-width="0.6"/>
<text x="380" y="288.5" font-family='"Liberation Sans", sans-serif' font-size="4.4" fill="#444" text-anchor="end">-6</text>
<line x1="382.2" y1="189.8" x2="383.2" y2="189.8" stroke="#333" stroke-width="0.5"/>
<line x1="382.2" y1="207.5" x2="383.2" y2="207.5" stroke="#333" stroke-width="0.5"/>
<line x1="382.2" y1="225.2" x2="383.2" y2="225.2" stroke="#333" stroke-width="0.5"/>
<line x1="382.2" y1="242.8" x2="383.2" y2="242.8" stroke="#333" stroke-width="0.5"/>
<line x1="382.2" y1="260.5" x2="383.2" y2="260.5" stroke="#333" stroke-width="0.5"/>
<line x1="382.2" y1="278.1" x2="383.2" y2="278.1" stroke="#333" stroke-width="0.5"/>
<text transform="translate(376.5,232.2) rotate(-90)" font-family='"Liberation Sans", sans-serif' font-size="5" fill="#444" text-anchor="middle">Energy (eV)</text>
<text x="382.2" y="292.8" font-family='"Liberation Sans", sans-serif' font-size="5" fill="#444" text-anchor="middle">W</text>
<text x="403.3" y="292.8" font-family='"Liberation Sans", sans-serif' font-size="5" fill="#444" text-anchor="middle">L</text>
<text x="428.4" y="292.8" font-family='"Liberation Sans", sans-serif' font-size="5" fill="#444" text-anchor="middle">G</text>
<text x="457.5" y="292.8" font-family='"Liberation Sans", sans-serif' font-size="5" fill="#444" text-anchor="middle">X</text>
<text x="472.6" y="292.8" font-family='"Liberation Sans", sans-serif' font-size="5" fill="#444" text-anchor="middle">W</text>
<text x="480.9" y="292.8" font-family='"Liberation Sans", sans-serif' font-size="5" fill="#444" text-anchor="middle">K</text>
<text x="480.9" y="177.7" font-family='"Liberation Sans", sans-serif' font-size="4.8" fill="#333" text-anchor="middle">0</text>
<text x="487.7" y="177.7" font-family='"Liberation Sans", sans-serif' font-size="4.8" fill="#333" text-anchor="middle">5</text>
<line x1="487.7" y1="181.0" x2="487.7" y2="182.3" stroke="#333" stroke-width="0.5"/>
<text x="494.5" y="177.7" font-family='"Liberation Sans", sans-serif' font-size="4.8" fill="#333" text-anchor="middle">10</text>
<line x1="494.5" y1="181.0" x2="494.5" y2="182.3" stroke="#333" stroke-width="0.5"/>
<text x="501.3" y="177.7" font-family='"Liberation Sans", sans-serif' font-size="4.8" fill="#333" text-anchor="middle">15</text>
<line x1="501.3" y1="181.0" x2="501.3" y2="182.3" stroke="#333" stroke-width="0.5"/>
<text x="508.1" y="177.7" font-family='"Liberation Sans", sans-serif' font-size="4.8" fill="#333" text-anchor="middle">20</text>
<line x1="508.1" y1="181.0" x2="508.1" y2="182.3" stroke="#333" stroke-width="0.5"/>
<text x="514.9" y="177.7" font-family='"Liberation Sans", sans-serif' font-size="4.8" fill="#333" text-anchor="middle">25</text>
<line x1="514.9" y1="181.0" x2="514.9" y2="182.3" stroke="#333" stroke-width="0.5"/>
<text x="521.8" y="177.7" font-family='"Liberation Sans", sans-serif' font-size="4.8" fill="#333" text-anchor="middle">30</text>
<line x1="521.8" y1="181.0" x2="521.8" y2="182.3" stroke="#333" stroke-width="0.5"/>
<text x="528.6" y="177.7" font-family='"Liberation Sans", sans-serif' font-size="4.8" fill="#333" text-anchor="middle">35</text>
<line x1="528.6" y1="181.0" x2="528.6" y2="182.3" stroke="#333" stroke-width="0.5"/>
<text x="535.4" y="177.7" font-family='"Liberation Sans", sans-serif' font-size="4.8" fill="#333" text-anchor="middle">40</text>
<line x1="535.4" y1="181.0" x2="535.4" y2="182.3" stroke="#333" stroke-width="0.5"/>
<text x="542.2" y="177.7" font-family='"Liberation Sans", sans-serif' font-size="4.8" fill="#333" text-anchor="middle">45</text>
<text x="514.2" y="170.4" font-family='"Liberation Sans", sans-serif' font-size="4.2" fill="#444" text-anchor="middle">DOS(States/eV f.u.)</text>
<rect x="495.8" y="193.1" width="45.80000000000001" height="32.400000000000006" fill="#fff" stroke="#777" stroke-width="0.6"/>
<rect x="497.3" y="195.3" width="9.899999999999977" height="4.599999999999994" fill="#fbbf8b"/>
<text x="508.2" y="199.3" font-family='"Liberation Sans", sans-serif' font-size="4.4" fill="#222">Total Cs<tspan font-size="3.4" dy="0.9">2</tspan><tspan dy="-0.9">AgSbBr<tspan font-size="3.4" dy="0.9">6</tspan><tspan dy="-0.9"></tspan></tspan></text>
<rect x="497.3" y="201.8" width="9.899999999999977" height="4.799999999999983" fill="#5fd39a"/>
<text x="508.2" y="205.9" font-family='"Liberation Sans", sans-serif' font-size="4.4" fill="#222">Total Cs<tspan font-size="3.4" dy="0.9">2</tspan><tspan dy="-0.9"></tspan></text>
<rect x="497.3" y="208.3" width="9.899999999999977" height="4.699999999999989" fill="#c6a8e2"/>
<text x="508.2" y="212.3" font-family='"Liberation Sans", sans-serif' font-size="4.4" fill="#222">Total Ag</text>
<rect x="497.3" y="213.9" width="9.899999999999977" height="4.599999999999994" fill="#fffd8a"/>
<text x="508.2" y="217.9" font-family='"Liberation Sans", sans-serif' font-size="4.4" fill="#222">Total Sb</text>
<rect x="497.3" y="219.3" width="9.899999999999977" height="4.699999999999989" fill="#80b6f4"/>
<text x="508.2" y="223.3" font-family='"Liberation Sans", sans-serif' font-size="4.4" fill="#222">TotalBr<tspan font-size="3.4" dy="0.9">6</tspan><tspan dy="-0.9"></tspan></text>
<text x="371.5" y="166" font-family='"Liberation Serif", serif' font-weight="bold" font-size="11.4" fill="#111">(f)</text>
</g>
</svg></body></html>
